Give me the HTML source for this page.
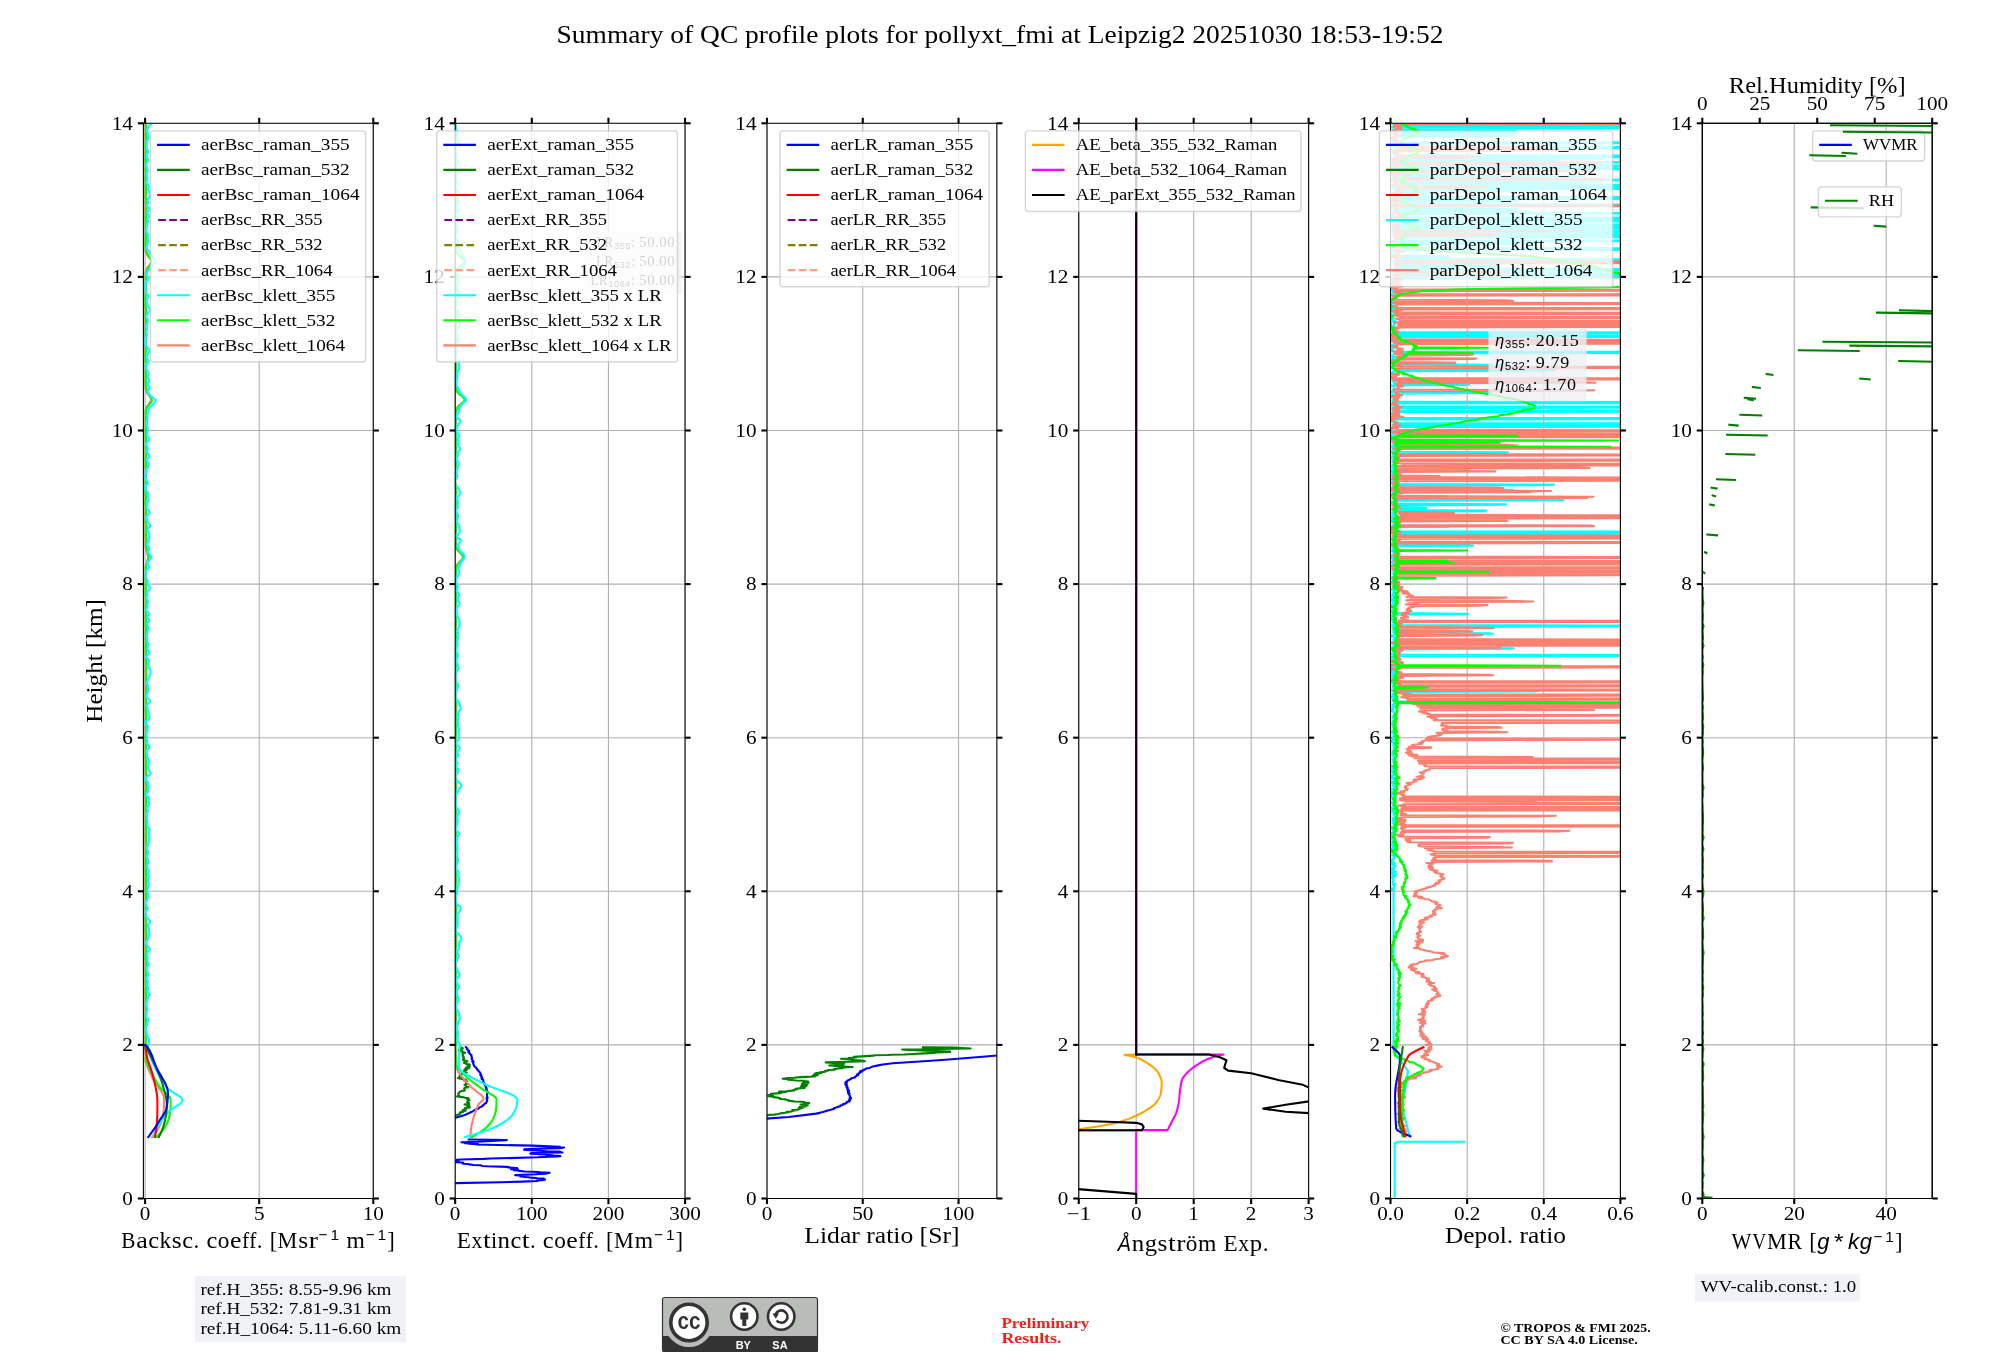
<!DOCTYPE html>
<html><head><meta charset="utf-8"><title>QC profile summary</title><style>html,body{margin:0;padding:0;background:#fff;overflow:hidden}svg{display:block;will-change:transform}</style></head><body>
<svg width="2000" height="1360" viewBox="0 0 1440 979.2" version="1.1">
<defs>
<style type="text/css">*{stroke-linejoin: round; stroke-linecap: butt}</style>
</defs>
<g id="figure_1">
<g id="patch_1">
<path d="M 0 979.2 
L 1440 979.2 
L 1440 0 
L 0 0 
z
" style="fill: #ffffff"/>
</g>
<g id="axes_1">
<g id="patch_2">
<path d="M 103.24 862.92 
L 268.77 862.92 
L 268.77 88.77 
L 103.24 88.77 
z
" style="fill: #ffffff"/>
</g>
<g id="matplotlib.axis_1">
<g id="xtick_1">
<g id="line2d_1">
<path d="M 104.48 862.92 
L 104.48 88.77 
" clip-path="url(#p21842c6471)" style="fill: none; stroke: #b0b0b0; stroke-width: 0.8; stroke-linecap: square"/>
</g>
<g id="line2d_2">
<defs>
<path id="mabf18fba1c" d="M 0 0 
L 0 4 
" style="stroke: #000000; stroke-width: 1.5"/>
</defs>
<g>
<use href="#mabf18fba1c" x="104.48" y="862.92" style="stroke: #000000; stroke-width: 1.5"/>
</g>
</g>
<g id="line2d_3">
<defs>
<path id="m81def42b3b" d="M 0 0 
L 0 -4 
" style="stroke: #000000; stroke-width: 1.5"/>
</defs>
<g>
<use href="#m81def42b3b" x="104.48" y="88.77" style="stroke: #000000; stroke-width: 1.5"/>
</g>
</g>
<g id="text_1">
<text style="font-size: 13.20px; font-family: 'Liberation Serif'; text-anchor: middle" x="104.48" y="878.67"  textLength="7.63" lengthAdjust="spacingAndGlyphs">0</text>
</g>
</g>
<g id="xtick_2">
<g id="line2d_4">
<path d="M 186.62 862.92 
L 186.62 88.77 
" clip-path="url(#p21842c6471)" style="fill: none; stroke: #b0b0b0; stroke-width: 0.8; stroke-linecap: square"/>
</g>
<g id="line2d_5">
<g>
<use href="#mabf18fba1c" x="186.62" y="862.92" style="stroke: #000000; stroke-width: 1.5"/>
</g>
</g>
<g id="line2d_6">
<g>
<use href="#m81def42b3b" x="186.62" y="88.77" style="stroke: #000000; stroke-width: 1.5"/>
</g>
</g>
<g id="text_2">
<text style="font-size: 13.20px; font-family: 'Liberation Serif'; text-anchor: middle" x="186.62" y="878.67"  textLength="7.63" lengthAdjust="spacingAndGlyphs">5</text>
</g>
</g>
<g id="xtick_3">
<g id="line2d_7">
<path d="M 268.77 862.92 
L 268.77 88.77 
" clip-path="url(#p21842c6471)" style="fill: none; stroke: #b0b0b0; stroke-width: 0.8; stroke-linecap: square"/>
</g>
<g id="line2d_8">
<g>
<use href="#mabf18fba1c" x="268.77" y="862.92" style="stroke: #000000; stroke-width: 1.5"/>
</g>
</g>
<g id="line2d_9">
<g>
<use href="#m81def42b3b" x="268.77" y="88.77" style="stroke: #000000; stroke-width: 1.5"/>
</g>
</g>
<g id="text_3">
<text style="font-size: 13.20px; font-family: 'Liberation Serif'; text-anchor: middle" x="268.77" y="878.67"  textLength="15.27" lengthAdjust="spacingAndGlyphs">10</text>
</g>
</g>
<g id="text_4">
<g transform="translate(187.24 899.12) scale(1.040) translate(-96.01 0)">
<text>
<tspan x="0" y="-0.49" style="font-size: 15.99px; font-family: 'Liberation Serif'" textLength="9.84" lengthAdjust="spacingAndGlyphs">B</tspan>
<tspan x="10.28" y="-0.49" style="font-size: 15.99px; font-family: 'Liberation Serif'" textLength="7.99" lengthAdjust="spacingAndGlyphs">a</tspan>
<tspan x="18.63" y="-0.49" style="font-size: 15.99px; font-family: 'Liberation Serif'" textLength="7.50" lengthAdjust="spacingAndGlyphs">c</tspan>
<tspan x="26.47" y="-0.49" style="font-size: 15.99px; font-family: 'Liberation Serif'" textLength="8.12" lengthAdjust="spacingAndGlyphs">k</tspan>
<tspan x="34.95" y="-0.49" style="font-size: 15.99px; font-family: 'Liberation Serif'" textLength="6.87" lengthAdjust="spacingAndGlyphs">s</tspan>
<tspan x="42.14" y="-0.49" style="font-size: 15.99px; font-family: 'Liberation Serif'" textLength="7.50" lengthAdjust="spacingAndGlyphs">c</tspan>
<tspan x="49.98" y="-0.49" style="font-size: 15.99px; font-family: 'Liberation Serif'">.</tspan>
<tspan x="54.43" y="-0.49" style="font-size: 15.99px; font-family: 'Liberation Serif'"> </tspan>
<tspan x="58.88" y="-0.49" style="font-size: 15.99px; font-family: 'Liberation Serif'" textLength="7.50" lengthAdjust="spacingAndGlyphs">c</tspan>
<tspan x="66.72" y="-0.49" style="font-size: 15.99px; font-family: 'Liberation Serif'" textLength="8.06" lengthAdjust="spacingAndGlyphs">o</tspan>
<tspan x="75.15" y="-0.49" style="font-size: 15.99px; font-family: 'Liberation Serif'" textLength="7.93" lengthAdjust="spacingAndGlyphs">e</tspan>
<tspan x="83.43" y="-0.49" style="font-size: 15.99px; font-family: 'Liberation Serif'" textLength="4.96" lengthAdjust="spacingAndGlyphs">f</tspan>
<tspan x="88.62" y="-0.49" style="font-size: 15.99px; font-family: 'Liberation Serif'" textLength="4.96" lengthAdjust="spacingAndGlyphs">f</tspan>
<tspan x="93.80" y="-0.49" style="font-size: 15.99px; font-family: 'Liberation Serif'">.</tspan>
<tspan x="98.25" y="-0.49" style="font-size: 15.99px; font-family: 'Liberation Serif'"> </tspan>
<tspan x="102.70" y="-0.49" style="font-size: 15.99px; font-family: 'Liberation Serif'" textLength="5.23" lengthAdjust="spacingAndGlyphs">[</tspan>
<tspan x="108.16" y="-0.49" style="font-size: 15.99px; font-family: 'Liberation Serif'" textLength="13.72" lengthAdjust="spacingAndGlyphs">M</tspan>
<tspan x="122.5" y="-0.49" style="font-size: 15.99px; font-family: 'Liberation Serif'" textLength="6.87" lengthAdjust="spacingAndGlyphs">s</tspan>
<tspan x="129.68" y="-0.49" style="font-size: 15.99px; font-family: 'Liberation Serif'" textLength="6.40" lengthAdjust="spacingAndGlyphs">r</tspan>
<tspan x="151.34" y="-0.49" style="font-size: 15.99px; font-family: 'Liberation Serif'"> </tspan>
<tspan x="155.79" y="-0.49" style="font-size: 15.99px; font-family: 'Liberation Serif'" textLength="12.70" lengthAdjust="spacingAndGlyphs">m</tspan>
<tspan x="184.02" y="-0.49" style="font-size: 15.99px; font-family: 'Liberation Serif'" textLength="5.23" lengthAdjust="spacingAndGlyphs">]</tspan>
<tspan x="136.51" y="-5.85" style="font-size: 10.68px; font-family: 'Liberation Sans'">−</tspan>
<tspan x="144.72" y="-5.85" style="font-size: 10.68px; font-family: 'Liberation Sans'" textLength="5.97" lengthAdjust="spacingAndGlyphs">1</tspan>
<tspan x="169.19" y="-5.85" style="font-size: 10.68px; font-family: 'Liberation Sans'">−</tspan>
<tspan x="177.41" y="-5.85" style="font-size: 10.68px; font-family: 'Liberation Sans'" textLength="5.97" lengthAdjust="spacingAndGlyphs">1</tspan>
</text>
</g>
</g>
</g>
<g id="matplotlib.axis_2">
<g id="ytick_1">
<g id="line2d_10">
<path d="M 103.24 862.92 
L 268.77 862.92 
" clip-path="url(#p21842c6471)" style="fill: none; stroke: #b0b0b0; stroke-width: 0.8; stroke-linecap: square"/>
</g>
<g id="line2d_11">
<defs>
<path id="m7d13c92054" d="M 0 0 
L -4 0 
" style="stroke: #000000; stroke-width: 1.5"/>
</defs>
<g>
<use href="#m7d13c92054" x="103.24" y="862.92" style="stroke: #000000; stroke-width: 1.5"/>
</g>
</g>
<g id="line2d_12">
<defs>
<path id="m4b7ecec418" d="M 0 0 
L 4 0 
" style="stroke: #000000; stroke-width: 1.5"/>
</defs>
<g>
<use href="#m4b7ecec418" x="268.77" y="862.92" style="stroke: #000000; stroke-width: 1.5"/>
</g>
</g>
<g id="text_5">
<text style="font-size: 13.20px; font-family: 'Liberation Serif'; text-anchor: end" x="95.74" y="867.47" transform="rotate(-0 95.74 867.47)" textLength="7.63" lengthAdjust="spacingAndGlyphs">0</text>
</g>
</g>
<g id="ytick_2">
<g id="line2d_13">
<path d="M 103.24 752.32 
L 268.77 752.32 
" clip-path="url(#p21842c6471)" style="fill: none; stroke: #b0b0b0; stroke-width: 0.8; stroke-linecap: square"/>
</g>
<g id="line2d_14">
<g>
<use href="#m7d13c92054" x="103.24" y="752.32" style="stroke: #000000; stroke-width: 1.5"/>
</g>
</g>
<g id="line2d_15">
<g>
<use href="#m4b7ecec418" x="268.77" y="752.32" style="stroke: #000000; stroke-width: 1.5"/>
</g>
</g>
<g id="text_6">
<text style="font-size: 13.20px; font-family: 'Liberation Serif'; text-anchor: end" x="95.74" y="756.88" transform="rotate(-0 95.74 756.88)" textLength="7.63" lengthAdjust="spacingAndGlyphs">2</text>
</g>
</g>
<g id="ytick_3">
<g id="line2d_16">
<path d="M 103.24 641.73 
L 268.77 641.73 
" clip-path="url(#p21842c6471)" style="fill: none; stroke: #b0b0b0; stroke-width: 0.8; stroke-linecap: square"/>
</g>
<g id="line2d_17">
<g>
<use href="#m7d13c92054" x="103.24" y="641.73" style="stroke: #000000; stroke-width: 1.5"/>
</g>
</g>
<g id="line2d_18">
<g>
<use href="#m4b7ecec418" x="268.77" y="641.73" style="stroke: #000000; stroke-width: 1.5"/>
</g>
</g>
<g id="text_7">
<text style="font-size: 13.20px; font-family: 'Liberation Serif'; text-anchor: end" x="95.74" y="646.29" transform="rotate(-0 95.74 646.29)" textLength="7.63" lengthAdjust="spacingAndGlyphs">4</text>
</g>
</g>
<g id="ytick_4">
<g id="line2d_19">
<path d="M 103.24 531.14 
L 268.77 531.14 
" clip-path="url(#p21842c6471)" style="fill: none; stroke: #b0b0b0; stroke-width: 0.8; stroke-linecap: square"/>
</g>
<g id="line2d_20">
<g>
<use href="#m7d13c92054" x="103.24" y="531.14" style="stroke: #000000; stroke-width: 1.5"/>
</g>
</g>
<g id="line2d_21">
<g>
<use href="#m4b7ecec418" x="268.77" y="531.14" style="stroke: #000000; stroke-width: 1.5"/>
</g>
</g>
<g id="text_8">
<text style="font-size: 13.20px; font-family: 'Liberation Serif'; text-anchor: end" x="95.74" y="535.70" transform="rotate(-0 95.74 535.70)" textLength="7.63" lengthAdjust="spacingAndGlyphs">6</text>
</g>
</g>
<g id="ytick_5">
<g id="line2d_22">
<path d="M 103.24 420.55 
L 268.77 420.55 
" clip-path="url(#p21842c6471)" style="fill: none; stroke: #b0b0b0; stroke-width: 0.8; stroke-linecap: square"/>
</g>
<g id="line2d_23">
<g>
<use href="#m7d13c92054" x="103.24" y="420.55" style="stroke: #000000; stroke-width: 1.5"/>
</g>
</g>
<g id="line2d_24">
<g>
<use href="#m4b7ecec418" x="268.77" y="420.55" style="stroke: #000000; stroke-width: 1.5"/>
</g>
</g>
<g id="text_9">
<text style="font-size: 13.20px; font-family: 'Liberation Serif'; text-anchor: end" x="95.74" y="425.11" transform="rotate(-0 95.74 425.11)" textLength="7.63" lengthAdjust="spacingAndGlyphs">8</text>
</g>
</g>
<g id="ytick_6">
<g id="line2d_25">
<path d="M 103.24 309.96 
L 268.77 309.96 
" clip-path="url(#p21842c6471)" style="fill: none; stroke: #b0b0b0; stroke-width: 0.8; stroke-linecap: square"/>
</g>
<g id="line2d_26">
<g>
<use href="#m7d13c92054" x="103.24" y="309.96" style="stroke: #000000; stroke-width: 1.5"/>
</g>
</g>
<g id="line2d_27">
<g>
<use href="#m4b7ecec418" x="268.77" y="309.96" style="stroke: #000000; stroke-width: 1.5"/>
</g>
</g>
<g id="text_10">
<text style="font-size: 13.20px; font-family: 'Liberation Serif'; text-anchor: end" x="95.74" y="314.51" transform="rotate(-0 95.74 314.51)" textLength="15.27" lengthAdjust="spacingAndGlyphs">10</text>
</g>
</g>
<g id="ytick_7">
<g id="line2d_28">
<path d="M 103.24 199.36 
L 268.77 199.36 
" clip-path="url(#p21842c6471)" style="fill: none; stroke: #b0b0b0; stroke-width: 0.8; stroke-linecap: square"/>
</g>
<g id="line2d_29">
<g>
<use href="#m7d13c92054" x="103.24" y="199.36" style="stroke: #000000; stroke-width: 1.5"/>
</g>
</g>
<g id="line2d_30">
<g>
<use href="#m4b7ecec418" x="268.77" y="199.36" style="stroke: #000000; stroke-width: 1.5"/>
</g>
</g>
<g id="text_11">
<text style="font-size: 13.20px; font-family: 'Liberation Serif'; text-anchor: end" x="95.74" y="203.92" transform="rotate(-0 95.74 203.92)" textLength="15.27" lengthAdjust="spacingAndGlyphs">12</text>
</g>
</g>
<g id="ytick_8">
<g id="line2d_31">
<path d="M 103.24 88.77 
L 268.77 88.77 
" clip-path="url(#p21842c6471)" style="fill: none; stroke: #b0b0b0; stroke-width: 0.8; stroke-linecap: square"/>
</g>
<g id="line2d_32">
<g>
<use href="#m7d13c92054" x="103.24" y="88.77" style="stroke: #000000; stroke-width: 1.5"/>
</g>
</g>
<g id="line2d_33">
<g>
<use href="#m4b7ecec418" x="268.77" y="88.77" style="stroke: #000000; stroke-width: 1.5"/>
</g>
</g>
<g id="text_12">
<text style="font-size: 13.20px; font-family: 'Liberation Serif'; text-anchor: end" x="95.74" y="93.33" transform="rotate(-0 95.74 93.33)" textLength="15.27" lengthAdjust="spacingAndGlyphs">14</text>
</g>
</g>
<g id="text_13">
<text style="font-size: 16.63px; font-family: 'Liberation Serif'; text-anchor: middle" x="73.36" y="475.84"  textLength="89.14" lengthAdjust="spacingAndGlyphs" transform="rotate(-90 73.36 475.84)">Height [km]</text>
</g>
</g>
<g id="line2d_34">
<path d="M 109.57 818.68 
L 111.41 816.47 
L 112.97 814.25 
L 114.27 812.04 
L 115.33 809.83 
L 116.17 807.62 
L 116.96 804.85 
L 117.50 802.09 
L 117.89 798.77 
L 118.08 794.90 
L 118.08 790.48 
L 117.88 789.37 
L 117.49 788.27 
L 116.64 786.61 
L 115.15 784.39 
L 111.16 778.87 
L 110.01 776.65 
L 107.47 771.12 
L 105.43 766.15 
L 104.80 764.49 
L 104.64 764.49 
L 104.73 408.93 
L 104.94 407.28 
L 105.36 405.62 
L 106.49 402.30 
L 106.61 401.19 
L 106.49 400.09 
L 105.97 398.43 
L 105.20 396.22 
L 104.85 394.56 
L 104.68 392.35 
L 104.64 386.82 
L 104.71 296.68 
L 104.93 295.03 
L 105.26 293.92 
L 105.80 292.81 
L 106.98 291.15 
L 108.21 289.50 
L 108.68 288.39 
L 108.75 287.84 
L 108.68 287.28 
L 108.21 286.18 
L 106.98 284.52 
L 105.80 282.86 
L 105.26 281.75 
L 104.93 280.65 
L 104.71 278.99 
L 104.64 275.67 
L 104.64 217.61 
L 104.71 197.15 
L 104.93 195.49 
L 105.26 194.39 
L 105.80 193.28 
L 106.98 191.62 
L 108.21 189.96 
L 108.68 188.86 
L 108.75 188.30 
L 108.68 187.75 
L 108.21 186.64 
L 106.98 184.99 
L 105.80 183.33 
L 105.26 182.22 
L 104.93 181.12 
L 104.71 179.46 
L 104.64 176.14 
L 104.64 118.08 
L 104.64 89.32 
L 104.64 89.32 
" clip-path="url(#p21842c6471)" style="fill: none; stroke: #fa8072; stroke-width: 1.5; stroke-linecap: square"/>
</g>
<g id="line2d_35">
<path d="M 112.53 818.68 
L 114.90 816.47 
L 116.89 814.25 
L 118.51 812.04 
L 119.81 809.83 
L 120.82 807.62 
L 121.58 805.41 
L 122.13 803.20 
L 122.56 800.43 
L 122.81 797.11 
L 122.88 792.69 
L 122.83 791.58 
L 122.44 790.48 
L 121.75 789.37 
L 120.29 787.71 
L 117.33 784.95 
L 115.65 783.29 
L 114.71 782.18 
L 113.30 779.97 
L 110.70 775.55 
L 108.67 771.68 
L 107.18 768.36 
L 106.14 765.59 
L 105.79 764.49 
L 105.13 764.49 
L 105.28 761.72 
L 105.37 758.96 
L 105.20 757.30 
L 105.01 755.64 
L 104.89 750.11 
L 105.08 748.45 
L 105.07 746.79 
L 105.26 744.58 
L 104.92 741.82 
L 104.97 740.16 
L 104.95 739.05 
L 105.10 736.84 
L 104.94 733.52 
L 105.04 730.76 
L 105.32 727.99 
L 105.47 726.33 
L 105.15 723.57 
L 105.28 722.46 
L 105.13 718.59 
L 105.15 716.93 
L 104.94 714.72 
L 105.23 711.40 
L 105.03 708.64 
L 105 706.98 
L 105.28 704.22 
L 105.09 702 
L 105.10 698.69 
L 105.06 696.47 
L 105.25 695.37 
L 105.49 694.26 
L 105.40 693.16 
L 105.04 690.94 
L 104.88 688.73 
L 105.34 684.31 
L 105.40 682.65 
L 105.33 679.89 
L 105.25 678.23 
L 105.19 676.57 
L 105.48 673.25 
L 104.94 669.93 
L 105.02 666.06 
L 105.14 664.96 
L 105.03 663.30 
L 104.90 661.08 
L 104.94 658.87 
L 105.27 656.11 
L 105.09 652.79 
L 105.05 651.68 
L 105.30 646.71 
L 105.18 643.39 
L 105.31 641.18 
L 105.24 638.97 
L 105.32 637.31 
L 105.09 633.44 
L 105.28 630.67 
L 105.08 628.46 
L 105.03 626.80 
L 105.19 623.48 
L 105.03 620.72 
L 105.34 614.64 
L 105.43 607.45 
L 105.10 605.24 
L 105.06 595.84 
L 105.19 594.18 
L 105.10 591.41 
L 105.40 589.20 
L 105.29 586.99 
L 105.39 585.33 
L 105.18 584.22 
L 104.90 583.12 
L 104.94 582.01 
L 105.19 580.35 
L 105.22 574.27 
L 105.09 573.16 
L 104.75 571.51 
L 104.80 570.40 
L 105.38 568.74 
L 105.61 567.63 
L 105.55 566.53 
L 105.19 563.21 
L 105.26 561 
L 105.36 557.68 
L 105.02 554.92 
L 105.04 552.70 
L 104.97 551.05 
L 105.44 548.28 
L 105.14 546.62 
L 105.01 545.52 
L 105.02 541.09 
L 105.05 537.77 
L 105.08 536.12 
L 105.14 533.90 
L 105.13 532.80 
L 104.67 530.59 
L 105 529.48 
L 105.31 528.37 
L 105.43 526.72 
L 105.10 520.08 
L 104.99 518.42 
L 105.18 517.32 
L 105.54 515.66 
L 105.48 514.55 
L 104.93 511.79 
L 105.08 509.57 
L 105.25 507.36 
L 105.03 501.28 
L 105.32 499.07 
L 105.57 492.98 
L 105.46 491.88 
L 105.22 490.22 
L 105.24 488.01 
L 105.33 485.80 
L 105.13 484.69 
L 104.88 483.58 
L 105 482.48 
L 105.42 480.82 
L 105.37 479.71 
L 105.10 477.50 
L 105.18 476.40 
L 105.31 475.29 
L 105.13 473.08 
L 105.03 469.76 
L 105.05 465.89 
L 105.27 463.12 
L 105.07 459.25 
L 105.43 457.04 
L 105.24 455.94 
L 105.06 454.83 
L 105.18 453.72 
L 105.37 452.62 
L 105.30 451.51 
L 104.93 449.85 
L 104.97 448.75 
L 105.12 447.09 
L 105.10 445.43 
L 105.24 443.77 
L 105.04 439.90 
L 105.13 438.79 
L 105.08 436.58 
L 105.54 433.82 
L 105.38 432.71 
L 105.11 431.05 
L 104.89 421.65 
L 105.04 420.55 
L 105.37 418.89 
L 105.25 417.78 
L 104.86 416.12 
L 104.86 415.02 
L 105.13 412.25 
L 105.15 410.59 
L 105.02 408.38 
L 105.32 407.28 
L 106.24 405.06 
L 106.68 403.41 
L 107.21 400.64 
L 107.03 399.53 
L 105.82 395.66 
L 105.24 392.90 
L 105.14 391.79 
L 105.30 390.69 
L 105.55 389.58 
L 105.55 388.48 
L 105.07 385.71 
L 104.97 382.39 
L 105.49 379.63 
L 105.41 378.52 
L 104.98 376.31 
L 104.99 375.20 
L 105.09 372.99 
L 105.11 371.89 
L 105.30 370.23 
L 105.12 364.70 
L 104.79 362.49 
L 104.79 360.27 
L 105.19 358.62 
L 105.10 357.51 
L 104.92 355.85 
L 104.76 351.98 
L 104.90 350.87 
L 104.95 348.66 
L 105.14 347 
L 105.22 343.69 
L 104.99 342.03 
L 105.15 340.92 
L 105.40 339.81 
L 105.42 338.71 
L 105.20 337.05 
L 105 335.39 
L 105.09 332.07 
L 104.87 329.86 
L 105.07 328.76 
L 105.37 327.10 
L 105.35 325.99 
L 105.04 323.23 
L 105.18 319.36 
L 105.05 314.38 
L 105.12 310.51 
L 105.07 309.40 
L 105.21 306.08 
L 105.16 304.43 
L 105.37 301.66 
L 105.28 300 
L 105.22 298.34 
L 104.93 296.68 
L 105.03 295.58 
L 105.34 294.47 
L 106.07 292.81 
L 106.95 291.71 
L 108.61 290.05 
L 108.99 289.50 
L 109.24 288.94 
L 109.34 288.39 
L 109.31 287.84 
L 108.97 286.73 
L 108.18 285.07 
L 107.30 283.97 
L 106.39 282.86 
L 105.77 281.75 
L 105.54 280.65 
L 105.35 278.99 
L 105.03 276.78 
L 104.80 273.46 
L 105.15 271.80 
L 105.30 270.69 
L 105.10 269.04 
L 104.98 267.38 
L 105.10 265.72 
L 105.44 262.95 
L 105.29 261.85 
L 105.02 260.19 
L 104.75 256.32 
L 104.92 253 
L 105.06 251.34 
L 104.95 248.58 
L 104.99 246.92 
L 104.92 245.26 
L 105.11 240.28 
L 104.93 238.07 
L 105.16 235.86 
L 105.59 233.65 
L 105.46 232.54 
L 105.20 230.88 
L 104.97 227.01 
L 105.07 225.35 
L 105.29 223.69 
L 105.12 222.59 
L 104.90 221.48 
L 104.77 213.74 
L 104.99 212.63 
L 105.25 211.53 
L 105.26 210.42 
L 104.89 208.21 
L 105.11 204.89 
L 105.29 203.23 
L 105.17 199.36 
L 105.48 196.05 
L 105.74 194.94 
L 106.15 193.83 
L 106.84 192.73 
L 108.06 191.07 
L 108.80 189.41 
L 109.10 188.30 
L 109.09 187.75 
L 108.93 187.20 
L 108.31 186.09 
L 106.05 182.77 
L 105.59 181.67 
L 105.40 180.56 
L 105.21 178.90 
L 104.90 177.24 
L 104.91 175.03 
L 105.04 172.27 
L 105.17 170.61 
L 105.17 169.50 
L 105.08 168.40 
L 105.33 165.63 
L 105.08 163.97 
L 105.15 162.87 
L 105.43 161.21 
L 105.32 160.10 
L 105.02 158.44 
L 105.13 155.13 
L 105.16 154.02 
L 105.49 151.26 
L 105.56 149.60 
L 105.25 145.73 
L 105.34 144.62 
L 105.19 143.51 
L 104.95 142.41 
L 104.95 141.30 
L 105.10 139.09 
L 105.09 134.11 
L 105.13 132.45 
L 104.94 129.69 
L 104.98 128.03 
L 105.27 125.82 
L 105.07 124.16 
L 104.97 122.50 
L 105.11 120.84 
L 105.22 119.74 
L 104.96 114.21 
L 105.03 112 
L 105.29 109.78 
L 105.13 106.47 
L 105.04 104.25 
L 105.17 102.6 
L 105.53 99.83 
L 105.31 98.72 
L 105.06 97.62 
L 105.18 96.51 
L 105.44 95.41 
L 105.43 94.30 
L 105.29 92.64 
L 105.26 89.88 
L 105.24 89.32 
L 105.24 89.32 
" clip-path="url(#p21842c6471)" style="fill: none; stroke: #00ff00; stroke-width: 1.5; stroke-linecap: square"/>
</g>
<g id="line2d_36">
<path d="M 110.55 818.68 
L 110.94 817.02 
L 111.72 814.81 
L 112.74 812.60 
L 113.99 810.38 
L 115.80 807.62 
L 118.26 804.30 
L 120.90 800.98 
L 122.05 799.88 
L 123.56 798.77 
L 129.46 794.90 
L 130.66 793.8 
L 131.07 793.24 
L 131.33 792.69 
L 131.42 792.14 
L 131.32 791.58 
L 131.02 791.03 
L 129.95 789.92 
L 128.41 788.82 
L 121.46 784.39 
L 120.43 783.29 
L 118.29 780.52 
L 116.45 777.76 
L 114.52 774.44 
L 112.25 770.02 
L 109.65 764.49 
L 107.82 760.06 
L 106.46 756.19 
L 105.79 753.98 
L 106.25 753.98 
L 106.42 752.88 
L 106.98 751.22 
L 107.25 750.11 
L 107.38 748.45 
L 107.25 747.90 
L 106.60 746.79 
L 105.92 745.69 
L 105.64 744.58 
L 105.49 742.37 
L 104.86 740.71 
L 104.89 740.16 
L 105.16 739.60 
L 105.93 738.50 
L 106.04 737.95 
L 105.88 736.84 
L 106 736.29 
L 106.87 734.63 
L 106.85 734.08 
L 106.53 733.52 
L 105.46 732.42 
L 105.21 731.86 
L 105.29 731.31 
L 105.62 730.20 
L 105.44 728.55 
L 106.15 726.89 
L 106.11 726.33 
L 105.44 724.12 
L 105.41 722.46 
L 105.55 721.36 
L 106.19 719.15 
L 106.74 718.04 
L 107.80 716.38 
L 107.83 715.83 
L 107.48 715.27 
L 106.29 714.17 
L 106.10 713.62 
L 106.35 713.06 
L 106.74 712.51 
L 106.94 711.96 
L 106.80 711.40 
L 106.11 710.30 
L 105.91 709.75 
L 105.90 709.19 
L 106.47 706.98 
L 106.36 706.43 
L 105.42 704.22 
L 105.68 703.66 
L 106.50 702.56 
L 106.76 702 
L 106.85 701.45 
L 106.74 700.90 
L 105.94 699.24 
L 105.62 697.03 
L 105.67 696.47 
L 105.99 695.92 
L 106.92 694.82 
L 107.09 694.26 
L 106.95 693.71 
L 106.14 692.05 
L 106.10 691.50 
L 106.36 689.84 
L 106.15 688.18 
L 105.91 686.52 
L 105.95 685.97 
L 106.24 685.41 
L 107.91 683.76 
L 107.90 683.20 
L 107.50 682.65 
L 106.48 681.54 
L 105.84 680.44 
L 105.08 678.78 
L 105.15 678.23 
L 105.89 677.12 
L 106.28 676.57 
L 106.65 675.46 
L 106.97 674.36 
L 107.47 673.25 
L 107.58 672.70 
L 107.38 671.59 
L 107.17 670.48 
L 107.18 668.83 
L 106.83 667.72 
L 106.47 666.61 
L 106.53 666.06 
L 106.80 665.51 
L 108.01 663.85 
L 108.08 663.30 
L 107.85 662.74 
L 106.74 661.64 
L 105.68 660.53 
L 105.45 659.98 
L 105.16 657.77 
L 105.02 657.21 
L 105.07 656.66 
L 105.35 656.11 
L 106.13 655 
L 106.32 654.45 
L 106.29 653.90 
L 105.81 652.79 
L 105.37 651.68 
L 105.21 650.58 
L 105.16 649.47 
L 105.22 648.92 
L 105.41 648.37 
L 106.18 647.26 
L 106.61 646.71 
L 106.86 646.15 
L 106.84 645.05 
L 106.62 643.39 
L 105.91 641.73 
L 105.91 641.18 
L 107.13 637.31 
L 107.16 636.75 
L 106.79 635.10 
L 106.44 633.44 
L 106.51 632.88 
L 107.15 631.22 
L 107.11 630.67 
L 106.69 629.57 
L 106.64 629.01 
L 106.98 627.91 
L 107.15 627.35 
L 107.15 626.80 
L 106.94 626.25 
L 105.95 624.59 
L 105.87 624.04 
L 106.09 622.93 
L 106.90 620.72 
L 106.95 620.17 
L 106.85 619.61 
L 105.87 617.40 
L 105.79 616.29 
L 105.95 615.74 
L 106.72 614.08 
L 106.71 613.53 
L 106.11 611.87 
L 105.79 610.77 
L 105.80 610.21 
L 106.23 609.11 
L 107.18 606.89 
L 107.47 605.79 
L 107.28 603.58 
L 107.47 602.47 
L 107.35 601.36 
L 107.14 600.26 
L 107.19 599.71 
L 107.61 598.60 
L 107.83 598.05 
L 107.87 597.49 
L 107.64 596.94 
L 106.28 595.28 
L 106.13 594.73 
L 106.03 592.52 
L 106.14 591.41 
L 105.90 589.75 
L 105.99 588.09 
L 105.53 586.44 
L 105.65 585.88 
L 106.50 584.22 
L 106.55 583.67 
L 106.22 582.56 
L 106.02 582.01 
L 105.94 581.46 
L 106.11 580.91 
L 107.47 579.25 
L 107.53 578.69 
L 106.86 577.03 
L 107 576.48 
L 107.51 575.38 
L 107.48 574.82 
L 107.13 574.27 
L 105.24 572.61 
L 105.12 572.06 
L 105.42 571.51 
L 106.33 570.40 
L 106.57 569.85 
L 106.59 568.74 
L 106.68 567.63 
L 106.96 566.53 
L 106.90 565.42 
L 106.50 563.21 
L 106.07 562.66 
L 104.92 561.55 
L 104.53 561 
L 104.43 560.45 
L 104.74 559.89 
L 105.45 559.34 
L 107.40 558.23 
L 108.13 557.68 
L 108.48 557.13 
L 108.45 556.58 
L 107.01 553.81 
L 106.53 552.70 
L 106.49 552.15 
L 107.20 548.83 
L 107.45 547.73 
L 107.31 547.17 
L 106.48 546.07 
L 106.07 545.52 
L 105.83 544.96 
L 105.79 544.41 
L 105.99 542.75 
L 105.45 541.09 
L 105.54 540.54 
L 105.94 539.99 
L 107.18 538.88 
L 107.60 538.33 
L 107.67 537.77 
L 107.39 537.22 
L 105.90 535.56 
L 105.71 535.01 
L 105.87 532.80 
L 105.61 531.69 
L 105.72 530.03 
L 105.37 528.93 
L 105.38 528.37 
L 106.13 526.16 
L 106.03 524.50 
L 106.42 522.84 
L 106.26 522.29 
L 105.67 521.74 
L 104.19 520.63 
L 104.15 520.08 
L 104.76 519.53 
L 106.53 518.42 
L 107.10 517.87 
L 107.44 517.32 
L 107.60 516.76 
L 107.63 516.21 
L 107.37 515.10 
L 107.05 514 
L 106.81 512.34 
L 106.41 511.23 
L 106.14 509.57 
L 105.65 508.47 
L 105.64 507.91 
L 105.93 507.36 
L 107.16 506.26 
L 107.77 505.70 
L 108.14 505.15 
L 108.18 504.60 
L 107.88 504.04 
L 106.63 502.94 
L 105.99 502.39 
L 105.55 501.83 
L 105.37 501.28 
L 105.43 500.73 
L 106.03 499.07 
L 106.78 497.41 
L 106.80 496.86 
L 106.57 495.20 
L 106.73 494.09 
L 106.63 493.54 
L 105.47 491.88 
L 105.47 491.33 
L 105.79 490.77 
L 106.65 489.67 
L 107.12 488.56 
L 107.60 486.90 
L 108.45 485.24 
L 108.45 484.69 
L 108.20 483.58 
L 108.29 482.48 
L 108.16 481.93 
L 106.70 479.71 
L 106.59 478.61 
L 106.76 477.50 
L 107.21 475.84 
L 107.18 475.29 
L 106.87 474.74 
L 105.11 473.08 
L 105.14 472.53 
L 105.68 471.97 
L 107.21 470.87 
L 107.62 470.31 
L 107.65 469.76 
L 107.39 469.21 
L 106.31 467.55 
L 106.13 467 
L 106.19 466.44 
L 107.09 464.78 
L 107 464.23 
L 106.25 462.57 
L 105.87 460.91 
L 105.76 457.60 
L 105.86 456.49 
L 105.89 455.38 
L 106.14 454.83 
L 106.89 453.72 
L 107.02 453.17 
L 106.72 452.07 
L 105.85 449.30 
L 105.97 448.75 
L 106.40 448.2 
L 107.48 447.09 
L 107.63 446.54 
L 107.35 445.98 
L 106.23 444.88 
L 105.97 444.32 
L 106.09 443.77 
L 107.39 442.11 
L 107.44 441.56 
L 107.06 441.01 
L 105.75 439.90 
L 105.37 439.35 
L 105.31 438.79 
L 105.53 438.24 
L 106.17 437.14 
L 106.21 436.58 
L 105.97 435.48 
L 106.14 434.92 
L 106.72 433.82 
L 106.76 433.27 
L 106.59 432.71 
L 105.61 431.05 
L 105.48 430.50 
L 105.59 429.95 
L 106.14 428.84 
L 106.26 428.29 
L 105.85 426.63 
L 106.05 426.08 
L 107.16 424.97 
L 107.72 424.42 
L 108.07 423.86 
L 108.13 423.31 
L 107.89 422.76 
L 106.16 420.55 
L 106.09 419.99 
L 106.25 417.78 
L 105.66 416.68 
L 105.08 415.57 
L 105.03 415.02 
L 105.42 412.81 
L 105.19 411.70 
L 105.20 411.15 
L 105.43 410.59 
L 105.89 410.04 
L 107.17 408.93 
L 107.57 408.38 
L 107.59 407.83 
L 107.23 407.28 
L 106.22 406.17 
L 105.99 405.62 
L 106.10 405.06 
L 106.50 404.51 
L 108.17 402.85 
L 108.76 401.75 
L 108.94 401.19 
L 108.93 400.64 
L 108.68 400.09 
L 107.60 398.98 
L 107 398.43 
L 106.58 397.88 
L 106.50 397.32 
L 106.73 396.77 
L 107.43 395.66 
L 107.53 395.11 
L 107.43 394.56 
L 106.82 393.45 
L 106.08 392.35 
L 105.95 391.79 
L 106.14 391.24 
L 106.93 390.13 
L 107.12 389.58 
L 107.14 387.92 
L 107.52 386.26 
L 107.55 385.16 
L 107.33 384.05 
L 106.84 382.95 
L 106.26 381.84 
L 106.21 381.29 
L 106.48 380.73 
L 108.19 379.08 
L 108.39 378.52 
L 108.18 377.97 
L 106.23 375.76 
L 105.90 374.65 
L 105.58 373.55 
L 105.35 372.99 
L 105.29 372.44 
L 105.53 371.89 
L 106.64 370.78 
L 107.67 369.67 
L 107.92 369.12 
L 107.89 368.57 
L 107.57 368.02 
L 105.93 366.36 
L 105.60 365.80 
L 105.52 365.25 
L 105.88 364.15 
L 106.08 363.59 
L 106.15 363.04 
L 106.05 361.93 
L 106.19 361.38 
L 106.87 360.27 
L 107.03 359.72 
L 106.80 358.62 
L 106.29 356.40 
L 106.51 354.74 
L 106.23 354.19 
L 105.21 353.09 
L 104.88 352.53 
L 104.45 350.87 
L 104.42 350.32 
L 104.73 349.77 
L 106.55 348.11 
L 106.52 347.56 
L 105.46 345.90 
L 104.81 343.69 
L 104.33 342.58 
L 104.31 342.03 
L 104.57 341.47 
L 104.97 340.92 
L 105.23 340.37 
L 105.13 338.71 
L 106.31 336.50 
L 106.44 335.94 
L 107.26 334.29 
L 107.12 333.73 
L 105.77 332.07 
L 105.61 331.52 
L 105.82 330.97 
L 107.51 329.31 
L 107.70 328.76 
L 107.62 328.20 
L 107.03 327.10 
L 105.78 325.44 
L 105.69 324.88 
L 106.09 323.78 
L 106.31 323.23 
L 106.40 322.67 
L 106.33 322.12 
L 105.77 321.01 
L 105.11 319.91 
L 105.08 319.36 
L 105.40 318.80 
L 107.10 317.14 
L 107.38 316.59 
L 107.44 316.04 
L 107.30 315.48 
L 106.54 314.38 
L 106.11 313.83 
L 105.86 313.27 
L 105.87 312.72 
L 106.11 311.61 
L 106.26 309.96 
L 106.51 308.85 
L 106.39 308.30 
L 105.91 307.19 
L 105.74 306.08 
L 105.71 304.98 
L 106.11 302.21 
L 106.40 301.11 
L 106.40 300.55 
L 106.01 298.90 
L 106.49 297.79 
L 106.88 296.68 
L 106.91 295.58 
L 106.91 294.47 
L 107.19 293.92 
L 107.78 293.37 
L 109.98 291.71 
L 112.03 288.94 
L 112.21 288.39 
L 111.95 287.84 
L 111.29 287.28 
L 109.66 286.18 
L 108.53 285.07 
L 106.41 282.31 
L 106.22 281.75 
L 106.41 281.20 
L 107.70 279.54 
L 107.71 278.99 
L 107.46 278.44 
L 106.28 276.78 
L 106.18 276.22 
L 106.47 275.67 
L 107.51 274.57 
L 107.68 274.01 
L 107.48 273.46 
L 106.46 271.80 
L 106.38 271.25 
L 106.52 270.69 
L 107.08 269.59 
L 107.13 269.04 
L 106.94 268.48 
L 105.99 266.82 
L 105.26 265.17 
L 104.71 264.06 
L 104.61 263.51 
L 104.75 262.95 
L 105.14 262.40 
L 106.86 260.74 
L 107.05 260.19 
L 106.91 259.64 
L 105.84 257.98 
L 105.64 257.42 
L 105.57 256.87 
L 105.62 256.32 
L 105.82 255.76 
L 106.92 254.11 
L 107.59 253 
L 107.69 252.45 
L 107.49 251.89 
L 106.04 250.24 
L 104.87 248.02 
L 104.54 247.47 
L 104.39 246.92 
L 104.71 243.60 
L 105.31 242.49 
L 105.88 241.39 
L 105.96 240.84 
L 105.81 240.28 
L 105.27 239.18 
L 105.27 238.62 
L 105.75 236.96 
L 105.31 234.75 
L 105.70 233.65 
L 106.23 232.54 
L 106.50 231.43 
L 106.39 230.33 
L 105.86 229.22 
L 105.36 228.12 
L 105.36 227.56 
L 105.80 226.46 
L 106.41 225.35 
L 107.57 224.25 
L 108.13 223.69 
L 108.38 223.14 
L 108.21 222.59 
L 106.88 220.93 
L 106.16 219.27 
L 105.56 217.61 
L 105.55 216.50 
L 105.75 215.40 
L 106.01 214.85 
L 106.82 213.74 
L 106.98 213.19 
L 106.76 212.63 
L 105.20 210.98 
L 105.14 210.42 
L 105.43 209.32 
L 105.35 208.76 
L 104.68 207.10 
L 104.76 206 
L 104.88 204.89 
L 104.61 203.23 
L 104.97 202.68 
L 106.82 201.02 
L 107.03 200.47 
L 106.89 199.92 
L 105.37 198.26 
L 105.23 197.70 
L 105.37 197.15 
L 106.42 194.94 
L 107.71 193.83 
L 108.96 192.73 
L 111.66 188.86 
L 112.03 187.75 
L 111.96 187.20 
L 111.64 186.64 
L 108.16 182.77 
L 107.69 181.12 
L 107.22 180.56 
L 105.85 179.46 
L 105.48 178.90 
L 105.47 178.35 
L 106.03 176.69 
L 106.18 175.59 
L 106.62 173.93 
L 106.61 172.82 
L 106.39 171.16 
L 106.44 170.61 
L 106.79 169.50 
L 106.76 168.95 
L 106.43 168.40 
L 105.42 167.29 
L 105.16 166.74 
L 105.15 165.63 
L 105.27 164.53 
L 105.93 162.87 
L 105.90 161.21 
L 106.61 159.55 
L 106.46 159 
L 106.15 158.44 
L 106.03 157.89 
L 106.30 157.34 
L 107.31 156.23 
L 107.45 155.68 
L 107.20 155.13 
L 106.27 154.02 
L 106.02 153.47 
L 106.06 152.91 
L 106.37 152.36 
L 107.35 151.26 
L 107.64 150.70 
L 107.57 150.15 
L 107.14 149.60 
L 105.98 148.49 
L 105.76 147.94 
L 105.91 147.38 
L 106.58 146.28 
L 106.65 145.73 
L 106.18 144.07 
L 106.39 143.51 
L 107.15 142.41 
L 108.19 140.20 
L 108.30 139.64 
L 108.23 139.09 
L 107.69 137.98 
L 106.65 136.33 
L 106.62 135.77 
L 107.24 134.11 
L 107.05 133.56 
L 105.47 131.90 
L 105.31 131.35 
L 105.45 130.80 
L 105.97 129.69 
L 106.11 128.58 
L 105.87 126.93 
L 105.56 125.27 
L 105.59 124.71 
L 106.07 123.61 
L 106.30 123.05 
L 106.38 122.50 
L 106.27 121.95 
L 105.50 120.29 
L 105.38 119.18 
L 105.40 118.08 
L 105.60 117.52 
L 106.79 115.87 
L 106.89 115.31 
L 106.74 114.76 
L 105.70 113.10 
L 105.56 112.55 
L 105.61 111.44 
L 105.82 110.89 
L 106.54 109.78 
L 106.69 109.23 
L 106.53 108.68 
L 105.87 107.57 
L 105.71 107.02 
L 105.57 102.04 
L 105.80 101.49 
L 106.89 99.83 
L 106.99 99.28 
L 106.88 98.17 
L 106.48 96.51 
L 105.84 94.30 
L 105.84 93.75 
L 106.19 92.64 
L 106.86 91.54 
L 108.71 89.32 
L 108.71 89.32 
" clip-path="url(#p21842c6471)" style="fill: none; stroke: #00ffff; stroke-width: 1.5; stroke-linecap: square"/>
</g>
<g id="line2d_37">
<path d="M 111.54 818.68 
L 111.65 818.13 
L 111.76 817.57 
L 111.87 817.02 
L 111.97 816.47 
L 112.06 815.91 
L 112.15 815.36 
L 112.24 814.81 
L 112.32 814.25 
L 112.40 813.70 
L 112.47 813.15 
L 112.54 812.60 
L 112.61 812.04 
L 112.67 811.49 
L 112.73 810.94 
L 112.79 810.38 
L 112.84 809.83 
L 112.89 809.28 
L 112.93 808.72 
L 112.97 808.17 
L 113.01 807.62 
L 113.05 807.07 
L 113.08 806.51 
L 113.11 805.96 
L 113.14 805.41 
L 113.17 804.85 
L 113.19 804.30 
L 113.21 803.75 
L 113.23 803.20 
L 113.25 802.64 
L 113.27 802.09 
L 113.28 801.54 
L 113.29 800.98 
L 113.30 800.43 
L 113.31 799.88 
L 113.32 799.32 
L 113.33 798.77 
L 113.33 798.22 
L 113.34 797.67 
L 113.34 797.11 
L 113.34 796.56 
L 113.34 796.01 
L 113.35 795.45 
L 113.35 794.90 
L 113.35 794.35 
L 113.35 793.8 
L 113.35 793.24 
L 113.34 792.69 
L 113.33 792.14 
L 113.30 791.58 
L 113.27 791.03 
L 113.23 790.48 
L 113.18 789.92 
L 113.13 789.37 
L 113.07 788.82 
L 113 788.27 
L 112.92 787.71 
L 112.84 787.16 
L 112.75 786.61 
L 112.66 786.05 
L 112.56 785.50 
L 112.46 784.95 
L 112.36 784.39 
L 112.25 783.84 
L 112.13 783.29 
L 112.02 782.74 
L 111.90 782.18 
L 111.78 781.63 
L 111.66 781.08 
L 111.54 780.52 
L 111.41 779.97 
L 111.29 779.42 
L 111.17 778.87 
L 111.04 778.31 
L 110.92 777.76 
L 110.79 777.21 
L 110.67 776.65 
L 110.55 776.10 
L 110.43 775.55 
L 110.30 774.99 
L 110.15 774.44 
L 110 773.89 
L 109.84 773.34 
L 109.67 772.78 
L 109.49 772.23 
L 109.31 771.68 
L 109.12 771.12 
L 108.93 770.57 
L 108.74 770.02 
L 108.54 769.46 
L 108.35 768.91 
L 108.15 768.36 
L 107.95 767.81 
L 107.76 767.25 
L 107.56 766.70 
L 107.37 766.15 
L 107.18 765.59 
L 107 765.04 
L 106.82 764.49 
L 106.65 763.94 
L 106.48 763.38 
L 106.32 762.83 
L 106.18 762.28 
L 106.04 761.72 
L 105.91 761.17 
L 105.79 760.62 
L 105.68 760.06 
L 105.57 759.51 
L 105.47 758.96 
L 105.36 758.41 
L 105.27 757.85 
L 105.17 757.30 
L 105.08 756.75 
L 104.99 756.19 
L 104.90 755.64 
L 104.82 755.09 
L 104.74 754.53 
L 104.67 753.98 
L 104.60 753.43 
L 104.54 752.88 
L 104.48 752.32 
" clip-path="url(#p21842c6471)" style="fill: none; stroke: #ff0000; stroke-width: 1.5; stroke-linecap: square"/>
</g>
<g id="line2d_38">
<path d="M 114.33 818.68 
L 114.62 818.13 
L 114.90 817.57 
L 115.18 817.02 
L 115.44 816.47 
L 115.70 815.91 
L 115.94 815.36 
L 116.18 814.81 
L 116.42 814.25 
L 116.64 813.70 
L 116.85 813.15 
L 117.06 812.60 
L 117.26 812.04 
L 117.45 811.49 
L 117.64 810.94 
L 117.82 810.38 
L 117.99 809.83 
L 118.15 809.28 
L 118.30 808.72 
L 118.45 808.17 
L 118.59 807.62 
L 118.73 807.07 
L 118.85 806.51 
L 118.97 805.96 
L 119.09 805.41 
L 119.19 804.85 
L 119.29 804.30 
L 119.39 803.75 
L 119.47 803.20 
L 119.56 802.64 
L 119.63 802.09 
L 119.70 801.54 
L 119.76 800.98 
L 119.82 800.43 
L 119.87 799.88 
L 119.92 799.32 
L 119.96 798.77 
L 119.99 798.22 
L 120.02 797.67 
L 120.04 797.11 
L 120.06 796.56 
L 120.07 796.01 
L 120.08 795.45 
L 120.08 794.90 
L 120.08 794.35 
L 120.05 793.8 
L 120.01 793.24 
L 119.96 792.69 
L 119.89 792.14 
L 119.82 791.58 
L 119.73 791.03 
L 119.63 790.48 
L 119.52 789.92 
L 119.40 789.37 
L 119.27 788.82 
L 119.14 788.27 
L 119 787.71 
L 118.85 787.16 
L 118.70 786.61 
L 118.55 786.05 
L 118.39 785.50 
L 118.24 784.95 
L 118.08 784.39 
L 117.92 783.84 
L 117.76 783.29 
L 117.60 782.74 
L 117.44 782.18 
L 117.29 781.63 
L 117.14 781.08 
L 116.98 780.52 
L 116.81 779.97 
L 116.64 779.42 
L 116.46 778.87 
L 116.28 778.31 
L 116.09 777.76 
L 115.90 777.21 
L 115.70 776.65 
L 115.50 776.10 
L 115.29 775.55 
L 115.08 774.99 
L 114.86 774.44 
L 114.64 773.89 
L 114.42 773.34 
L 114.19 772.78 
L 113.96 772.23 
L 113.72 771.68 
L 113.48 771.12 
L 113.24 770.57 
L 113 770.02 
L 112.75 769.46 
L 112.50 768.91 
L 112.25 768.36 
L 112 767.81 
L 111.74 767.25 
L 111.48 766.70 
L 111.22 766.15 
L 110.96 765.59 
L 110.70 765.04 
L 110.43 764.49 
L 110.17 763.94 
L 109.90 763.38 
L 109.63 762.83 
L 109.37 762.28 
L 109.10 761.72 
L 108.83 761.17 
L 108.56 760.62 
L 108.30 760.06 
L 108.03 759.51 
L 107.76 758.96 
L 107.49 758.41 
L 107.21 757.85 
L 106.92 757.30 
L 106.63 756.75 
L 106.33 756.19 
L 106.03 755.64 
L 105.73 755.09 
L 105.42 754.53 
L 105.11 753.98 
L 104.80 753.43 
" clip-path="url(#p21842c6471)" style="fill: none; stroke: #008000; stroke-width: 1.5; stroke-linecap: square"/>
</g>
<g id="line2d_39">
<path d="M 106.78 818.68 
L 107.19 818.13 
L 107.60 817.57 
L 108.01 817.02 
L 108.41 816.47 
L 108.81 815.91 
L 109.21 815.36 
L 109.60 814.81 
L 109.99 814.25 
L 110.38 813.70 
L 110.76 813.15 
L 111.13 812.60 
L 111.51 812.04 
L 111.87 811.49 
L 112.24 810.94 
L 112.60 810.38 
L 112.95 809.83 
L 113.31 809.28 
L 113.65 808.72 
L 113.99 808.17 
L 114.33 807.62 
L 114.68 807.07 
L 115.03 806.51 
L 115.40 805.96 
L 115.78 805.41 
L 116.15 804.85 
L 116.53 804.30 
L 116.91 803.75 
L 117.28 803.20 
L 117.64 802.64 
L 117.99 802.09 
L 118.33 801.54 
L 118.64 800.98 
L 118.94 800.43 
L 119.21 799.88 
L 119.45 799.32 
L 119.66 798.77 
L 119.84 798.22 
L 119.98 797.67 
L 120.08 797.11 
L 120.16 796.56 
L 120.24 796.01 
L 120.31 795.45 
L 120.38 794.90 
L 120.44 794.35 
L 120.51 793.8 
L 120.57 793.24 
L 120.62 792.69 
L 120.67 792.14 
L 120.72 791.58 
L 120.76 791.03 
L 120.80 790.48 
L 120.83 789.92 
L 120.86 789.37 
L 120.88 788.82 
L 120.89 788.27 
L 120.90 787.71 
L 120.90 787.16 
L 120.89 786.61 
L 120.85 786.05 
L 120.78 785.50 
L 120.69 784.95 
L 120.57 784.39 
L 120.43 783.84 
L 120.27 783.29 
L 120.09 782.74 
L 119.89 782.18 
L 119.67 781.63 
L 119.44 781.08 
L 119.19 780.52 
L 118.93 779.97 
L 118.65 779.42 
L 118.37 778.87 
L 118.07 778.31 
L 117.77 777.76 
L 117.46 777.21 
L 117.14 776.65 
L 116.82 776.10 
L 116.49 775.55 
L 116.17 774.99 
L 115.84 774.44 
L 115.51 773.89 
L 115.18 773.34 
L 114.86 772.78 
L 114.54 772.23 
L 114.23 771.68 
L 113.92 771.12 
L 113.62 770.57 
L 113.33 770.02 
L 113.05 769.46 
L 112.78 768.91 
L 112.53 768.36 
L 112.28 767.81 
L 112.05 767.25 
L 111.83 766.70 
L 111.62 766.15 
L 111.41 765.59 
L 111.21 765.04 
L 111.01 764.49 
L 110.81 763.94 
L 110.62 763.38 
L 110.42 762.83 
L 110.23 762.28 
L 110.03 761.72 
L 109.83 761.17 
L 109.62 760.62 
L 109.40 760.06 
L 109.18 759.51 
L 108.95 758.96 
L 108.70 758.41 
L 108.44 757.85 
L 108.17 757.30 
L 107.89 756.75 
L 107.59 756.19 
L 107.27 755.64 
L 106.93 755.09 
L 106.57 754.53 
L 106.19 753.98 
L 105.79 753.43 
L 105.20 752.88 
L 104.48 752.32 
" clip-path="url(#p21842c6471)" style="fill: none; stroke: #0000ff; stroke-width: 1.5; stroke-linecap: square"/>
</g>
<g id="patch_3">
<path d="M 103.24 862.92 
L 103.24 88.77 
" style="fill: none; stroke: #000000; stroke-width: 0.8; stroke-linejoin: miter; stroke-linecap: square"/>
</g>
<g id="patch_4">
<path d="M 268.77 862.92 
L 268.77 88.77 
" style="fill: none; stroke: #000000; stroke-width: 0.8; stroke-linejoin: miter; stroke-linecap: square"/>
</g>
<g id="patch_5">
<path d="M 103.24 862.92 
L 268.77 862.92 
" style="fill: none; stroke: #000000; stroke-width: 0.8; stroke-linejoin: miter; stroke-linecap: square"/>
</g>
<g id="patch_6">
<path d="M 103.24 88.77 
L 268.77 88.77 
" style="fill: none; stroke: #000000; stroke-width: 0.8; stroke-linejoin: miter; stroke-linecap: square"/>
</g>
<g id="legend_1">
<g id="patch_7">
<path d="M 110.57 260.60 
L 261.07 260.60 
Q 263.27 260.60 263.27 258.40 
L 263.27 96.47 
Q 263.27 94.27 261.07 94.27 
L 110.57 94.27 
Q 108.37 94.27 108.37 96.47 
L 108.37 258.40 
Q 108.37 260.60 110.57 260.60 
z
" style="fill: #ffffff; opacity: 0.8; stroke: #cccccc; stroke-linejoin: miter"/>
</g>
<g id="line2d_40">
<path d="M 113.87 104.28 
L 124.87 104.28 
L 135.87 104.28 
" style="fill: none; stroke: #0000ff; stroke-width: 1.5; stroke-linecap: square"/>
</g>
<g id="text_14">
<text style="font-size: 12.22px; font-family: 'Liberation Serif'; text-anchor: start" x="144.67" y="108.13" transform="rotate(-0 144.67 108.13)" textLength="107.16" lengthAdjust="spacingAndGlyphs">aerBsc_raman_355</text>
</g>
<g id="line2d_41">
<path d="M 113.87 122.33 
L 124.87 122.33 
L 135.87 122.33 
" style="fill: none; stroke: #008000; stroke-width: 1.5; stroke-linecap: square"/>
</g>
<g id="text_15">
<text style="font-size: 12.22px; font-family: 'Liberation Serif'; text-anchor: start" x="144.67" y="126.18" transform="rotate(-0 144.67 126.18)" textLength="107.16" lengthAdjust="spacingAndGlyphs">aerBsc_raman_532</text>
</g>
<g id="line2d_42">
<path d="M 113.87 140.37 
L 124.87 140.37 
L 135.87 140.37 
" style="fill: none; stroke: #ff0000; stroke-width: 1.5; stroke-linecap: square"/>
</g>
<g id="text_16">
<text style="font-size: 12.22px; font-family: 'Liberation Serif'; text-anchor: start" x="144.67" y="144.22" transform="rotate(-0 144.67 144.22)" textLength="114.23" lengthAdjust="spacingAndGlyphs">aerBsc_raman_1064</text>
</g>
<g id="line2d_43">
<path d="M 113.87 158.42 
L 124.87 158.42 
L 135.87 158.42 
" style="fill: none; stroke-dasharray: 5.55,2.4; stroke-dashoffset: 0; stroke: #800080; stroke-width: 1.5"/>
</g>
<g id="text_17">
<text style="font-size: 12.22px; font-family: 'Liberation Serif'; text-anchor: start" x="144.67" y="162.27" transform="rotate(-0 144.67 162.27)" textLength="87.64" lengthAdjust="spacingAndGlyphs">aerBsc_RR_355</text>
</g>
<g id="line2d_44">
<path d="M 113.87 176.47 
L 124.87 176.47 
L 135.87 176.47 
" style="fill: none; stroke-dasharray: 5.55,2.4; stroke-dashoffset: 0; stroke: #808000; stroke-width: 1.5"/>
</g>
<g id="text_18">
<text style="font-size: 12.22px; font-family: 'Liberation Serif'; text-anchor: start" x="144.67" y="180.32" transform="rotate(-0 144.67 180.32)" textLength="87.64" lengthAdjust="spacingAndGlyphs">aerBsc_RR_532</text>
</g>
<g id="line2d_45">
<path d="M 113.87 194.51 
L 124.87 194.51 
L 135.87 194.51 
" style="fill: none; stroke-dasharray: 5.55,2.4; stroke-dashoffset: 0; stroke: #ffa07a; stroke-width: 1.5"/>
</g>
<g id="text_19">
<text style="font-size: 12.22px; font-family: 'Liberation Serif'; text-anchor: start" x="144.67" y="198.36" transform="rotate(-0 144.67 198.36)" textLength="94.71" lengthAdjust="spacingAndGlyphs">aerBsc_RR_1064</text>
</g>
<g id="line2d_46">
<path d="M 113.87 212.56 
L 124.87 212.56 
L 135.87 212.56 
" style="fill: none; stroke: #00ffff; stroke-width: 1.5; stroke-linecap: square"/>
</g>
<g id="text_20">
<text style="font-size: 12.22px; font-family: 'Liberation Serif'; text-anchor: start" x="144.67" y="216.41" transform="rotate(-0 144.67 216.41)" textLength="96.70" lengthAdjust="spacingAndGlyphs">aerBsc_klett_355</text>
</g>
<g id="line2d_47">
<path d="M 113.87 230.61 
L 124.87 230.61 
L 135.87 230.61 
" style="fill: none; stroke: #00ff00; stroke-width: 1.5; stroke-linecap: square"/>
</g>
<g id="text_21">
<text style="font-size: 12.22px; font-family: 'Liberation Serif'; text-anchor: start" x="144.67" y="234.46" transform="rotate(-0 144.67 234.46)" textLength="96.70" lengthAdjust="spacingAndGlyphs">aerBsc_klett_532</text>
</g>
<g id="line2d_48">
<path d="M 113.87 248.65 
L 124.87 248.65 
L 135.87 248.65 
" style="fill: none; stroke: #fa8072; stroke-width: 1.5; stroke-linecap: square"/>
</g>
<g id="text_22">
<text style="font-size: 12.22px; font-family: 'Liberation Serif'; text-anchor: start" x="144.67" y="252.50" transform="rotate(-0 144.67 252.50)" textLength="103.77" lengthAdjust="spacingAndGlyphs">aerBsc_klett_1064</text>
</g>
</g>
</g>
<g id="axes_2">
<g id="patch_8">
<path d="M 327.72 862.92 
L 493.25 862.92 
L 493.25 88.77 
L 327.72 88.77 
z
" style="fill: #ffffff"/>
</g>
<g id="matplotlib.axis_3">
<g id="xtick_4">
<g id="line2d_49">
<path d="M 327.72 862.92 
L 327.72 88.77 
" clip-path="url(#p5aa6ab8a2a)" style="fill: none; stroke: #b0b0b0; stroke-width: 0.8; stroke-linecap: square"/>
</g>
<g id="line2d_50">
<g>
<use href="#mabf18fba1c" x="327.72" y="862.92" style="stroke: #000000; stroke-width: 1.5"/>
</g>
</g>
<g id="line2d_51">
<g>
<use href="#m81def42b3b" x="327.72" y="88.77" style="stroke: #000000; stroke-width: 1.5"/>
</g>
</g>
<g id="text_23">
<text style="font-size: 13.20px; font-family: 'Liberation Serif'; text-anchor: middle" x="327.72" y="878.67"  textLength="7.63" lengthAdjust="spacingAndGlyphs">0</text>
</g>
</g>
<g id="xtick_5">
<g id="line2d_52">
<path d="M 382.90 862.92 
L 382.90 88.77 
" clip-path="url(#p5aa6ab8a2a)" style="fill: none; stroke: #b0b0b0; stroke-width: 0.8; stroke-linecap: square"/>
</g>
<g id="line2d_53">
<g>
<use href="#mabf18fba1c" x="382.90" y="862.92" style="stroke: #000000; stroke-width: 1.5"/>
</g>
</g>
<g id="line2d_54">
<g>
<use href="#m81def42b3b" x="382.90" y="88.77" style="stroke: #000000; stroke-width: 1.5"/>
</g>
</g>
<g id="text_24">
<text style="font-size: 13.20px; font-family: 'Liberation Serif'; text-anchor: middle" x="382.90" y="878.67"  textLength="22.90" lengthAdjust="spacingAndGlyphs">100</text>
</g>
</g>
<g id="xtick_6">
<g id="line2d_55">
<path d="M 438.08 862.92 
L 438.08 88.77 
" clip-path="url(#p5aa6ab8a2a)" style="fill: none; stroke: #b0b0b0; stroke-width: 0.8; stroke-linecap: square"/>
</g>
<g id="line2d_56">
<g>
<use href="#mabf18fba1c" x="438.08" y="862.92" style="stroke: #000000; stroke-width: 1.5"/>
</g>
</g>
<g id="line2d_57">
<g>
<use href="#m81def42b3b" x="438.08" y="88.77" style="stroke: #000000; stroke-width: 1.5"/>
</g>
</g>
<g id="text_25">
<text style="font-size: 13.20px; font-family: 'Liberation Serif'; text-anchor: middle" x="438.08" y="878.67"  textLength="22.90" lengthAdjust="spacingAndGlyphs">200</text>
</g>
</g>
<g id="xtick_7">
<g id="line2d_58">
<path d="M 493.25 862.92 
L 493.25 88.77 
" clip-path="url(#p5aa6ab8a2a)" style="fill: none; stroke: #b0b0b0; stroke-width: 0.8; stroke-linecap: square"/>
</g>
<g id="line2d_59">
<g>
<use href="#mabf18fba1c" x="493.25" y="862.92" style="stroke: #000000; stroke-width: 1.5"/>
</g>
</g>
<g id="line2d_60">
<g>
<use href="#m81def42b3b" x="493.25" y="88.77" style="stroke: #000000; stroke-width: 1.5"/>
</g>
</g>
<g id="text_26">
<text style="font-size: 13.20px; font-family: 'Liberation Serif'; text-anchor: middle" x="493.25" y="878.67"  textLength="22.90" lengthAdjust="spacingAndGlyphs">300</text>
</g>
</g>
<g id="text_27">
<g transform="translate(411.75 899.12) scale(1.040) translate(-79.72 0)">
<text>
<tspan x="0" y="-0.49" style="font-size: 15.99px; font-family: 'Liberation Serif'" textLength="9.78" lengthAdjust="spacingAndGlyphs">E</tspan>
<tspan x="10.21" y="-0.49" style="font-size: 15.99px; font-family: 'Liberation Serif'" textLength="7.55" lengthAdjust="spacingAndGlyphs">x</tspan>
<tspan x="18.11" y="-0.49" style="font-size: 15.99px; font-family: 'Liberation Serif'" textLength="5.38" lengthAdjust="spacingAndGlyphs">t</tspan>
<tspan x="23.74" y="-0.49" style="font-size: 15.99px; font-family: 'Liberation Serif'" textLength="4.28" lengthAdjust="spacingAndGlyphs">i</tspan>
<tspan x="28.21" y="-0.49" style="font-size: 15.99px; font-family: 'Liberation Serif'" textLength="8.63" lengthAdjust="spacingAndGlyphs">n</tspan>
<tspan x="37.23" y="-0.49" style="font-size: 15.99px; font-family: 'Liberation Serif'" textLength="7.50" lengthAdjust="spacingAndGlyphs">c</tspan>
<tspan x="45.07" y="-0.49" style="font-size: 15.99px; font-family: 'Liberation Serif'" textLength="5.38" lengthAdjust="spacingAndGlyphs">t</tspan>
<tspan x="50.70" y="-0.49" style="font-size: 15.99px; font-family: 'Liberation Serif'">.</tspan>
<tspan x="55.15" y="-0.49" style="font-size: 15.99px; font-family: 'Liberation Serif'"> </tspan>
<tspan x="59.60" y="-0.49" style="font-size: 15.99px; font-family: 'Liberation Serif'" textLength="7.50" lengthAdjust="spacingAndGlyphs">c</tspan>
<tspan x="67.44" y="-0.49" style="font-size: 15.99px; font-family: 'Liberation Serif'" textLength="8.06" lengthAdjust="spacingAndGlyphs">o</tspan>
<tspan x="75.87" y="-0.49" style="font-size: 15.99px; font-family: 'Liberation Serif'" textLength="7.93" lengthAdjust="spacingAndGlyphs">e</tspan>
<tspan x="84.15" y="-0.49" style="font-size: 15.99px; font-family: 'Liberation Serif'" textLength="4.96" lengthAdjust="spacingAndGlyphs">f</tspan>
<tspan x="89.33" y="-0.49" style="font-size: 15.99px; font-family: 'Liberation Serif'" textLength="4.96" lengthAdjust="spacingAndGlyphs">f</tspan>
<tspan x="94.52" y="-0.49" style="font-size: 15.99px; font-family: 'Liberation Serif'">.</tspan>
<tspan x="98.97" y="-0.49" style="font-size: 15.99px; font-family: 'Liberation Serif'"> </tspan>
<tspan x="103.42" y="-0.49" style="font-size: 15.99px; font-family: 'Liberation Serif'" textLength="5.23" lengthAdjust="spacingAndGlyphs">[</tspan>
<tspan x="108.88" y="-0.49" style="font-size: 15.99px; font-family: 'Liberation Serif'" textLength="13.72" lengthAdjust="spacingAndGlyphs">M</tspan>
<tspan x="123.21" y="-0.49" style="font-size: 15.99px; font-family: 'Liberation Serif'" textLength="12.70" lengthAdjust="spacingAndGlyphs">m</tspan>
<tspan x="151.45" y="-0.49" style="font-size: 15.99px; font-family: 'Liberation Serif'" textLength="5.23" lengthAdjust="spacingAndGlyphs">]</tspan>
<tspan x="136.62" y="-5.85" style="font-size: 10.68px; font-family: 'Liberation Sans'">−</tspan>
<tspan x="144.83" y="-5.85" style="font-size: 10.68px; font-family: 'Liberation Sans'" textLength="5.97" lengthAdjust="spacingAndGlyphs">1</tspan>
</text>
</g>
</g>
</g>
<g id="matplotlib.axis_4">
<g id="ytick_9">
<g id="line2d_61">
<path d="M 327.72 862.92 
L 493.25 862.92 
" clip-path="url(#p5aa6ab8a2a)" style="fill: none; stroke: #b0b0b0; stroke-width: 0.8; stroke-linecap: square"/>
</g>
<g id="line2d_62">
<g>
<use href="#m7d13c92054" x="327.72" y="862.92" style="stroke: #000000; stroke-width: 1.5"/>
</g>
</g>
<g id="line2d_63">
<g>
<use href="#m4b7ecec418" x="493.25" y="862.92" style="stroke: #000000; stroke-width: 1.5"/>
</g>
</g>
<g id="text_28">
<text style="font-size: 13.20px; font-family: 'Liberation Serif'; text-anchor: end" x="320.22" y="867.47" transform="rotate(-0 320.22 867.47)" textLength="7.63" lengthAdjust="spacingAndGlyphs">0</text>
</g>
</g>
<g id="ytick_10">
<g id="line2d_64">
<path d="M 327.72 752.32 
L 493.25 752.32 
" clip-path="url(#p5aa6ab8a2a)" style="fill: none; stroke: #b0b0b0; stroke-width: 0.8; stroke-linecap: square"/>
</g>
<g id="line2d_65">
<g>
<use href="#m7d13c92054" x="327.72" y="752.32" style="stroke: #000000; stroke-width: 1.5"/>
</g>
</g>
<g id="line2d_66">
<g>
<use href="#m4b7ecec418" x="493.25" y="752.32" style="stroke: #000000; stroke-width: 1.5"/>
</g>
</g>
<g id="text_29">
<text style="font-size: 13.20px; font-family: 'Liberation Serif'; text-anchor: end" x="320.22" y="756.88" transform="rotate(-0 320.22 756.88)" textLength="7.63" lengthAdjust="spacingAndGlyphs">2</text>
</g>
</g>
<g id="ytick_11">
<g id="line2d_67">
<path d="M 327.72 641.73 
L 493.25 641.73 
" clip-path="url(#p5aa6ab8a2a)" style="fill: none; stroke: #b0b0b0; stroke-width: 0.8; stroke-linecap: square"/>
</g>
<g id="line2d_68">
<g>
<use href="#m7d13c92054" x="327.72" y="641.73" style="stroke: #000000; stroke-width: 1.5"/>
</g>
</g>
<g id="line2d_69">
<g>
<use href="#m4b7ecec418" x="493.25" y="641.73" style="stroke: #000000; stroke-width: 1.5"/>
</g>
</g>
<g id="text_30">
<text style="font-size: 13.20px; font-family: 'Liberation Serif'; text-anchor: end" x="320.22" y="646.29" transform="rotate(-0 320.22 646.29)" textLength="7.63" lengthAdjust="spacingAndGlyphs">4</text>
</g>
</g>
<g id="ytick_12">
<g id="line2d_70">
<path d="M 327.72 531.14 
L 493.25 531.14 
" clip-path="url(#p5aa6ab8a2a)" style="fill: none; stroke: #b0b0b0; stroke-width: 0.8; stroke-linecap: square"/>
</g>
<g id="line2d_71">
<g>
<use href="#m7d13c92054" x="327.72" y="531.14" style="stroke: #000000; stroke-width: 1.5"/>
</g>
</g>
<g id="line2d_72">
<g>
<use href="#m4b7ecec418" x="493.25" y="531.14" style="stroke: #000000; stroke-width: 1.5"/>
</g>
</g>
<g id="text_31">
<text style="font-size: 13.20px; font-family: 'Liberation Serif'; text-anchor: end" x="320.22" y="535.70" transform="rotate(-0 320.22 535.70)" textLength="7.63" lengthAdjust="spacingAndGlyphs">6</text>
</g>
</g>
<g id="ytick_13">
<g id="line2d_73">
<path d="M 327.72 420.55 
L 493.25 420.55 
" clip-path="url(#p5aa6ab8a2a)" style="fill: none; stroke: #b0b0b0; stroke-width: 0.8; stroke-linecap: square"/>
</g>
<g id="line2d_74">
<g>
<use href="#m7d13c92054" x="327.72" y="420.55" style="stroke: #000000; stroke-width: 1.5"/>
</g>
</g>
<g id="line2d_75">
<g>
<use href="#m4b7ecec418" x="493.25" y="420.55" style="stroke: #000000; stroke-width: 1.5"/>
</g>
</g>
<g id="text_32">
<text style="font-size: 13.20px; font-family: 'Liberation Serif'; text-anchor: end" x="320.22" y="425.11" transform="rotate(-0 320.22 425.11)" textLength="7.63" lengthAdjust="spacingAndGlyphs">8</text>
</g>
</g>
<g id="ytick_14">
<g id="line2d_76">
<path d="M 327.72 309.96 
L 493.25 309.96 
" clip-path="url(#p5aa6ab8a2a)" style="fill: none; stroke: #b0b0b0; stroke-width: 0.8; stroke-linecap: square"/>
</g>
<g id="line2d_77">
<g>
<use href="#m7d13c92054" x="327.72" y="309.96" style="stroke: #000000; stroke-width: 1.5"/>
</g>
</g>
<g id="line2d_78">
<g>
<use href="#m4b7ecec418" x="493.25" y="309.96" style="stroke: #000000; stroke-width: 1.5"/>
</g>
</g>
<g id="text_33">
<text style="font-size: 13.20px; font-family: 'Liberation Serif'; text-anchor: end" x="320.22" y="314.51" transform="rotate(-0 320.22 314.51)" textLength="15.27" lengthAdjust="spacingAndGlyphs">10</text>
</g>
</g>
<g id="ytick_15">
<g id="line2d_79">
<path d="M 327.72 199.36 
L 493.25 199.36 
" clip-path="url(#p5aa6ab8a2a)" style="fill: none; stroke: #b0b0b0; stroke-width: 0.8; stroke-linecap: square"/>
</g>
<g id="line2d_80">
<g>
<use href="#m7d13c92054" x="327.72" y="199.36" style="stroke: #000000; stroke-width: 1.5"/>
</g>
</g>
<g id="line2d_81">
<g>
<use href="#m4b7ecec418" x="493.25" y="199.36" style="stroke: #000000; stroke-width: 1.5"/>
</g>
</g>
<g id="text_34">
<text style="font-size: 13.20px; font-family: 'Liberation Serif'; text-anchor: end" x="320.22" y="203.92" transform="rotate(-0 320.22 203.92)" textLength="15.27" lengthAdjust="spacingAndGlyphs">12</text>
</g>
</g>
<g id="ytick_16">
<g id="line2d_82">
<path d="M 327.72 88.77 
L 493.25 88.77 
" clip-path="url(#p5aa6ab8a2a)" style="fill: none; stroke: #b0b0b0; stroke-width: 0.8; stroke-linecap: square"/>
</g>
<g id="line2d_83">
<g>
<use href="#m7d13c92054" x="327.72" y="88.77" style="stroke: #000000; stroke-width: 1.5"/>
</g>
</g>
<g id="line2d_84">
<g>
<use href="#m4b7ecec418" x="493.25" y="88.77" style="stroke: #000000; stroke-width: 1.5"/>
</g>
</g>
<g id="text_35">
<text style="font-size: 13.20px; font-family: 'Liberation Serif'; text-anchor: end" x="320.22" y="93.33" transform="rotate(-0 320.22 93.33)" textLength="15.27" lengthAdjust="spacingAndGlyphs">14</text>
</g>
</g>
</g>
<g id="line2d_85">
<path d="M 328 851.86 
L 360.49 851.19 
L 375.98 850.75 
L 386.98 850.31 
L 386.21 850.09 
L 387.93 849.87 
L 391.33 849.64 
L 392.21 849.42 
L 392.38 849.20 
L 390.66 848.98 
L 391.51 848.76 
L 391.54 848.54 
L 386.57 848.32 
L 386.14 848.10 
L 381.66 847.87 
L 380.50 847.65 
L 377.43 847.43 
L 378.08 847.21 
L 374.62 846.99 
L 375.77 846.77 
L 373.76 846.33 
L 370.98 846.11 
L 386.40 845.44 
L 387.89 845.22 
L 393.06 845 
L 394.24 844.78 
L 394.55 844.56 
L 395.81 844.34 
L 389.54 844.11 
L 384.12 843.67 
L 377.69 843.45 
L 373.70 843.01 
L 372.67 842.79 
L 369.80 842.57 
L 373.10 842.12 
L 367.94 841.90 
L 371.62 841.68 
L 368.43 841.24 
L 372.32 841.02 
L 369.63 840.80 
L 365.55 840.58 
L 366.57 840.35 
L 364.83 840.13 
L 350.93 839.69 
L 347.47 839.47 
L 345.91 839.03 
L 340.57 838.81 
L 340.31 838.58 
L 337.61 838.36 
L 337.12 838.14 
L 333.59 837.92 
L 333.36 837.70 
L 332.87 837.48 
L 333.67 837.26 
L 333.19 837.04 
L 328.32 836.82 
L 328.52 836.59 
L 330.34 836.37 
L 327.72 836.15 
L 327.72 835.93 
L 328.04 835.71 
L 330.13 835.49 
L 329.14 835.27 
L 328.80 835.05 
L 332.44 834.82 
L 338.28 834.60 
L 348.32 834.38 
L 353.22 834.16 
L 387.24 833.28 
L 400.58 832.61 
L 403.45 832.39 
L 401.60 832.17 
L 398.69 831.95 
L 397.48 831.73 
L 393.12 831.51 
L 392.62 831.29 
L 388.18 831.06 
L 386.80 830.84 
L 381.90 830.62 
L 383.61 830.40 
L 382.46 830.18 
L 405.02 829.74 
L 403.23 829.52 
L 402.81 829.30 
L 403.04 829.07 
L 394.05 828.85 
L 379.52 827.97 
L 377.29 827.75 
L 377.99 827.53 
L 380.76 827.30 
L 385.51 827.08 
L 403.34 826.64 
L 406.22 826.20 
L 402.74 825.98 
L 403.19 825.76 
L 383.40 824.87 
L 342.51 823.99 
L 344.18 823.77 
L 337.14 823.54 
L 339.06 823.32 
L 334.72 823.10 
L 336.28 822.88 
L 332.17 822.44 
L 344.17 822 
L 347.15 821.77 
L 357.74 821.33 
L 360.03 821.11 
L 364.86 820.89 
L 354.24 820.67 
L 337.47 820.45 
L 337.47 820.45 
" clip-path="url(#p5aa6ab8a2a)" style="fill: none; stroke: #0000ff; stroke-width: 1.5; stroke-linecap: square"/>
</g>
<g id="line2d_86">
<path d="M 327.78 804.85 
L 329.25 804.41 
L 330.47 803.97 
L 332.55 803.53 
L 333.49 803.08 
L 335.06 802.64 
L 336 802.20 
L 336.90 801.76 
L 338 801.32 
L 338.82 800.87 
L 339.82 800.43 
L 340.57 799.99 
L 341.44 799.55 
L 341.99 799.10 
L 342.99 798.66 
L 344.48 798.22 
L 344.64 797.78 
L 345.30 797.33 
L 346.42 796.89 
L 347.41 796.45 
L 347.28 796.01 
L 348.23 795.56 
L 348.66 795.12 
L 348.84 794.68 
L 349.96 794.24 
L 350.10 793.8 
L 350.41 793.35 
L 350.38 792.91 
L 350.83 792.47 
L 350.58 792.03 
L 350.69 791.58 
L 350.43 791.14 
L 350.40 790.70 
L 351.10 790.26 
L 350.59 789.81 
L 350.81 789.37 
L 350.72 788.93 
L 350.61 788.49 
L 350.59 788.04 
L 350.91 787.60 
L 350.65 787.16 
L 350.69 786.72 
L 350.74 786.27 
L 351.05 785.83 
L 350.87 785.39 
L 350.71 784.95 
L 350.33 784.51 
L 349.95 784.06 
L 350.42 783.62 
L 350.23 783.18 
L 349.72 782.74 
L 349.68 782.29 
L 349.51 781.85 
L 349.29 781.41 
L 349.08 780.97 
L 348.47 780.52 
L 348.80 780.08 
L 347.83 779.64 
L 348.23 779.20 
L 347.96 778.75 
L 347.92 778.31 
L 348.06 777.87 
L 347.82 777.43 
L 346.97 776.99 
L 346.70 776.54 
L 347.27 776.10 
L 346.64 775.66 
L 346.79 775.22 
L 346.89 774.77 
L 346.07 774.33 
L 345.79 773.89 
L 346.28 773.45 
L 346.04 773 
L 345.76 772.56 
L 345.59 772.12 
L 345.05 771.68 
L 344.54 771.23 
L 344.55 770.79 
L 343.95 770.35 
L 343.37 769.91 
L 343.56 769.46 
L 343.01 769.02 
L 342.74 768.58 
L 341.98 768.14 
L 341.72 767.70 
L 341.31 767.25 
L 341.06 766.81 
L 341.12 766.37 
L 340.66 765.93 
L 340.82 765.48 
L 340.67 765.04 
L 341 764.60 
L 339.94 764.16 
L 340.47 763.71 
L 340.09 763.27 
L 340.02 762.83 
L 339.52 762.39 
L 339.69 761.94 
L 339.92 761.50 
L 339.58 761.06 
L 339.50 760.62 
L 339.25 760.18 
L 339.50 759.73 
L 338.99 759.29 
L 338.19 758.85 
L 338.38 758.41 
L 337.79 757.96 
L 337.17 757.52 
L 337.64 757.08 
L 337.86 756.64 
L 337.19 756.19 
L 336.53 755.75 
L 336.26 755.31 
L 336.48 754.87 
L 335.86 754.42 
L 335.46 753.98 
" clip-path="url(#p5aa6ab8a2a)" style="fill: none; stroke: #0000ff; stroke-width: 1.5; stroke-linecap: square"/>
</g>
<g id="line2d_87">
<path d="M 327.94 803.20 
L 328.98 802.75 
L 330.72 802.31 
L 331.28 801.87 
L 331.70 801.43 
L 331.05 800.98 
L 333.46 800.54 
L 332.78 800.10 
L 335.33 799.66 
L 333.27 799.21 
L 335.01 798.77 
L 335.60 798.33 
L 334.54 797.89 
L 338.26 797.44 
L 338.27 797 
L 336.40 796.56 
L 337.97 796.12 
L 337.70 795.68 
L 334.51 795.23 
L 337.74 794.79 
L 337.42 794.35 
L 337.56 793.91 
L 336.19 793.46 
L 336.95 793.02 
L 336.86 792.58 
L 338.13 792.14 
L 336.89 791.69 
L 336.17 791.25 
L 337.47 790.81 
L 334.65 790.37 
L 333.05 789.92 
L 328.99 789.48 
L 330.85 789.04 
L 329.92 788.60 
L 330.05 788.15 
L 330.11 787.71 
L 329.97 787.27 
L 330.65 786.83 
L 330.78 786.39 
L 331.51 785.94 
L 332.50 785.50 
L 334.80 785.06 
L 334.39 784.62 
L 334.30 784.17 
L 334.21 783.73 
L 334.51 783.29 
L 337.19 782.85 
L 336.07 782.40 
L 335.66 781.96 
L 335.27 781.52 
L 334.49 781.08 
L 335.70 780.63 
L 336.79 780.19 
L 335.44 779.75 
L 335.66 779.31 
L 335.70 778.87 
L 336.09 778.42 
L 334.23 777.98 
L 335.74 777.54 
L 334.48 777.10 
L 331.46 776.65 
L 329.68 776.21 
L 331.31 775.77 
L 332.58 775.33 
L 330.85 774.88 
L 330.88 774.44 
L 332.16 774 
L 332.39 773.56 
L 331.76 773.11 
L 333.84 772.67 
L 336.05 772.23 
L 334.01 771.79 
L 334.54 771.34 
L 334.04 770.90 
L 335.93 770.46 
L 334.55 770.02 
L 334.98 769.58 
L 337.82 769.13 
L 335.53 768.69 
L 337.74 768.25 
L 338.19 767.81 
L 336.71 767.36 
L 336.90 766.92 
L 338.28 766.48 
L 335.71 766.04 
L 335.05 765.59 
L 333.98 765.15 
L 335.27 764.71 
L 336.61 764.27 
L 335.79 763.82 
L 333.45 763.38 
L 333.33 762.94 
L 333.51 762.50 
L 334.22 762.06 
L 333.54 761.61 
L 333.87 761.17 
L 333.84 760.73 
L 333.07 760.29 
L 333.23 759.84 
L 333.39 759.40 
L 332.96 758.96 
L 333.50 758.52 
L 334.91 758.07 
L 333.40 757.63 
L 332.71 757.19 
L 330.70 756.75 
L 332.91 756.30 
L 330.25 755.86 
L 330.77 755.42 
L 333.20 754.98 
L 332.98 754.53 
L 331.99 754.09 
" clip-path="url(#p5aa6ab8a2a)" style="fill: none; stroke: #008000; stroke-width: 1.5; stroke-linecap: square"/>
</g>
<g id="line2d_88">
<path d="M 338.76 818.68 
L 338.87 815.58 
L 339.21 812.49 
L 339.75 809.39 
L 340.59 805.85 
L 341.66 802.31 
L 343.10 798.33 
L 344.39 795.23 
L 345.15 794.35 
L 347.63 792.14 
L 347.94 791.69 
L 348.12 791.25 
L 348.13 790.81 
L 347.82 789.92 
L 347.17 789.04 
L 346.25 788.15 
L 344.54 786.83 
L 340.33 783.73 
L 339.02 782.40 
L 335.38 778.42 
L 332.27 774.88 
L 330.63 772.67 
L 329.58 770.90 
L 329 769.58 
L 328.63 768.25 
L 328.48 766.92 
L 328.12 759.40 
L 327.84 748.45 
L 327.97 746.24 
L 327.82 727.44 
L 327.96 723.57 
L 327.99 720.25 
L 327.93 718.04 
L 327.80 715.83 
L 327.97 711.96 
L 328.05 710.30 
L 327.76 702.56 
L 327.95 697.58 
L 327.81 693.71 
L 327.81 685.97 
L 327.79 683.20 
L 327.83 679.89 
L 327.74 677.12 
L 327.94 674.91 
L 328.03 673.25 
L 328.04 669.93 
L 328.04 667.72 
L 327.67 660.53 
L 327.77 657.77 
L 327.99 655.56 
L 327.88 653.34 
L 327.88 650.58 
L 327.84 647.81 
L 327.71 645.60 
L 327.85 639.52 
L 327.89 637.86 
L 327.84 635.65 
L 328 631.78 
L 327.86 629.01 
L 327.97 625.70 
L 328.02 623.48 
L 327.99 621.82 
L 327.78 618.51 
L 328 606.89 
L 328.15 604.68 
L 328.09 599.15 
L 328.14 597.49 
L 327.91 594.18 
L 327.96 591.41 
L 327.89 586.44 
L 327.91 582.56 
L 327.92 580.35 
L 328 577.59 
L 327.92 566.53 
L 328.06 563.21 
L 328.02 560.45 
L 327.91 557.68 
L 327.88 551.05 
L 327.77 546.07 
L 327.89 541.65 
L 327.99 533.35 
L 327.84 531.14 
L 327.89 522.84 
L 327.85 506.26 
L 327.68 504.60 
L 327.97 492.98 
L 328.11 490.77 
L 327.75 483.58 
L 327.74 480.82 
L 327.73 477.50 
L 327.86 473.08 
L 328.02 470.31 
L 328.01 466.44 
L 327.89 463.68 
L 327.97 457.60 
L 327.91 455.38 
L 327.81 453.17 
L 327.98 450.96 
L 328.09 449.30 
L 327.89 445.98 
L 327.79 442.11 
L 327.92 439.35 
L 327.99 437.14 
L 327.76 427.18 
L 328 422.76 
L 327.86 419.44 
L 327.89 411.70 
L 328.13 408.93 
L 328.38 407.83 
L 328.90 406.72 
L 329.82 405.62 
L 332.65 402.85 
L 333 402.30 
L 333.20 401.75 
L 333.27 401.19 
L 333.19 400.64 
L 332.98 400.09 
L 332.19 398.98 
L 330.44 397.32 
L 329.32 396.22 
L 328.57 395.11 
L 328.22 394 
L 328.06 392.35 
L 328.04 389.58 
L 328.09 386.26 
L 327.94 384.60 
L 327.75 382.95 
L 327.86 381.29 
L 327.98 379.63 
L 327.88 372.99 
L 327.88 366.91 
L 327.79 363.59 
L 327.73 350.32 
L 327.65 347 
L 327.97 342.58 
L 327.82 338.16 
L 327.90 335.94 
L 327.98 334.29 
L 327.89 329.86 
L 328.06 325.44 
L 327.93 313.83 
L 328.01 311.61 
L 327.81 303.87 
L 327.88 301.66 
L 327.90 297.24 
L 328.15 295.58 
L 328.49 294.47 
L 329.13 293.37 
L 330.21 292.26 
L 333.61 289.50 
L 334.06 288.94 
L 334.35 288.39 
L 334.44 287.84 
L 334.35 287.28 
L 334.07 286.73 
L 333.05 285.62 
L 329.73 282.86 
L 328.87 281.75 
L 328.38 280.65 
L 328.04 278.99 
L 327.82 276.22 
L 327.84 274.57 
L 327.92 272.35 
L 327.79 269.04 
L 327.87 263.51 
L 327.93 260.19 
L 327.91 253.55 
L 327.82 249.68 
L 327.84 247.47 
L 327.68 244.71 
L 327.83 240.28 
L 327.90 234.20 
L 327.83 231.99 
L 327.84 230.33 
L 328.04 225.91 
L 327.94 223.69 
L 327.83 222.03 
L 327.97 214.85 
L 327.82 212.08 
L 327.73 207.10 
L 327.60 203.79 
L 328.05 196.60 
L 328.31 195.49 
L 328.86 194.39 
L 329.79 193.28 
L 331.69 191.62 
L 333.62 189.96 
L 334.07 189.41 
L 334.34 188.86 
L 334.41 188.30 
L 334.28 187.75 
L 333.97 187.20 
L 332.96 186.09 
L 329.27 182.77 
L 328.58 181.67 
L 328.23 180.56 
L 328.01 178.90 
L 327.86 175.59 
L 327.93 170.61 
L 327.85 168.95 
L 327.83 160.66 
L 327.80 158.44 
L 328.10 153.47 
L 327.83 149.04 
L 328.01 146.28 
L 327.88 141.30 
L 327.79 139.09 
L 327.83 135.22 
L 327.68 131.90 
L 327.68 130.24 
L 327.96 125.82 
L 327.96 120.29 
L 327.93 117.52 
L 327.80 114.21 
L 327.91 95.96 
L 327.67 93.19 
L 327.53 90.98 
L 327.54 89.32 
L 327.54 89.32 
" clip-path="url(#p5aa6ab8a2a)" style="fill: none; stroke: #fa8072; stroke-width: 1.5; stroke-linecap: square"/>
</g>
<g id="line2d_89">
<path d="M 339.86 818.68 
L 343.10 816.91 
L 345.92 815.14 
L 348.34 813.37 
L 350.40 811.60 
L 352.13 809.83 
L 353.55 808.06 
L 354.70 806.29 
L 355.60 804.52 
L 356.28 802.75 
L 356.88 800.54 
L 357.25 798.33 
L 357.46 795.68 
L 357.52 791.69 
L 357.48 791.25 
L 357.31 790.81 
L 356.61 789.92 
L 355.52 789.04 
L 353.42 787.71 
L 348.17 784.62 
L 343.21 781.08 
L 338.92 777.98 
L 336.74 776.21 
L 334.44 774 
L 330.87 770.46 
L 329.78 769.13 
L 328.97 767.81 
L 328.63 766.92 
L 328.49 766.04 
L 328.14 759.84 
L 328 753.21 
L 328 752.32 
L 328.49 751.77 
L 328.35 749.56 
L 328.16 747.35 
L 328.08 739.05 
L 328.15 736.84 
L 328.40 730.76 
L 328.32 727.99 
L 328.24 726.33 
L 328.04 723.57 
L 328.12 720.25 
L 328.30 718.04 
L 328.15 710.85 
L 328.33 708.64 
L 328.15 702.56 
L 328.39 699.79 
L 328.03 694.82 
L 327.82 693.16 
L 327.98 691.50 
L 328.10 689.84 
L 328.25 687.63 
L 328.30 685.97 
L 328.14 683.20 
L 328.33 680.44 
L 328.35 677.12 
L 328.55 674.91 
L 328.57 673.25 
L 328.33 671.04 
L 327.86 668.27 
L 328.03 666.61 
L 328.17 664.96 
L 328.19 658.87 
L 328.26 655.56 
L 328.51 652.79 
L 328.46 651.13 
L 327.96 647.26 
L 327.99 645.60 
L 327.90 643.39 
L 328.14 640.63 
L 328.12 638.41 
L 328.30 633.99 
L 328.19 625.14 
L 328.03 623.48 
L 328.15 619.61 
L 328.25 617.40 
L 328.15 611.32 
L 328.14 608 
L 328.11 601.92 
L 328.22 600.26 
L 328.38 598.60 
L 328.28 597.49 
L 328 595.84 
L 328.03 594.18 
L 328.19 589.75 
L 328.31 583.67 
L 328.34 582.01 
L 328 577.59 
L 328.01 574.82 
L 327.91 572.06 
L 328.14 569.29 
L 328.57 563.21 
L 328.24 561 
L 327.87 558.79 
L 327.93 557.13 
L 328.28 552.70 
L 328.12 551.05 
L 328.02 549.94 
L 328.01 546.07 
L 327.92 544.96 
L 328.02 543.86 
L 328.26 542.20 
L 328.16 540.54 
L 328.14 539.43 
L 328.39 536.12 
L 328.04 533.35 
L 328.29 527.27 
L 328.34 523.95 
L 328.31 522.29 
L 328.21 520.08 
L 328.25 511.23 
L 328.49 507.36 
L 328.24 502.94 
L 327.92 500.73 
L 327.98 498.51 
L 328.20 490.77 
L 327.92 488.01 
L 328.11 481.37 
L 328.28 479.16 
L 328.18 476.40 
L 328.06 473.08 
L 328.24 469.76 
L 328.04 465.34 
L 328.18 462.57 
L 328.23 457.04 
L 328.24 454.28 
L 328.16 452.07 
L 328.39 445.43 
L 328.27 443.22 
L 328.10 441.01 
L 328.13 435.48 
L 328.40 432.71 
L 328.26 427.74 
L 328.32 426.08 
L 328.12 422.21 
L 328.19 419.99 
L 328.01 415.57 
L 328.36 411.15 
L 328.81 407.83 
L 329.43 406.72 
L 330.88 405.06 
L 332.91 402.85 
L 333.53 401.75 
L 333.61 401.19 
L 333.52 400.64 
L 333.27 400.09 
L 332.41 398.98 
L 329.34 395.66 
L 328.73 394.56 
L 328.44 393.45 
L 328.30 391.24 
L 328.29 389.58 
L 328.55 387.37 
L 328.39 386.26 
L 328.09 384.60 
L 328.26 382.95 
L 328.42 380.73 
L 328.36 377.97 
L 328.17 374.65 
L 328.12 372.99 
L 328.20 368.57 
L 328.02 365.25 
L 328.23 362.49 
L 328.22 359.72 
L 328.21 355.85 
L 328.47 353.64 
L 328.44 351.98 
L 328.05 348.11 
L 327.70 345.90 
L 327.75 344.79 
L 328.16 341.47 
L 328.25 333.73 
L 328.29 331.52 
L 328.10 327.65 
L 328.25 325.44 
L 328.34 322.67 
L 328.46 321.01 
L 328.21 314.38 
L 328.31 311.06 
L 328.03 308.85 
L 328.10 306.64 
L 328.42 300.55 
L 328.12 298.34 
L 328.18 297.24 
L 328.57 295.58 
L 329 294.47 
L 329.65 293.37 
L 330.65 292.26 
L 332.64 290.60 
L 333.88 289.50 
L 334.33 288.94 
L 334.60 288.39 
L 334.70 287.84 
L 334.61 287.28 
L 334.33 286.73 
L 333.28 285.62 
L 330.02 282.86 
L 329.17 281.75 
L 328.66 280.65 
L 328.43 279.54 
L 328.03 274.57 
L 328.14 269.04 
L 328.14 266.82 
L 328.33 261.29 
L 328.28 259.08 
L 327.90 255.76 
L 328.03 252.45 
L 328.13 250.79 
L 328.16 245.81 
L 328.25 243.60 
L 328.13 239.18 
L 327.96 237.52 
L 328.07 235.86 
L 328.33 233.65 
L 328.42 230.33 
L 328.23 226.46 
L 328.27 222.59 
L 327.90 218.16 
L 328.01 216.50 
L 328.15 214.29 
L 328.25 211.53 
L 328.26 209.87 
L 328.18 206.55 
L 328.11 204.34 
L 328.14 202.68 
L 328.28 199.92 
L 328.39 198.26 
L 328.74 194.94 
L 329.36 193.83 
L 330.44 192.73 
L 334.37 189.41 
L 334.66 188.86 
L 334.74 188.30 
L 334.60 187.75 
L 334.27 187.20 
L 333.19 186.09 
L 330.61 183.88 
L 329.67 182.77 
L 329.11 181.67 
L 328.65 180.01 
L 328.47 178.35 
L 328.24 173.93 
L 328.23 172.27 
L 328 168.40 
L 328.06 166.19 
L 328.16 163.97 
L 328.09 157.34 
L 328.07 154.57 
L 328.01 152.91 
L 328.19 149.04 
L 328.07 146.83 
L 328.20 140.75 
L 328.25 139.09 
L 328.37 137.43 
L 328.28 136.33 
L 327.88 133.56 
L 328.06 131.90 
L 328.16 130.24 
L 327.90 125.82 
L 328.15 121.95 
L 327.88 118.63 
L 328.05 116.97 
L 328.23 115.31 
L 328.15 113.65 
L 328.07 111.44 
L 328.09 109.23 
L 327.87 104.25 
L 328.09 102.6 
L 328.35 100.94 
L 328.26 99.83 
L 328.07 98.17 
L 328.16 95.96 
L 328.15 93.75 
L 327.99 89.32 
L 327.99 89.32 
" clip-path="url(#p5aa6ab8a2a)" style="fill: none; stroke: #00ff00; stroke-width: 1.5; stroke-linecap: square"/>
</g>
<g id="line2d_90">
<path d="M 334.90 818.68 
L 341.28 816.91 
L 346.91 815.14 
L 351.81 813.37 
L 356.05 811.60 
L 359.67 809.83 
L 362.72 808.06 
L 365.25 806.29 
L 367.30 804.52 
L 368.92 802.75 
L 370.17 800.98 
L 371.08 799.21 
L 371.72 797.44 
L 372.12 795.68 
L 372.37 793.46 
L 372.37 791.25 
L 372.19 790.81 
L 371.41 789.92 
L 370.16 789.04 
L 368.51 788.15 
L 365.45 786.83 
L 360.69 785.06 
L 352.18 781.96 
L 349.13 780.63 
L 336.33 774 
L 334.13 772.67 
L 332.34 771.34 
L 331.44 770.46 
L 330.82 769.58 
L 330.51 768.69 
L 330.48 766.48 
L 330.61 758.52 
L 330.86 754.09 
L 331.52 753.54 
L 331.25 752.43 
L 330.60 751.33 
L 329.77 750.22 
L 329.48 749.67 
L 329.36 749.12 
L 329.45 748.01 
L 329.64 746.35 
L 329.77 743.03 
L 329.28 741.93 
L 328.81 740.82 
L 328.76 740.27 
L 329.06 739.16 
L 329.47 738.06 
L 329.94 735.84 
L 331.17 733.63 
L 331.13 733.08 
L 330.39 730.87 
L 330.37 729.21 
L 330.19 728.66 
L 329.45 727.55 
L 328.77 726.44 
L 328.53 725.34 
L 328.57 723.68 
L 328.80 722.57 
L 329.47 721.47 
L 330.21 720.36 
L 330.30 719.81 
L 330.18 719.26 
L 329.51 717.60 
L 328.93 713.73 
L 329.01 713.17 
L 329.28 712.62 
L 330.40 710.96 
L 330.46 710.41 
L 330.29 709.86 
L 328.90 707.64 
L 328.69 706.54 
L 328.74 705.43 
L 328.92 704.88 
L 329.67 703.77 
L 330.55 702.67 
L 330.80 702.11 
L 330.85 701.56 
L 330.66 701.01 
L 329.57 699.35 
L 329.33 698.24 
L 329.23 697.69 
L 328.97 697.14 
L 327.89 696.03 
L 327.36 695.48 
L 327.09 694.93 
L 327.20 694.37 
L 328.14 693.27 
L 328.60 692.71 
L 328.86 692.16 
L 329.23 690.50 
L 330.23 688.84 
L 330.36 688.29 
L 330.24 687.74 
L 329.03 685.53 
L 329.17 684.97 
L 330.29 683.31 
L 330.46 682.76 
L 330.40 681.65 
L 330.37 680.55 
L 330.61 678.89 
L 330.78 678.34 
L 331.53 677.23 
L 331.97 676.68 
L 332.23 676.13 
L 332.26 675.57 
L 331.79 674.47 
L 331.02 673.36 
L 330.48 672.81 
L 328.95 671.70 
L 328.16 671.15 
L 327.57 670.60 
L 327.33 670.04 
L 327.47 669.49 
L 328.45 668.38 
L 328.93 667.83 
L 329.25 667.28 
L 329.49 666.17 
L 329.53 664.51 
L 329.47 661.75 
L 329.50 660.09 
L 329.45 658.43 
L 329.63 657.88 
L 330.41 656.77 
L 331.22 655.67 
L 331.67 654.56 
L 331.74 654.01 
L 331.64 653.45 
L 331.32 652.90 
L 330.76 652.35 
L 328.46 650.69 
L 328.01 650.14 
L 327.89 649.58 
L 328.33 647.92 
L 328.20 647.37 
L 327.60 646.27 
L 327.47 645.71 
L 327.63 645.16 
L 329.20 642.95 
L 329.18 642.39 
L 328.93 641.29 
L 328.92 640.74 
L 329.27 639.63 
L 330.06 637.97 
L 330.25 636.86 
L 330.49 632.44 
L 330.14 631.34 
L 329.93 630.78 
L 329.86 630.23 
L 330.17 629.12 
L 330.31 628.57 
L 330.26 628.02 
L 329.97 627.46 
L 328.67 625.81 
L 328.49 625.25 
L 328.52 624.70 
L 328.91 623.04 
L 329.07 621.94 
L 329.91 619.17 
L 329.57 618.06 
L 329.18 616.96 
L 329.05 615.85 
L 329.05 614.19 
L 329.45 611.43 
L 329.02 605.90 
L 329.05 604.79 
L 329.02 603.69 
L 329.11 603.13 
L 329.34 602.58 
L 330.78 600.37 
L 330.63 599.82 
L 330.13 599.26 
L 328.73 598.16 
L 328.28 597.60 
L 328.13 597.05 
L 328.44 595.95 
L 329.17 593.73 
L 329.43 592.63 
L 329.55 590.97 
L 329.43 589.86 
L 329.07 588.20 
L 329.14 587.65 
L 329.65 586.55 
L 330.37 585.44 
L 330.62 584.89 
L 330.68 584.33 
L 330.52 583.78 
L 329.67 582.67 
L 328.74 581.57 
L 328.42 581.02 
L 328.24 580.46 
L 328.21 579.91 
L 328.52 577.15 
L 328.11 576.04 
L 327.68 574.93 
L 327.62 574.38 
L 327.85 573.27 
L 328.46 572.17 
L 329.54 570.51 
L 330.40 568.30 
L 331.31 567.19 
L 331.80 566.64 
L 332.13 566.09 
L 332.23 565.53 
L 332.06 564.98 
L 331.69 564.43 
L 330.55 563.32 
L 327.80 561.11 
L 327.42 560.56 
L 327.31 560 
L 327.46 559.45 
L 328.15 558.34 
L 329.63 556.13 
L 330.10 555.03 
L 330.12 554.47 
L 329.96 553.92 
L 329.08 552.82 
L 328.62 552.26 
L 328.38 551.71 
L 328.46 551.16 
L 329.44 549.50 
L 329.34 548.94 
L 328.37 547.84 
L 327.92 547.29 
L 327.74 546.73 
L 327.93 546.18 
L 328.42 545.63 
L 329.66 544.52 
L 329.99 543.97 
L 329.98 543.41 
L 329.17 541.76 
L 329.23 541.20 
L 329.57 540.65 
L 331.02 538.99 
L 331.11 538.44 
L 330.85 537.89 
L 329.64 536.78 
L 329.02 536.23 
L 328.62 535.67 
L 328.53 535.12 
L 328.75 534.57 
L 329.99 532.91 
L 330.38 531.80 
L 330.40 530.70 
L 330.11 526.83 
L 330.63 525.17 
L 330.56 524.61 
L 329.82 522.96 
L 329.69 521.85 
L 329.59 518.53 
L 330.02 516.87 
L 330 515.77 
L 329.71 514.11 
L 329.75 513.55 
L 329.93 513 
L 330.68 511.90 
L 331.43 510.79 
L 331.61 510.24 
L 331.63 509.68 
L 331.40 508.58 
L 330.32 505.26 
L 329.24 504.15 
L 328.08 503.05 
L 327.75 502.50 
L 327.66 501.94 
L 327.92 500.84 
L 328.40 499.18 
L 328.90 496.97 
L 329.97 493.65 
L 329.90 493.10 
L 329.60 492.54 
L 327.83 490.33 
L 327.73 489.78 
L 327.90 488.67 
L 328.09 487.57 
L 328.13 484.80 
L 328.63 483.70 
L 329.99 481.48 
L 330.12 480.93 
L 329.99 479.82 
L 329.24 477.61 
L 328.56 475.95 
L 328.53 475.40 
L 328.65 474.85 
L 329.24 473.74 
L 329.82 472.64 
L 329.92 472.08 
L 329.85 471.53 
L 329.33 470.42 
L 328.42 468.77 
L 328.29 468.21 
L 328.34 467.66 
L 328.83 466.55 
L 329.31 465.45 
L 329.47 464.34 
L 329.36 463.24 
L 329.23 462.13 
L 329.37 461.02 
L 330.14 457.15 
L 329.85 456.05 
L 329.41 454.94 
L 329.31 454.39 
L 329.35 453.84 
L 329.77 452.73 
L 330.77 450.52 
L 331.05 449.41 
L 331.01 448.31 
L 330.69 446.09 
L 330.45 445.54 
L 329.04 443.33 
L 328.93 442.22 
L 328.76 438.35 
L 328.86 437.80 
L 329.14 437.25 
L 330.88 435.03 
L 330.91 434.48 
L 330.74 433.93 
L 329.61 431.72 
L 329.50 431.16 
L 329.53 430.61 
L 330 429.50 
L 330.29 428.95 
L 330.45 428.40 
L 330.40 427.85 
L 329.74 426.74 
L 329.06 425.63 
L 328.93 425.08 
L 328.95 424.53 
L 329.30 423.42 
L 329.60 422.32 
L 329.53 421.76 
L 329 420.66 
L 328.52 419.55 
L 328.30 418.45 
L 328.32 417.34 
L 328.54 416.79 
L 329.55 415.13 
L 330.65 412.36 
L 330.74 411.81 
L 330.64 411.26 
L 329.97 409.60 
L 330.09 409.05 
L 331.49 406.83 
L 331.74 405.17 
L 332.07 404.62 
L 333.99 402.41 
L 334.44 401.30 
L 334.52 400.75 
L 334.47 400.20 
L 334.29 399.65 
L 333.95 399.09 
L 332.85 397.99 
L 330.91 396.33 
L 330.53 395.77 
L 330.35 395.22 
L 330.20 393.01 
L 330.02 391.90 
L 330.19 391.35 
L 330.64 390.80 
L 331.76 389.69 
L 331.93 389.14 
L 331.61 388.59 
L 329.21 386.93 
L 328.88 386.37 
L 329.02 385.82 
L 330.77 383.61 
L 331.09 382.50 
L 331.12 381.40 
L 330.35 378.08 
L 329.73 376.97 
L 329.12 375.87 
L 329.02 375.31 
L 329.20 374.21 
L 329.79 372 
L 329.80 370.89 
L 329.62 370.34 
L 328.95 369.23 
L 328.28 368.13 
L 328.21 367.57 
L 328.39 367.02 
L 329.68 365.36 
L 329.85 364.81 
L 329.64 363.70 
L 329.55 363.15 
L 329.70 362.04 
L 329.76 361.49 
L 329.68 360.94 
L 328.89 359.28 
L 328.92 358.73 
L 329.20 358.17 
L 331.14 355.96 
L 331.42 355.41 
L 331.53 354.86 
L 331.46 354.30 
L 330.92 353.20 
L 329.22 350.43 
L 327.91 349.33 
L 326.58 348.22 
L 326.27 347.67 
L 326.29 347.11 
L 326.60 346.56 
L 327.73 345.46 
L 328.82 344.35 
L 329.15 343.80 
L 329.31 343.24 
L 329.31 342.69 
L 328.99 341.58 
L 328.68 340.48 
L 328.71 339.37 
L 329.09 337.71 
L 329.70 336.05 
L 330.11 334.95 
L 330.27 333.84 
L 330.17 333.29 
L 329.94 332.74 
L 328.63 330.53 
L 328.68 329.97 
L 329.31 328.87 
L 329.86 327.76 
L 329.91 326.65 
L 329.95 325.55 
L 330.18 325 
L 331.26 323.34 
L 331.33 322.78 
L 331.14 322.23 
L 330.04 320.57 
L 329.93 320.02 
L 330.17 317.81 
L 329.76 316.70 
L 329.70 316.15 
L 329.86 315.60 
L 330.78 313.94 
L 330.71 313.38 
L 330.33 312.83 
L 328.73 311.17 
L 328.50 310.62 
L 328.46 310.07 
L 328.71 308.96 
L 330.29 305.09 
L 331.19 303.98 
L 331.46 303.43 
L 331.42 302.88 
L 331.06 302.32 
L 329.27 300.67 
L 328.94 300.11 
L 328.85 299.56 
L 328.99 299.01 
L 329.68 297.90 
L 330.33 296.79 
L 330.48 295.69 
L 330.50 294.58 
L 330.61 294.03 
L 330.84 293.48 
L 331.68 292.37 
L 335.47 288.50 
L 335.70 287.95 
L 335.64 287.39 
L 335.33 286.84 
L 333.80 285.18 
L 330.97 282.42 
L 330.71 281.86 
L 330.20 279.65 
L 329.39 278.55 
L 328.60 277.44 
L 328.46 276.89 
L 328.62 275.78 
L 328.80 274.68 
L 328.93 273.57 
L 329.39 271.91 
L 329.23 270.81 
L 329.03 269.70 
L 329.22 268.59 
L 329.87 266.93 
L 330.59 265.28 
L 330.65 264.72 
L 330.48 262.51 
L 330.44 261.41 
L 330.16 260.85 
L 329.66 260.30 
L 328.35 259.19 
L 327.87 258.64 
L 327.63 258.09 
L 327.65 256.98 
L 327.81 255.32 
L 328.45 254.22 
L 329.05 253.11 
L 329.12 252.56 
L 328.85 248.69 
L 329.32 247.58 
L 329.84 246.48 
L 329.97 245.37 
L 329.98 243.71 
L 329.99 242.60 
L 329.85 242.05 
L 329.55 241.50 
L 328.24 239.84 
L 328.01 239.29 
L 328.03 238.73 
L 328.30 238.18 
L 329.28 237.07 
L 330.21 235.97 
L 330.65 234.86 
L 331.20 232.65 
L 331.07 232.10 
L 329.80 229.33 
L 329.79 228.23 
L 330.17 226.57 
L 330.34 225.46 
L 330.28 224.91 
L 330.06 224.36 
L 329.28 223.25 
L 328.48 222.14 
L 327.90 221.04 
L 327.60 219.93 
L 327.67 219.38 
L 327.93 218.83 
L 329.04 217.17 
L 329.21 216.62 
L 329.30 214.96 
L 329.73 213.85 
L 330.11 212.74 
L 330.13 212.19 
L 329.80 211.09 
L 329.40 209.98 
L 329.37 208.87 
L 329.51 207.77 
L 329.44 207.22 
L 328.92 205.56 
L 328.98 205 
L 329.53 203.90 
L 330.03 202.79 
L 330.30 200.58 
L 330.81 199.47 
L 330.76 198.92 
L 330.39 198.37 
L 328.71 196.71 
L 328.48 196.16 
L 328.50 195.60 
L 328.77 195.05 
L 329.24 194.50 
L 330.57 193.39 
L 334.25 190.63 
L 334.71 190.07 
L 334.98 189.52 
L 335.10 188.41 
L 334.93 187.31 
L 334.44 186.20 
L 333.39 184.54 
L 332.45 182.33 
L 331.75 181.23 
L 330.82 179.01 
L 329.70 177.36 
L 329.60 176.80 
L 329.85 175.70 
L 329.98 175.14 
L 329.97 174.59 
L 329.48 173.48 
L 328.91 172.38 
L 328.28 170.17 
L 328.21 169.61 
L 328.26 169.06 
L 328.70 167.95 
L 329.20 166.85 
L 329.33 166.30 
L 329.23 165.19 
L 328.84 163.53 
L 328.82 161.87 
L 328.86 159.11 
L 329.08 157.45 
L 328.73 156.34 
L 328.31 155.24 
L 328.32 154.68 
L 328.55 154.13 
L 329.80 152.47 
L 329.96 151.92 
L 329.86 151.37 
L 328.71 149.15 
L 328.72 148.60 
L 329.06 147.50 
L 329.98 145.28 
L 330.07 144.73 
L 329.90 143.62 
L 329.59 142.52 
L 329.56 141.97 
L 329.69 141.41 
L 330.73 139.20 
L 330.57 138.65 
L 330.15 138.10 
L 327.61 135.88 
L 327.44 135.33 
L 327.64 134.78 
L 329.39 132.57 
L 329.37 132.01 
L 329.12 131.46 
L 327.52 129.25 
L 327.38 128.69 
L 327.40 128.14 
L 327.58 127.59 
L 328.36 126.48 
L 329.30 125.38 
L 329.55 124.82 
L 329.55 124.27 
L 329.30 123.72 
L 327.63 121.51 
L 327.44 120.95 
L 327.44 120.40 
L 327.65 119.85 
L 328.59 118.74 
L 329.57 117.64 
L 329.78 117.08 
L 329.78 116.53 
L 329.27 115.42 
L 328.72 114.32 
L 328.65 113.76 
L 328.99 111.55 
L 328.61 110.45 
L 327.63 108.24 
L 327.37 107.13 
L 327.33 106.58 
L 327.40 106.02 
L 327.67 105.47 
L 328.18 104.92 
L 330.33 103.26 
L 330.62 102.71 
L 330.48 102.15 
L 328.73 99.94 
L 328.73 99.39 
L 329.52 96.62 
L 329.31 95.52 
L 328.07 92.20 
L 327.66 88.88 
L 327.66 88.88 
" clip-path="url(#p5aa6ab8a2a)" style="fill: none; stroke: #00ffff; stroke-width: 1.5; stroke-linecap: square"/>
</g>
<g id="patch_9">
<path d="M 327.72 862.92 
L 327.72 88.77 
" style="fill: none; stroke: #000000; stroke-width: 0.8; stroke-linejoin: miter; stroke-linecap: square"/>
</g>
<g id="patch_10">
<path d="M 493.25 862.92 
L 493.25 88.77 
" style="fill: none; stroke: #000000; stroke-width: 0.8; stroke-linejoin: miter; stroke-linecap: square"/>
</g>
<g id="patch_11">
<path d="M 327.72 862.92 
L 493.25 862.92 
" style="fill: none; stroke: #000000; stroke-width: 0.8; stroke-linejoin: miter; stroke-linecap: square"/>
</g>
<g id="patch_12">
<path d="M 327.72 88.77 
L 493.25 88.77 
" style="fill: none; stroke: #000000; stroke-width: 0.8; stroke-linejoin: miter; stroke-linecap: square"/>
</g>
<g id="text_36">
<g id="patch_13">
<path d="M 420.79 211.81 
L 490.63 211.81 
L 490.63 167.10 
L 420.79 167.10 
z
" style="fill: #eef0f5; opacity: 0.8"/>
</g>
<g style="fill: #1a1a1a" transform="translate(429.34 178.44)">
<text>
<tspan x="0" y="-0.31" style="font-size: 9.90px; font-family: 'Liberation Serif'; fill: #1a1a1a" textLength="5.50" lengthAdjust="spacingAndGlyphs">L</tspan>
<tspan x="5.97" y="-0.31" style="font-size: 9.90px; font-family: 'Liberation Serif'; fill: #1a1a1a" textLength="6.23" lengthAdjust="spacingAndGlyphs">R</tspan>
<tspan x="25.10" y="-0.31" style="font-size: 9.90px; font-family: 'Liberation Serif'; fill: #1a1a1a">:</tspan>
<tspan x="28.14" y="-0.31" style="font-size: 9.90px; font-family: 'Liberation Serif'; fill: #1a1a1a"> </tspan>
<tspan x="31" y="-0.31" style="font-size: 9.90px; font-family: 'Liberation Serif'; fill: #1a1a1a" textLength="5.27" lengthAdjust="spacingAndGlyphs">5</tspan>
<tspan x="36.72" y="-0.31" style="font-size: 9.90px; font-family: 'Liberation Serif'; fill: #1a1a1a" textLength="5.27" lengthAdjust="spacingAndGlyphs">0</tspan>
<tspan x="42.45" y="-0.31" style="font-size: 9.90px; font-family: 'Liberation Serif'; fill: #1a1a1a">.</tspan>
<tspan x="45.31" y="-0.31" style="font-size: 9.90px; font-family: 'Liberation Serif'; fill: #1a1a1a" textLength="5.27" lengthAdjust="spacingAndGlyphs">0</tspan>
<tspan x="51.04" y="-0.31" style="font-size: 9.90px; font-family: 'Liberation Serif'; fill: #1a1a1a" textLength="5.27" lengthAdjust="spacingAndGlyphs">0</tspan>
<tspan x="12.83" y="1.16" style="font-size: 6.62px; font-family: 'Liberation Sans'; fill: #1a1a1a" textLength="3.69" lengthAdjust="spacingAndGlyphs">3</tspan>
<tspan x="16.84" y="1.16" style="font-size: 6.62px; font-family: 'Liberation Sans'; fill: #1a1a1a" textLength="3.69" lengthAdjust="spacingAndGlyphs">5</tspan>
<tspan x="20.85" y="1.16" style="font-size: 6.62px; font-family: 'Liberation Sans'; fill: #1a1a1a" textLength="3.69" lengthAdjust="spacingAndGlyphs">5</tspan>
</text>
</g>
<g style="fill: #1a1a1a" transform="translate(429.34 191.94)">
<text>
<tspan x="0" y="-0.31" style="font-size: 9.90px; font-family: 'Liberation Serif'; fill: #1a1a1a" textLength="5.50" lengthAdjust="spacingAndGlyphs">L</tspan>
<tspan x="5.97" y="-0.31" style="font-size: 9.90px; font-family: 'Liberation Serif'; fill: #1a1a1a" textLength="6.23" lengthAdjust="spacingAndGlyphs">R</tspan>
<tspan x="25.10" y="-0.31" style="font-size: 9.90px; font-family: 'Liberation Serif'; fill: #1a1a1a">:</tspan>
<tspan x="28.14" y="-0.31" style="font-size: 9.90px; font-family: 'Liberation Serif'; fill: #1a1a1a"> </tspan>
<tspan x="31" y="-0.31" style="font-size: 9.90px; font-family: 'Liberation Serif'; fill: #1a1a1a" textLength="5.27" lengthAdjust="spacingAndGlyphs">5</tspan>
<tspan x="36.72" y="-0.31" style="font-size: 9.90px; font-family: 'Liberation Serif'; fill: #1a1a1a" textLength="5.27" lengthAdjust="spacingAndGlyphs">0</tspan>
<tspan x="42.45" y="-0.31" style="font-size: 9.90px; font-family: 'Liberation Serif'; fill: #1a1a1a">.</tspan>
<tspan x="45.31" y="-0.31" style="font-size: 9.90px; font-family: 'Liberation Serif'; fill: #1a1a1a" textLength="5.27" lengthAdjust="spacingAndGlyphs">0</tspan>
<tspan x="51.04" y="-0.31" style="font-size: 9.90px; font-family: 'Liberation Serif'; fill: #1a1a1a" textLength="5.27" lengthAdjust="spacingAndGlyphs">0</tspan>
<tspan x="12.83" y="1.16" style="font-size: 6.62px; font-family: 'Liberation Sans'; fill: #1a1a1a" textLength="3.69" lengthAdjust="spacingAndGlyphs">5</tspan>
<tspan x="16.84" y="1.16" style="font-size: 6.62px; font-family: 'Liberation Sans'; fill: #1a1a1a" textLength="3.69" lengthAdjust="spacingAndGlyphs">3</tspan>
<tspan x="20.85" y="1.16" style="font-size: 6.62px; font-family: 'Liberation Sans'; fill: #1a1a1a" textLength="3.69" lengthAdjust="spacingAndGlyphs">2</tspan>
</text>
</g>
<g style="fill: #1a1a1a" transform="translate(425.29 205.44)">
<text>
<tspan x="0" y="-0.31" style="font-size: 9.90px; font-family: 'Liberation Serif'; fill: #1a1a1a" textLength="5.50" lengthAdjust="spacingAndGlyphs">L</tspan>
<tspan x="5.97" y="-0.31" style="font-size: 9.90px; font-family: 'Liberation Serif'; fill: #1a1a1a" textLength="6.23" lengthAdjust="spacingAndGlyphs">R</tspan>
<tspan x="29.11" y="-0.31" style="font-size: 9.90px; font-family: 'Liberation Serif'; fill: #1a1a1a">:</tspan>
<tspan x="32.15" y="-0.31" style="font-size: 9.90px; font-family: 'Liberation Serif'; fill: #1a1a1a"> </tspan>
<tspan x="35.01" y="-0.31" style="font-size: 9.90px; font-family: 'Liberation Serif'; fill: #1a1a1a" textLength="5.27" lengthAdjust="spacingAndGlyphs">5</tspan>
<tspan x="40.73" y="-0.31" style="font-size: 9.90px; font-family: 'Liberation Serif'; fill: #1a1a1a" textLength="5.27" lengthAdjust="spacingAndGlyphs">0</tspan>
<tspan x="46.46" y="-0.31" style="font-size: 9.90px; font-family: 'Liberation Serif'; fill: #1a1a1a">.</tspan>
<tspan x="49.32" y="-0.31" style="font-size: 9.90px; font-family: 'Liberation Serif'; fill: #1a1a1a" textLength="5.27" lengthAdjust="spacingAndGlyphs">0</tspan>
<tspan x="55.05" y="-0.31" style="font-size: 9.90px; font-family: 'Liberation Serif'; fill: #1a1a1a" textLength="5.27" lengthAdjust="spacingAndGlyphs">0</tspan>
<tspan x="12.83" y="1.16" style="font-size: 6.62px; font-family: 'Liberation Sans'; fill: #1a1a1a" textLength="3.69" lengthAdjust="spacingAndGlyphs">1</tspan>
<tspan x="16.84" y="1.16" style="font-size: 6.62px; font-family: 'Liberation Sans'; fill: #1a1a1a" textLength="3.69" lengthAdjust="spacingAndGlyphs">0</tspan>
<tspan x="20.85" y="1.16" style="font-size: 6.62px; font-family: 'Liberation Sans'; fill: #1a1a1a" textLength="3.69" lengthAdjust="spacingAndGlyphs">6</tspan>
<tspan x="24.86" y="1.16" style="font-size: 6.62px; font-family: 'Liberation Sans'; fill: #1a1a1a" textLength="3.69" lengthAdjust="spacingAndGlyphs">4</tspan>
</text>
</g>
</g>
<g id="legend_2">
<g id="patch_14">
<path d="M 316.63 260.60 
L 485.55 260.60 
Q 487.75 260.60 487.75 258.40 
L 487.75 96.47 
Q 487.75 94.27 485.55 94.27 
L 316.63 94.27 
Q 314.43 94.27 314.43 96.47 
L 314.43 258.40 
Q 314.43 260.60 316.63 260.60 
z
" style="fill: #ffffff; opacity: 0.8; stroke: #cccccc; stroke-linejoin: miter"/>
</g>
<g id="line2d_91">
<path d="M 319.93 104.28 
L 330.93 104.28 
L 341.93 104.28 
" style="fill: none; stroke: #0000ff; stroke-width: 1.5; stroke-linecap: square"/>
</g>
<g id="text_37">
<text style="font-size: 12.22px; font-family: 'Liberation Serif'; text-anchor: start" x="350.73" y="108.13" transform="rotate(-0 350.73 108.13)" textLength="105.91" lengthAdjust="spacingAndGlyphs">aerExt_raman_355</text>
</g>
<g id="line2d_92">
<path d="M 319.93 122.33 
L 330.93 122.33 
L 341.93 122.33 
" style="fill: none; stroke: #008000; stroke-width: 1.5; stroke-linecap: square"/>
</g>
<g id="text_38">
<text style="font-size: 12.22px; font-family: 'Liberation Serif'; text-anchor: start" x="350.73" y="126.18" transform="rotate(-0 350.73 126.18)" textLength="105.91" lengthAdjust="spacingAndGlyphs">aerExt_raman_532</text>
</g>
<g id="line2d_93">
<path d="M 319.93 140.37 
L 330.93 140.37 
L 341.93 140.37 
" style="fill: none; stroke: #ff0000; stroke-width: 1.5; stroke-linecap: square"/>
</g>
<g id="text_39">
<text style="font-size: 12.22px; font-family: 'Liberation Serif'; text-anchor: start" x="350.73" y="144.22" transform="rotate(-0 350.73 144.22)" textLength="112.98" lengthAdjust="spacingAndGlyphs">aerExt_raman_1064</text>
</g>
<g id="line2d_94">
<path d="M 319.93 158.42 
L 330.93 158.42 
L 341.93 158.42 
" style="fill: none; stroke-dasharray: 5.55,2.4; stroke-dashoffset: 0; stroke: #800080; stroke-width: 1.5"/>
</g>
<g id="text_40">
<text style="font-size: 12.22px; font-family: 'Liberation Serif'; text-anchor: start" x="350.73" y="162.27" transform="rotate(-0 350.73 162.27)" textLength="86.40" lengthAdjust="spacingAndGlyphs">aerExt_RR_355</text>
</g>
<g id="line2d_95">
<path d="M 319.93 176.47 
L 330.93 176.47 
L 341.93 176.47 
" style="fill: none; stroke-dasharray: 5.55,2.4; stroke-dashoffset: 0; stroke: #808000; stroke-width: 1.5"/>
</g>
<g id="text_41">
<text style="font-size: 12.22px; font-family: 'Liberation Serif'; text-anchor: start" x="350.73" y="180.32" transform="rotate(-0 350.73 180.32)" textLength="86.40" lengthAdjust="spacingAndGlyphs">aerExt_RR_532</text>
</g>
<g id="line2d_96">
<path d="M 319.93 194.51 
L 330.93 194.51 
L 341.93 194.51 
" style="fill: none; stroke-dasharray: 5.55,2.4; stroke-dashoffset: 0; stroke: #ffa07a; stroke-width: 1.5"/>
</g>
<g id="text_42">
<text style="font-size: 12.22px; font-family: 'Liberation Serif'; text-anchor: start" x="350.73" y="198.36" transform="rotate(-0 350.73 198.36)" textLength="93.46" lengthAdjust="spacingAndGlyphs">aerExt_RR_1064</text>
</g>
<g id="line2d_97">
<path d="M 319.93 212.56 
L 330.93 212.56 
L 341.93 212.56 
" style="fill: none; stroke: #00ffff; stroke-width: 1.5; stroke-linecap: square"/>
</g>
<g id="text_43">
<text style="font-size: 12.22px; font-family: 'Liberation Serif'; text-anchor: start" x="350.73" y="216.41" transform="rotate(-0 350.73 216.41)" textLength="125.77" lengthAdjust="spacingAndGlyphs">aerBsc_klett_355 x LR</text>
</g>
<g id="line2d_98">
<path d="M 319.93 230.61 
L 330.93 230.61 
L 341.93 230.61 
" style="fill: none; stroke: #00ff00; stroke-width: 1.5; stroke-linecap: square"/>
</g>
<g id="text_44">
<text style="font-size: 12.22px; font-family: 'Liberation Serif'; text-anchor: start" x="350.73" y="234.46" transform="rotate(-0 350.73 234.46)" textLength="125.77" lengthAdjust="spacingAndGlyphs">aerBsc_klett_532 x LR</text>
</g>
<g id="line2d_99">
<path d="M 319.93 248.65 
L 330.93 248.65 
L 341.93 248.65 
" style="fill: none; stroke: #fa8072; stroke-width: 1.5; stroke-linecap: square"/>
</g>
<g id="text_45">
<text style="font-size: 12.22px; font-family: 'Liberation Serif'; text-anchor: start" x="350.73" y="252.50" transform="rotate(-0 350.73 252.50)" textLength="132.84" lengthAdjust="spacingAndGlyphs">aerBsc_klett_1064 x LR</text>
</g>
</g>
</g>
<g id="axes_3">
<g id="patch_15">
<path d="M 552.21 862.92 
L 717.73 862.92 
L 717.73 88.77 
L 552.21 88.77 
z
" style="fill: #ffffff"/>
</g>
<g id="matplotlib.axis_5">
<g id="xtick_8">
<g id="line2d_100">
<path d="M 552.21 862.92 
L 552.21 88.77 
" clip-path="url(#p3195266961)" style="fill: none; stroke: #b0b0b0; stroke-width: 0.8; stroke-linecap: square"/>
</g>
<g id="line2d_101">
<g>
<use href="#mabf18fba1c" x="552.21" y="862.92" style="stroke: #000000; stroke-width: 1.5"/>
</g>
</g>
<g id="line2d_102">
<g>
<use href="#m81def42b3b" x="552.21" y="88.77" style="stroke: #000000; stroke-width: 1.5"/>
</g>
</g>
<g id="text_46">
<text style="font-size: 13.20px; font-family: 'Liberation Serif'; text-anchor: middle" x="552.21" y="878.67"  textLength="7.63" lengthAdjust="spacingAndGlyphs">0</text>
</g>
</g>
<g id="xtick_9">
<g id="line2d_103">
<path d="M 621.18 862.92 
L 621.18 88.77 
" clip-path="url(#p3195266961)" style="fill: none; stroke: #b0b0b0; stroke-width: 0.8; stroke-linecap: square"/>
</g>
<g id="line2d_104">
<g>
<use href="#mabf18fba1c" x="621.18" y="862.92" style="stroke: #000000; stroke-width: 1.5"/>
</g>
</g>
<g id="line2d_105">
<g>
<use href="#m81def42b3b" x="621.18" y="88.77" style="stroke: #000000; stroke-width: 1.5"/>
</g>
</g>
<g id="text_47">
<text style="font-size: 13.20px; font-family: 'Liberation Serif'; text-anchor: middle" x="621.18" y="878.67"  textLength="15.27" lengthAdjust="spacingAndGlyphs">50</text>
</g>
</g>
<g id="xtick_10">
<g id="line2d_106">
<path d="M 690.15 862.92 
L 690.15 88.77 
" clip-path="url(#p3195266961)" style="fill: none; stroke: #b0b0b0; stroke-width: 0.8; stroke-linecap: square"/>
</g>
<g id="line2d_107">
<g>
<use href="#mabf18fba1c" x="690.15" y="862.92" style="stroke: #000000; stroke-width: 1.5"/>
</g>
</g>
<g id="line2d_108">
<g>
<use href="#m81def42b3b" x="690.15" y="88.77" style="stroke: #000000; stroke-width: 1.5"/>
</g>
</g>
<g id="text_48">
<text style="font-size: 13.20px; font-family: 'Liberation Serif'; text-anchor: middle" x="690.15" y="878.67"  textLength="22.90" lengthAdjust="spacingAndGlyphs">100</text>
</g>
</g>
<g id="text_49">
<text style="font-size: 16.63px; font-family: 'Liberation Serif'; text-anchor: middle" x="634.97" y="895.23"  textLength="111.75" lengthAdjust="spacingAndGlyphs">Lidar ratio [Sr]</text>
</g>
</g>
<g id="matplotlib.axis_6">
<g id="ytick_17">
<g id="line2d_109">
<path d="M 552.21 862.92 
L 717.73 862.92 
" clip-path="url(#p3195266961)" style="fill: none; stroke: #b0b0b0; stroke-width: 0.8; stroke-linecap: square"/>
</g>
<g id="line2d_110">
<g>
<use href="#m7d13c92054" x="552.21" y="862.92" style="stroke: #000000; stroke-width: 1.5"/>
</g>
</g>
<g id="line2d_111">
<g>
<use href="#m4b7ecec418" x="717.73" y="862.92" style="stroke: #000000; stroke-width: 1.5"/>
</g>
</g>
<g id="text_50">
<text style="font-size: 13.20px; font-family: 'Liberation Serif'; text-anchor: end" x="544.71" y="867.47" transform="rotate(-0 544.71 867.47)" textLength="7.63" lengthAdjust="spacingAndGlyphs">0</text>
</g>
</g>
<g id="ytick_18">
<g id="line2d_112">
<path d="M 552.21 752.32 
L 717.73 752.32 
" clip-path="url(#p3195266961)" style="fill: none; stroke: #b0b0b0; stroke-width: 0.8; stroke-linecap: square"/>
</g>
<g id="line2d_113">
<g>
<use href="#m7d13c92054" x="552.21" y="752.32" style="stroke: #000000; stroke-width: 1.5"/>
</g>
</g>
<g id="line2d_114">
<g>
<use href="#m4b7ecec418" x="717.73" y="752.32" style="stroke: #000000; stroke-width: 1.5"/>
</g>
</g>
<g id="text_51">
<text style="font-size: 13.20px; font-family: 'Liberation Serif'; text-anchor: end" x="544.71" y="756.88" transform="rotate(-0 544.71 756.88)" textLength="7.63" lengthAdjust="spacingAndGlyphs">2</text>
</g>
</g>
<g id="ytick_19">
<g id="line2d_115">
<path d="M 552.21 641.73 
L 717.73 641.73 
" clip-path="url(#p3195266961)" style="fill: none; stroke: #b0b0b0; stroke-width: 0.8; stroke-linecap: square"/>
</g>
<g id="line2d_116">
<g>
<use href="#m7d13c92054" x="552.21" y="641.73" style="stroke: #000000; stroke-width: 1.5"/>
</g>
</g>
<g id="line2d_117">
<g>
<use href="#m4b7ecec418" x="717.73" y="641.73" style="stroke: #000000; stroke-width: 1.5"/>
</g>
</g>
<g id="text_52">
<text style="font-size: 13.20px; font-family: 'Liberation Serif'; text-anchor: end" x="544.71" y="646.29" transform="rotate(-0 544.71 646.29)" textLength="7.63" lengthAdjust="spacingAndGlyphs">4</text>
</g>
</g>
<g id="ytick_20">
<g id="line2d_118">
<path d="M 552.21 531.14 
L 717.73 531.14 
" clip-path="url(#p3195266961)" style="fill: none; stroke: #b0b0b0; stroke-width: 0.8; stroke-linecap: square"/>
</g>
<g id="line2d_119">
<g>
<use href="#m7d13c92054" x="552.21" y="531.14" style="stroke: #000000; stroke-width: 1.5"/>
</g>
</g>
<g id="line2d_120">
<g>
<use href="#m4b7ecec418" x="717.73" y="531.14" style="stroke: #000000; stroke-width: 1.5"/>
</g>
</g>
<g id="text_53">
<text style="font-size: 13.20px; font-family: 'Liberation Serif'; text-anchor: end" x="544.71" y="535.70" transform="rotate(-0 544.71 535.70)" textLength="7.63" lengthAdjust="spacingAndGlyphs">6</text>
</g>
</g>
<g id="ytick_21">
<g id="line2d_121">
<path d="M 552.21 420.55 
L 717.73 420.55 
" clip-path="url(#p3195266961)" style="fill: none; stroke: #b0b0b0; stroke-width: 0.8; stroke-linecap: square"/>
</g>
<g id="line2d_122">
<g>
<use href="#m7d13c92054" x="552.21" y="420.55" style="stroke: #000000; stroke-width: 1.5"/>
</g>
</g>
<g id="line2d_123">
<g>
<use href="#m4b7ecec418" x="717.73" y="420.55" style="stroke: #000000; stroke-width: 1.5"/>
</g>
</g>
<g id="text_54">
<text style="font-size: 13.20px; font-family: 'Liberation Serif'; text-anchor: end" x="544.71" y="425.11" transform="rotate(-0 544.71 425.11)" textLength="7.63" lengthAdjust="spacingAndGlyphs">8</text>
</g>
</g>
<g id="ytick_22">
<g id="line2d_124">
<path d="M 552.21 309.96 
L 717.73 309.96 
" clip-path="url(#p3195266961)" style="fill: none; stroke: #b0b0b0; stroke-width: 0.8; stroke-linecap: square"/>
</g>
<g id="line2d_125">
<g>
<use href="#m7d13c92054" x="552.21" y="309.96" style="stroke: #000000; stroke-width: 1.5"/>
</g>
</g>
<g id="line2d_126">
<g>
<use href="#m4b7ecec418" x="717.73" y="309.96" style="stroke: #000000; stroke-width: 1.5"/>
</g>
</g>
<g id="text_55">
<text style="font-size: 13.20px; font-family: 'Liberation Serif'; text-anchor: end" x="544.71" y="314.51" transform="rotate(-0 544.71 314.51)" textLength="15.27" lengthAdjust="spacingAndGlyphs">10</text>
</g>
</g>
<g id="ytick_23">
<g id="line2d_127">
<path d="M 552.21 199.36 
L 717.73 199.36 
" clip-path="url(#p3195266961)" style="fill: none; stroke: #b0b0b0; stroke-width: 0.8; stroke-linecap: square"/>
</g>
<g id="line2d_128">
<g>
<use href="#m7d13c92054" x="552.21" y="199.36" style="stroke: #000000; stroke-width: 1.5"/>
</g>
</g>
<g id="line2d_129">
<g>
<use href="#m4b7ecec418" x="717.73" y="199.36" style="stroke: #000000; stroke-width: 1.5"/>
</g>
</g>
<g id="text_56">
<text style="font-size: 13.20px; font-family: 'Liberation Serif'; text-anchor: end" x="544.71" y="203.92" transform="rotate(-0 544.71 203.92)" textLength="15.27" lengthAdjust="spacingAndGlyphs">12</text>
</g>
</g>
<g id="ytick_24">
<g id="line2d_130">
<path d="M 552.21 88.77 
L 717.73 88.77 
" clip-path="url(#p3195266961)" style="fill: none; stroke: #b0b0b0; stroke-width: 0.8; stroke-linecap: square"/>
</g>
<g id="line2d_131">
<g>
<use href="#m7d13c92054" x="552.21" y="88.77" style="stroke: #000000; stroke-width: 1.5"/>
</g>
</g>
<g id="line2d_132">
<g>
<use href="#m4b7ecec418" x="717.73" y="88.77" style="stroke: #000000; stroke-width: 1.5"/>
</g>
</g>
<g id="text_57">
<text style="font-size: 13.20px; font-family: 'Liberation Serif'; text-anchor: end" x="544.71" y="93.33" transform="rotate(-0 544.71 93.33)" textLength="15.27" lengthAdjust="spacingAndGlyphs">14</text>
</g>
</g>
</g>
<g id="line2d_133">
<path d="M 551.50 805.41 
L 568.04 804.30 
L 587.50 801.81 
L 590.26 801.26 
L 590.87 800.98 
L 592.47 800.71 
L 596.64 799.32 
L 598.39 799.05 
L 598.75 798.77 
L 600.71 798.22 
L 600.30 797.94 
L 603.22 797.11 
L 603.56 796.84 
L 604.77 796.56 
L 605.05 796.28 
L 605.05 796.01 
L 605.74 795.73 
L 607.02 795.45 
L 607.41 795.18 
L 606.94 794.90 
L 608.78 794.62 
L 608.94 794.35 
L 609.69 794.07 
L 609.39 793.8 
L 609.82 793.52 
L 609.85 793.24 
L 611.70 792.97 
L 610.90 792.69 
L 611.94 792.41 
L 611.33 792.14 
L 611.95 791.86 
L 611.43 791.58 
L 612.76 791.03 
L 611.82 790.75 
L 612.76 790.48 
L 612.42 790.20 
L 611.80 789.92 
L 611.97 789.65 
L 611.91 789.37 
L 612.01 789.09 
L 611.50 788.54 
L 611.62 788.27 
L 611.01 787.71 
L 611.69 787.16 
L 610.58 786.88 
L 611.11 786.61 
L 610.50 786.05 
L 611.16 785.78 
L 610.50 785.50 
L 611.25 785.22 
L 610.23 784.95 
L 610.64 784.67 
L 610.01 784.12 
L 610.49 783.84 
L 610.10 783.57 
L 610.33 783.29 
L 609.47 782.74 
L 609.79 782.46 
L 609.78 782.18 
L 610.08 781.91 
L 609.24 781.63 
L 609.53 781.35 
L 608.78 781.08 
L 609.71 780.80 
L 608.95 780.52 
L 608.61 780.25 
L 609.78 779.69 
L 608.68 779.42 
L 609.32 778.59 
L 610.28 778.31 
L 610.19 778.04 
L 610.69 777.76 
L 611.73 777.48 
L 611.72 777.21 
L 612.78 776.93 
L 612.78 776.65 
L 613.56 776.10 
L 615.63 775.82 
L 615.23 775.55 
L 615.91 775.27 
L 616.90 774.44 
L 617.97 774.16 
L 617.04 773.89 
L 617.10 773.61 
L 617.59 773.34 
L 617.73 773.06 
L 618.86 772.78 
L 619.18 772.51 
L 618.75 772.23 
L 618.89 771.95 
L 620.78 771.40 
L 619.46 771.12 
L 621.30 770.85 
L 621.14 770.57 
L 622.56 770.29 
L 622.27 770.02 
L 623.24 769.74 
L 623.41 769.46 
L 624.36 769.19 
L 626.11 768.91 
L 628.39 767.81 
L 631.45 767.25 
L 635.55 766.42 
L 642.82 765.59 
L 653.71 764.76 
L 667.77 763.94 
L 683.01 762.83 
L 707.48 760.89 
L 719.94 759.79 
L 719.94 759.79 
" clip-path="url(#p3195266961)" style="fill: none; stroke: #0000ff; stroke-width: 1.5; stroke-linecap: square"/>
</g>
<g id="line2d_134">
<path d="M 551.19 803.20 
L 553.48 802.97 
L 552.26 802.75 
L 557.53 802.53 
L 560.32 802.09 
L 563.09 801.43 
L 565.39 801.20 
L 565.91 800.98 
L 567.88 800.76 
L 566.60 800.54 
L 569.81 800.32 
L 570.46 800.10 
L 570.99 799.66 
L 573.34 799.44 
L 570.34 799.21 
L 574.49 798.99 
L 574.74 798.77 
L 576.08 798.33 
L 574.88 798.11 
L 576.01 797.89 
L 577.94 797.67 
L 578.02 797.22 
L 575.53 797 
L 579.29 796.78 
L 580.69 796.56 
L 580.78 796.34 
L 579.84 796.12 
L 577.20 795.90 
L 581.63 795.68 
L 580.10 795.45 
L 576.38 795.23 
L 581.39 795.01 
L 578.44 794.79 
L 578.86 794.57 
L 579.98 794.35 
L 582.75 794.13 
L 578.96 793.91 
L 578.49 793.68 
L 579.11 793.46 
L 576.93 793.24 
L 572.28 793.02 
L 570.49 792.80 
L 567.63 792.58 
L 567.44 792.36 
L 568.14 792.14 
L 565.30 791.69 
L 565.62 791.47 
L 561.58 791.25 
L 561.68 791.03 
L 561.95 790.81 
L 560.73 790.59 
L 560.64 790.37 
L 556.81 789.92 
L 557.30 789.70 
L 553.11 789.26 
L 556.56 789.04 
L 555.43 788.82 
L 556.14 788.60 
L 553.15 788.38 
L 555.86 788.15 
L 556.50 787.71 
L 555.08 787.49 
L 562.26 787.05 
L 562.42 786.83 
L 561.80 786.61 
L 565.88 786.16 
L 560.87 785.94 
L 566.08 785.72 
L 571.90 785.06 
L 571.93 784.84 
L 571.54 784.62 
L 572.47 784.39 
L 574.19 784.17 
L 572.87 783.95 
L 576.83 783.51 
L 579.23 783.29 
L 576.28 783.07 
L 577.66 782.63 
L 579.87 782.40 
L 577.91 782.18 
L 580.69 781.96 
L 576.94 781.74 
L 578.51 781.52 
L 578.75 781.30 
L 580.62 781.08 
L 581.28 780.86 
L 577.26 780.63 
L 578.43 780.41 
L 580.68 780.19 
L 577.87 779.75 
L 582.21 779.53 
L 581.38 779.31 
L 581.42 779.09 
L 579.83 778.87 
L 581.89 778.64 
L 578.60 778.42 
L 579.07 778.20 
L 573.63 777.98 
L 571.41 777.76 
L 570.86 777.54 
L 567.24 777.32 
L 567.77 777.10 
L 563.51 776.65 
L 567.23 776.21 
L 572.19 775.99 
L 572.93 775.77 
L 576.60 775.55 
L 586.25 775.10 
L 587.07 774.88 
L 584.81 774.66 
L 585.90 774.44 
L 588.80 774.22 
L 586.71 774 
L 585.87 773.78 
L 588.21 773.56 
L 589.26 773.34 
L 586.74 772.89 
L 587.57 772.67 
L 591.57 772.45 
L 589.78 772.23 
L 594.20 771.57 
L 593.48 771.34 
L 595.79 771.12 
L 594.47 770.90 
L 596.37 770.68 
L 596.34 770.46 
L 601.01 770.24 
L 600.24 770.02 
L 600.23 769.80 
L 603.56 769.35 
L 606.78 769.13 
L 604.81 768.91 
L 609.38 768.47 
L 613.97 768.25 
L 601.15 767.58 
L 600.94 767.36 
L 597.05 767.14 
L 598.62 766.92 
L 603.94 766.70 
L 607.54 766.26 
L 605.58 766.04 
L 607.82 765.82 
L 594.52 764.93 
L 617.58 764.27 
L 622.71 764.05 
L 621.55 763.82 
L 618.13 763.60 
L 619.53 763.38 
L 615.22 763.16 
L 609.38 762.50 
L 605.49 762.28 
L 611.61 762.06 
L 610.83 761.83 
L 616.68 761.39 
L 614.84 760.95 
L 629.31 760.06 
L 629.84 759.84 
L 639.07 759.62 
L 641.98 759.40 
L 650.81 759.18 
L 672.25 758.07 
L 674.12 757.85 
L 684.17 757.41 
L 684.20 757.19 
L 674.37 756.75 
L 666.11 756.53 
L 663.42 756.30 
L 651.41 755.86 
L 649.52 755.64 
L 698.93 754.98 
L 692.58 754.53 
L 686.66 754.31 
L 664.51 754.09 
L 664.51 754.09 
" clip-path="url(#p3195266961)" style="fill: none; stroke: #008000; stroke-width: 1.5; stroke-linecap: square"/>
</g>
<g id="patch_16">
<path d="M 552.21 862.92 
L 552.21 88.77 
" style="fill: none; stroke: #000000; stroke-width: 0.8; stroke-linejoin: miter; stroke-linecap: square"/>
</g>
<g id="patch_17">
<path d="M 717.73 862.92 
L 717.73 88.77 
" style="fill: none; stroke: #000000; stroke-width: 0.8; stroke-linejoin: miter; stroke-linecap: square"/>
</g>
<g id="patch_18">
<path d="M 552.21 862.92 
L 717.73 862.92 
" style="fill: none; stroke: #000000; stroke-width: 0.8; stroke-linejoin: miter; stroke-linecap: square"/>
</g>
<g id="patch_19">
<path d="M 552.21 88.77 
L 717.73 88.77 
" style="fill: none; stroke: #000000; stroke-width: 0.8; stroke-linejoin: miter; stroke-linecap: square"/>
</g>
<g id="legend_3">
<g id="patch_20">
<path d="M 563.83 206.46 
L 710.03 206.46 
Q 712.23 206.46 712.23 204.26 
L 712.23 96.47 
Q 712.23 94.27 710.03 94.27 
L 563.83 94.27 
Q 561.63 94.27 561.63 96.47 
L 561.63 204.26 
Q 561.63 206.46 563.83 206.46 
z
" style="fill: #ffffff; opacity: 0.8; stroke: #cccccc; stroke-linejoin: miter"/>
</g>
<g id="line2d_135">
<path d="M 567.13 104.28 
L 578.13 104.28 
L 589.13 104.28 
" style="fill: none; stroke: #0000ff; stroke-width: 1.5; stroke-linecap: square"/>
</g>
<g id="text_58">
<text style="font-size: 12.22px; font-family: 'Liberation Serif'; text-anchor: start" x="597.93" y="108.13" transform="rotate(-0 597.93 108.13)" textLength="102.82" lengthAdjust="spacingAndGlyphs">aerLR_raman_355</text>
</g>
<g id="line2d_136">
<path d="M 567.13 122.33 
L 578.13 122.33 
L 589.13 122.33 
" style="fill: none; stroke: #008000; stroke-width: 1.5; stroke-linecap: square"/>
</g>
<g id="text_59">
<text style="font-size: 12.22px; font-family: 'Liberation Serif'; text-anchor: start" x="597.93" y="126.18" transform="rotate(-0 597.93 126.18)" textLength="102.82" lengthAdjust="spacingAndGlyphs">aerLR_raman_532</text>
</g>
<g id="line2d_137">
<path d="M 567.13 140.37 
L 578.13 140.37 
L 589.13 140.37 
" style="fill: none; stroke: #ff0000; stroke-width: 1.5; stroke-linecap: square"/>
</g>
<g id="text_60">
<text style="font-size: 12.22px; font-family: 'Liberation Serif'; text-anchor: start" x="597.93" y="144.22" transform="rotate(-0 597.93 144.22)" textLength="109.89" lengthAdjust="spacingAndGlyphs">aerLR_raman_1064</text>
</g>
<g id="line2d_138">
<path d="M 567.13 158.42 
L 578.13 158.42 
L 589.13 158.42 
" style="fill: none; stroke-dasharray: 5.55,2.4; stroke-dashoffset: 0; stroke: #800080; stroke-width: 1.5"/>
</g>
<g id="text_61">
<text style="font-size: 12.22px; font-family: 'Liberation Serif'; text-anchor: start" x="597.93" y="162.27" transform="rotate(-0 597.93 162.27)" textLength="83.30" lengthAdjust="spacingAndGlyphs">aerLR_RR_355</text>
</g>
<g id="line2d_139">
<path d="M 567.13 176.47 
L 578.13 176.47 
L 589.13 176.47 
" style="fill: none; stroke-dasharray: 5.55,2.4; stroke-dashoffset: 0; stroke: #808000; stroke-width: 1.5"/>
</g>
<g id="text_62">
<text style="font-size: 12.22px; font-family: 'Liberation Serif'; text-anchor: start" x="597.93" y="180.32" transform="rotate(-0 597.93 180.32)" textLength="83.30" lengthAdjust="spacingAndGlyphs">aerLR_RR_532</text>
</g>
<g id="line2d_140">
<path d="M 567.13 194.51 
L 578.13 194.51 
L 589.13 194.51 
" style="fill: none; stroke-dasharray: 5.55,2.4; stroke-dashoffset: 0; stroke: #ffa07a; stroke-width: 1.5"/>
</g>
<g id="text_63">
<text style="font-size: 12.22px; font-family: 'Liberation Serif'; text-anchor: start" x="597.93" y="198.36" transform="rotate(-0 597.93 198.36)" textLength="90.37" lengthAdjust="spacingAndGlyphs">aerLR_RR_1064</text>
</g>
</g>
</g>
<g id="axes_4">
<g id="patch_21">
<path d="M 776.69 862.92 
L 942.22 862.92 
L 942.22 88.77 
L 776.69 88.77 
z
" style="fill: #ffffff"/>
</g>
<g id="matplotlib.axis_7">
<g id="xtick_11">
<g id="line2d_141">
<path d="M 776.69 862.92 
L 776.69 88.77 
" clip-path="url(#p853f674152)" style="fill: none; stroke: #b0b0b0; stroke-width: 0.8; stroke-linecap: square"/>
</g>
<g id="line2d_142">
<g>
<use href="#mabf18fba1c" x="776.69" y="862.92" style="stroke: #000000; stroke-width: 1.5"/>
</g>
</g>
<g id="line2d_143">
<g>
<use href="#m81def42b3b" x="776.69" y="88.77" style="stroke: #000000; stroke-width: 1.5"/>
</g>
</g>
<g id="text_64">
<text style="font-size: 13.20px; font-family: 'Liberation Serif'; text-anchor: middle" x="776.69" y="878.67"  textLength="17.69" lengthAdjust="spacingAndGlyphs">−1</text>
</g>
</g>
<g id="xtick_12">
<g id="line2d_144">
<path d="M 818.07 862.92 
L 818.07 88.77 
" clip-path="url(#p853f674152)" style="fill: none; stroke: #b0b0b0; stroke-width: 0.8; stroke-linecap: square"/>
</g>
<g id="line2d_145">
<g>
<use href="#mabf18fba1c" x="818.07" y="862.92" style="stroke: #000000; stroke-width: 1.5"/>
</g>
</g>
<g id="line2d_146">
<g>
<use href="#m81def42b3b" x="818.07" y="88.77" style="stroke: #000000; stroke-width: 1.5"/>
</g>
</g>
<g id="text_65">
<text style="font-size: 13.20px; font-family: 'Liberation Serif'; text-anchor: middle" x="818.07" y="878.67"  textLength="7.63" lengthAdjust="spacingAndGlyphs">0</text>
</g>
</g>
<g id="xtick_13">
<g id="line2d_147">
<path d="M 859.45 862.92 
L 859.45 88.77 
" clip-path="url(#p853f674152)" style="fill: none; stroke: #b0b0b0; stroke-width: 0.8; stroke-linecap: square"/>
</g>
<g id="line2d_148">
<g>
<use href="#mabf18fba1c" x="859.45" y="862.92" style="stroke: #000000; stroke-width: 1.5"/>
</g>
</g>
<g id="line2d_149">
<g>
<use href="#m81def42b3b" x="859.45" y="88.77" style="stroke: #000000; stroke-width: 1.5"/>
</g>
</g>
<g id="text_66">
<text style="font-size: 13.20px; font-family: 'Liberation Serif'; text-anchor: middle" x="859.45" y="878.67"  textLength="7.63" lengthAdjust="spacingAndGlyphs">1</text>
</g>
</g>
<g id="xtick_14">
<g id="line2d_150">
<path d="M 900.83 862.92 
L 900.83 88.77 
" clip-path="url(#p853f674152)" style="fill: none; stroke: #b0b0b0; stroke-width: 0.8; stroke-linecap: square"/>
</g>
<g id="line2d_151">
<g>
<use href="#mabf18fba1c" x="900.83" y="862.92" style="stroke: #000000; stroke-width: 1.5"/>
</g>
</g>
<g id="line2d_152">
<g>
<use href="#m81def42b3b" x="900.83" y="88.77" style="stroke: #000000; stroke-width: 1.5"/>
</g>
</g>
<g id="text_67">
<text style="font-size: 13.20px; font-family: 'Liberation Serif'; text-anchor: middle" x="900.83" y="878.67"  textLength="7.63" lengthAdjust="spacingAndGlyphs">2</text>
</g>
</g>
<g id="xtick_15">
<g id="line2d_153">
<path d="M 942.22 862.92 
L 942.22 88.77 
" clip-path="url(#p853f674152)" style="fill: none; stroke: #b0b0b0; stroke-width: 0.8; stroke-linecap: square"/>
</g>
<g id="line2d_154">
<g>
<use href="#mabf18fba1c" x="942.22" y="862.92" style="stroke: #000000; stroke-width: 1.5"/>
</g>
</g>
<g id="line2d_155">
<g>
<use href="#m81def42b3b" x="942.22" y="88.77" style="stroke: #000000; stroke-width: 1.5"/>
</g>
</g>
<g id="text_68">
<text style="font-size: 13.20px; font-family: 'Liberation Serif'; text-anchor: middle" x="942.22" y="878.67"  textLength="7.63" lengthAdjust="spacingAndGlyphs">3</text>
</g>
</g>
<g id="text_69">
<g transform="translate(861.16 900.49) scale(1.040) translate(-54.15 0)">
<text>
<tspan x="0" y="-0" style="font-style: oblique; font-size: 15.27px; font-family: 'Liberation Sans'" textLength="9.16" lengthAdjust="spacingAndGlyphs">Å</tspan>
<tspan x="9.57" y="-0" style="font-size: 15.99px; font-family: 'Liberation Serif'" textLength="8.63" lengthAdjust="spacingAndGlyphs">n</tspan>
<tspan x="18.59" y="-0" style="font-size: 15.99px; font-family: 'Liberation Serif'" textLength="8.57" lengthAdjust="spacingAndGlyphs">g</tspan>
<tspan x="27.55" y="-0" style="font-size: 15.99px; font-family: 'Liberation Serif'" textLength="6.87" lengthAdjust="spacingAndGlyphs">s</tspan>
<tspan x="34.74" y="-0" style="font-size: 15.99px; font-family: 'Liberation Serif'" textLength="5.38" lengthAdjust="spacingAndGlyphs">t</tspan>
<tspan x="40.36" y="-0" style="font-size: 15.99px; font-family: 'Liberation Serif'" textLength="6.40" lengthAdjust="spacingAndGlyphs">r</tspan>
<tspan x="47.05" y="-0" style="font-size: 15.99px; font-family: 'Liberation Serif'" textLength="8.06" lengthAdjust="spacingAndGlyphs">ö</tspan>
<tspan x="55.48" y="-0" style="font-size: 15.99px; font-family: 'Liberation Serif'" textLength="12.70" lengthAdjust="spacingAndGlyphs">m</tspan>
<tspan x="68.76" y="-0" style="font-size: 15.99px; font-family: 'Liberation Serif'"> </tspan>
<tspan x="73.21" y="-0" style="font-size: 15.99px; font-family: 'Liberation Serif'" textLength="9.78" lengthAdjust="spacingAndGlyphs">E</tspan>
<tspan x="83.43" y="-0" style="font-size: 15.99px; font-family: 'Liberation Serif'" textLength="7.55" lengthAdjust="spacingAndGlyphs">x</tspan>
<tspan x="91.32" y="-0" style="font-size: 15.99px; font-family: 'Liberation Serif'" textLength="8.57" lengthAdjust="spacingAndGlyphs">p</tspan>
<tspan x="100.29" y="-0" style="font-size: 15.99px; font-family: 'Liberation Serif'">.</tspan>
</text>
</g>
</g>
</g>
<g id="matplotlib.axis_8">
<g id="ytick_25">
<g id="line2d_156">
<path d="M 776.69 862.92 
L 942.22 862.92 
" clip-path="url(#p853f674152)" style="fill: none; stroke: #b0b0b0; stroke-width: 0.8; stroke-linecap: square"/>
</g>
<g id="line2d_157">
<g>
<use href="#m7d13c92054" x="776.69" y="862.92" style="stroke: #000000; stroke-width: 1.5"/>
</g>
</g>
<g id="line2d_158">
<g>
<use href="#m4b7ecec418" x="942.22" y="862.92" style="stroke: #000000; stroke-width: 1.5"/>
</g>
</g>
<g id="text_70">
<text style="font-size: 13.20px; font-family: 'Liberation Serif'; text-anchor: end" x="769.19" y="867.47" transform="rotate(-0 769.19 867.47)" textLength="7.63" lengthAdjust="spacingAndGlyphs">0</text>
</g>
</g>
<g id="ytick_26">
<g id="line2d_159">
<path d="M 776.69 752.32 
L 942.22 752.32 
" clip-path="url(#p853f674152)" style="fill: none; stroke: #b0b0b0; stroke-width: 0.8; stroke-linecap: square"/>
</g>
<g id="line2d_160">
<g>
<use href="#m7d13c92054" x="776.69" y="752.32" style="stroke: #000000; stroke-width: 1.5"/>
</g>
</g>
<g id="line2d_161">
<g>
<use href="#m4b7ecec418" x="942.22" y="752.32" style="stroke: #000000; stroke-width: 1.5"/>
</g>
</g>
<g id="text_71">
<text style="font-size: 13.20px; font-family: 'Liberation Serif'; text-anchor: end" x="769.19" y="756.88" transform="rotate(-0 769.19 756.88)" textLength="7.63" lengthAdjust="spacingAndGlyphs">2</text>
</g>
</g>
<g id="ytick_27">
<g id="line2d_162">
<path d="M 776.69 641.73 
L 942.22 641.73 
" clip-path="url(#p853f674152)" style="fill: none; stroke: #b0b0b0; stroke-width: 0.8; stroke-linecap: square"/>
</g>
<g id="line2d_163">
<g>
<use href="#m7d13c92054" x="776.69" y="641.73" style="stroke: #000000; stroke-width: 1.5"/>
</g>
</g>
<g id="line2d_164">
<g>
<use href="#m4b7ecec418" x="942.22" y="641.73" style="stroke: #000000; stroke-width: 1.5"/>
</g>
</g>
<g id="text_72">
<text style="font-size: 13.20px; font-family: 'Liberation Serif'; text-anchor: end" x="769.19" y="646.29" transform="rotate(-0 769.19 646.29)" textLength="7.63" lengthAdjust="spacingAndGlyphs">4</text>
</g>
</g>
<g id="ytick_28">
<g id="line2d_165">
<path d="M 776.69 531.14 
L 942.22 531.14 
" clip-path="url(#p853f674152)" style="fill: none; stroke: #b0b0b0; stroke-width: 0.8; stroke-linecap: square"/>
</g>
<g id="line2d_166">
<g>
<use href="#m7d13c92054" x="776.69" y="531.14" style="stroke: #000000; stroke-width: 1.5"/>
</g>
</g>
<g id="line2d_167">
<g>
<use href="#m4b7ecec418" x="942.22" y="531.14" style="stroke: #000000; stroke-width: 1.5"/>
</g>
</g>
<g id="text_73">
<text style="font-size: 13.20px; font-family: 'Liberation Serif'; text-anchor: end" x="769.19" y="535.70" transform="rotate(-0 769.19 535.70)" textLength="7.63" lengthAdjust="spacingAndGlyphs">6</text>
</g>
</g>
<g id="ytick_29">
<g id="line2d_168">
<path d="M 776.69 420.55 
L 942.22 420.55 
" clip-path="url(#p853f674152)" style="fill: none; stroke: #b0b0b0; stroke-width: 0.8; stroke-linecap: square"/>
</g>
<g id="line2d_169">
<g>
<use href="#m7d13c92054" x="776.69" y="420.55" style="stroke: #000000; stroke-width: 1.5"/>
</g>
</g>
<g id="line2d_170">
<g>
<use href="#m4b7ecec418" x="942.22" y="420.55" style="stroke: #000000; stroke-width: 1.5"/>
</g>
</g>
<g id="text_74">
<text style="font-size: 13.20px; font-family: 'Liberation Serif'; text-anchor: end" x="769.19" y="425.11" transform="rotate(-0 769.19 425.11)" textLength="7.63" lengthAdjust="spacingAndGlyphs">8</text>
</g>
</g>
<g id="ytick_30">
<g id="line2d_171">
<path d="M 776.69 309.96 
L 942.22 309.96 
" clip-path="url(#p853f674152)" style="fill: none; stroke: #b0b0b0; stroke-width: 0.8; stroke-linecap: square"/>
</g>
<g id="line2d_172">
<g>
<use href="#m7d13c92054" x="776.69" y="309.96" style="stroke: #000000; stroke-width: 1.5"/>
</g>
</g>
<g id="line2d_173">
<g>
<use href="#m4b7ecec418" x="942.22" y="309.96" style="stroke: #000000; stroke-width: 1.5"/>
</g>
</g>
<g id="text_75">
<text style="font-size: 13.20px; font-family: 'Liberation Serif'; text-anchor: end" x="769.19" y="314.51" transform="rotate(-0 769.19 314.51)" textLength="15.27" lengthAdjust="spacingAndGlyphs">10</text>
</g>
</g>
<g id="ytick_31">
<g id="line2d_174">
<path d="M 776.69 199.36 
L 942.22 199.36 
" clip-path="url(#p853f674152)" style="fill: none; stroke: #b0b0b0; stroke-width: 0.8; stroke-linecap: square"/>
</g>
<g id="line2d_175">
<g>
<use href="#m7d13c92054" x="776.69" y="199.36" style="stroke: #000000; stroke-width: 1.5"/>
</g>
</g>
<g id="line2d_176">
<g>
<use href="#m4b7ecec418" x="942.22" y="199.36" style="stroke: #000000; stroke-width: 1.5"/>
</g>
</g>
<g id="text_76">
<text style="font-size: 13.20px; font-family: 'Liberation Serif'; text-anchor: end" x="769.19" y="203.92" transform="rotate(-0 769.19 203.92)" textLength="15.27" lengthAdjust="spacingAndGlyphs">12</text>
</g>
</g>
<g id="ytick_32">
<g id="line2d_177">
<path d="M 776.69 88.77 
L 942.22 88.77 
" clip-path="url(#p853f674152)" style="fill: none; stroke: #b0b0b0; stroke-width: 0.8; stroke-linecap: square"/>
</g>
<g id="line2d_178">
<g>
<use href="#m7d13c92054" x="776.69" y="88.77" style="stroke: #000000; stroke-width: 1.5"/>
</g>
</g>
<g id="line2d_179">
<g>
<use href="#m4b7ecec418" x="942.22" y="88.77" style="stroke: #000000; stroke-width: 1.5"/>
</g>
</g>
<g id="text_77">
<text style="font-size: 13.20px; font-family: 'Liberation Serif'; text-anchor: end" x="769.19" y="93.33" transform="rotate(-0 769.19 93.33)" textLength="15.27" lengthAdjust="spacingAndGlyphs">14</text>
</g>
</g>
</g>
<g id="line2d_180">
<path d="M 818.07 859.04 
L 818.07 813.70 
L 840.71 813.70 
L 840.98 813.15 
L 841.25 812.60 
L 841.53 812.04 
L 841.80 811.49 
L 842.08 810.94 
L 842.35 810.38 
L 842.63 809.83 
L 842.90 809.28 
L 843.18 808.72 
L 843.45 808.17 
L 843.73 807.62 
L 844.01 807.07 
L 844.30 806.51 
L 844.60 805.96 
L 844.91 805.41 
L 845.22 804.85 
L 845.52 804.30 
L 845.81 803.75 
L 846.09 803.20 
L 846.35 802.64 
L 846.59 802.09 
L 846.80 801.54 
L 846.98 800.98 
L 847.16 800.43 
L 847.33 799.88 
L 847.49 799.32 
L 847.64 798.77 
L 847.78 798.22 
L 847.92 797.67 
L 848.05 797.11 
L 848.18 796.56 
L 848.29 796.01 
L 848.40 795.45 
L 848.51 794.90 
L 848.60 794.35 
L 848.69 793.8 
L 848.77 793.24 
L 848.85 792.69 
L 848.92 792.14 
L 848.98 791.58 
L 849.04 791.03 
L 849.10 790.48 
L 849.15 789.92 
L 849.20 789.37 
L 849.25 788.82 
L 849.30 788.27 
L 849.36 787.71 
L 849.41 787.16 
L 849.46 786.61 
L 849.52 786.05 
L 849.59 785.50 
L 849.65 784.95 
L 849.73 784.39 
L 849.81 783.84 
L 849.89 783.29 
L 849.97 782.74 
L 850.05 782.18 
L 850.14 781.63 
L 850.23 781.08 
L 850.34 780.52 
L 850.44 779.97 
L 850.56 779.42 
L 850.70 778.87 
L 850.84 778.31 
L 851 777.76 
L 851.18 777.21 
L 851.40 776.65 
L 851.71 776.10 
L 852.08 775.55 
L 852.51 774.99 
L 852.98 774.44 
L 853.47 773.89 
L 853.98 773.34 
L 854.49 772.78 
L 855.01 772.23 
L 855.55 771.68 
L 856.13 771.12 
L 856.74 770.57 
L 857.39 770.02 
L 858.06 769.46 
L 858.77 768.91 
L 859.51 768.36 
L 860.29 767.81 
L 861.11 767.25 
L 861.94 766.70 
L 862.80 766.15 
L 863.68 765.59 
L 864.60 765.04 
L 865.57 764.49 
L 866.60 763.94 
L 867.70 763.38 
L 868.89 762.83 
L 870.18 762.28 
L 871.57 761.72 
L 873.08 761.17 
L 874.73 760.62 
L 876.72 760.06 
L 879.51 759.51 
L 880.97 759.24 
L 818.07 759.24 
L 818.07 88.77 
" clip-path="url(#p853f674152)" style="fill: none; stroke: #ff00ff; stroke-width: 1.5; stroke-linecap: square"/>
</g>
<g id="line2d_181">
<path d="M 818.07 813.98 
L 776.69 813.98 
L 776.69 813.15 
L 780.56 812.60 
L 784.30 812.04 
L 787.88 811.49 
L 791.27 810.94 
L 794.45 810.38 
L 797.37 809.83 
L 800.01 809.28 
L 802.34 808.72 
L 804.44 808.17 
L 806.39 807.62 
L 808.22 807.07 
L 809.93 806.51 
L 811.53 805.96 
L 813.04 805.41 
L 814.47 804.85 
L 815.83 804.30 
L 817.12 803.75 
L 818.36 803.20 
L 819.55 802.64 
L 820.67 802.09 
L 821.74 801.54 
L 822.75 800.98 
L 823.72 800.43 
L 824.63 799.88 
L 825.51 799.32 
L 826.35 798.77 
L 827.17 798.22 
L 827.99 797.67 
L 828.79 797.11 
L 829.57 796.56 
L 830.30 796.01 
L 830.98 795.45 
L 831.59 794.90 
L 832.12 794.35 
L 832.55 793.8 
L 832.93 793.24 
L 833.29 792.69 
L 833.64 792.14 
L 833.97 791.58 
L 834.28 791.03 
L 834.57 790.48 
L 834.84 789.92 
L 835.08 789.37 
L 835.30 788.82 
L 835.49 788.27 
L 835.64 787.71 
L 835.77 787.16 
L 835.86 786.61 
L 835.94 786.05 
L 836.01 785.50 
L 836.08 784.95 
L 836.14 784.39 
L 836.20 783.84 
L 836.25 783.29 
L 836.30 782.74 
L 836.34 782.18 
L 836.38 781.63 
L 836.41 781.08 
L 836.43 780.52 
L 836.44 779.97 
L 836.44 779.42 
L 836.42 778.87 
L 836.36 778.31 
L 836.25 777.76 
L 836.11 777.21 
L 835.93 776.65 
L 835.73 776.10 
L 835.50 775.55 
L 835.25 774.99 
L 834.99 774.44 
L 834.70 773.89 
L 834.41 773.34 
L 834.10 772.78 
L 833.79 772.23 
L 833.45 771.68 
L 833.04 771.12 
L 832.57 770.57 
L 832.04 770.02 
L 831.46 769.46 
L 830.83 768.91 
L 830.16 768.36 
L 829.46 767.81 
L 828.72 767.25 
L 827.95 766.70 
L 827.16 766.15 
L 826.35 765.59 
L 825.53 765.04 
L 824.70 764.49 
L 823.82 763.94 
L 822.86 763.38 
L 821.81 762.83 
L 820.62 762.28 
L 819.28 761.72 
L 817.75 761.17 
L 816 760.62 
L 813.36 760.06 
L 809.77 759.51 
L 818.07 759.24 
" clip-path="url(#p853f674152)" style="fill: none; stroke: #ffa500; stroke-width: 1.5; stroke-linecap: square"/>
</g>
<g id="patch_22">
<path d="M 776.69 862.92 
L 776.69 88.77 
" style="fill: none; stroke: #000000; stroke-width: 0.8; stroke-linejoin: miter; stroke-linecap: square"/>
</g>
<g id="patch_23">
<path d="M 942.22 862.92 
L 942.22 88.77 
" style="fill: none; stroke: #000000; stroke-width: 0.8; stroke-linejoin: miter; stroke-linecap: square"/>
</g>
<g id="patch_24">
<path d="M 776.69 862.92 
L 942.22 862.92 
" style="fill: none; stroke: #000000; stroke-width: 0.8; stroke-linejoin: miter; stroke-linecap: square"/>
</g>
<g id="patch_25">
<path d="M 776.69 88.77 
L 942.22 88.77 
" style="fill: none; stroke: #000000; stroke-width: 0.8; stroke-linejoin: miter; stroke-linecap: square"/>
</g>
<g id="line2d_182">
<path d="M 818.07 759.24 
L 818.07 88.77 
" clip-path="url(#p853f674152)" style="fill: none; stroke: #000000; stroke-width: 1.5; stroke-linecap: square"/>
</g>
<g id="line2d_183">
<path d="M 818.07 759.24 
L 870.62 759.24 
L 878.28 761.17 
L 883.04 763.38 
L 881.38 768.91 
L 884.28 770.85 
L 900.83 772.78 
L 921.11 777.76 
L 938.08 781.08 
L 944.28 783.84 
" clip-path="url(#p853f674152)" style="fill: none; stroke: #000000; stroke-width: 1.5; stroke-linecap: square"/>
</g>
<g id="line2d_184">
<path d="M 944.28 792.69 
L 925.66 795.45 
L 909.52 798.22 
L 925.66 800.43 
L 944.28 801.54 
" clip-path="url(#p853f674152)" style="fill: none; stroke: #000000; stroke-width: 1.5; stroke-linecap: square"/>
</g>
<g id="line2d_185">
<path d="M 774.62 806.90 
L 797.38 807.62 
L 818.07 808.45 
L 822.21 809.55 
L 823.45 811.49 
L 822.21 813.70 
L 797.38 813.81 
L 774.62 813.81 
" clip-path="url(#p853f674152)" style="fill: none; stroke: #000000; stroke-width: 1.5; stroke-linecap: square"/>
</g>
<g id="line2d_186">
<path d="M 774.62 856.06 
L 818.07 859.60 
L 818.07 862.92 
" clip-path="url(#p853f674152)" style="fill: none; stroke: #000000; stroke-width: 1.5; stroke-linecap: square"/>
</g>
<g id="legend_4">
<g id="patch_26">
<path d="M 740.47 152.32 
L 934.52 152.32 
Q 936.72 152.32 936.72 150.12 
L 936.72 96.47 
Q 936.72 94.27 934.52 94.27 
L 740.47 94.27 
Q 738.27 94.27 738.27 96.47 
L 738.27 150.12 
Q 738.27 152.32 740.47 152.32 
z
" style="fill: #ffffff; opacity: 0.8; stroke: #cccccc; stroke-linejoin: miter"/>
</g>
<g id="line2d_187">
<path d="M 743.77 104.28 
L 754.77 104.28 
L 765.77 104.28 
" style="fill: none; stroke: #ffa500; stroke-width: 1.5; stroke-linecap: square"/>
</g>
<g id="text_78">
<text style="font-size: 12.22px; font-family: 'Liberation Serif'; text-anchor: start" x="774.57" y="108.13" transform="rotate(-0 774.57 108.13)" textLength="145.10" lengthAdjust="spacingAndGlyphs">AE_beta_355_532_Raman</text>
</g>
<g id="line2d_188">
<path d="M 743.77 122.33 
L 754.77 122.33 
L 765.77 122.33 
" style="fill: none; stroke: #ff00ff; stroke-width: 1.5; stroke-linecap: square"/>
</g>
<g id="text_79">
<text style="font-size: 12.22px; font-family: 'Liberation Serif'; text-anchor: start" x="774.57" y="126.18" transform="rotate(-0 774.57 126.18)" textLength="152.17" lengthAdjust="spacingAndGlyphs">AE_beta_532_1064_Raman</text>
</g>
<g id="line2d_189">
<path d="M 743.77 140.37 
L 754.77 140.37 
L 765.77 140.37 
" style="fill: none; stroke: #000000; stroke-width: 1.5; stroke-linecap: square"/>
</g>
<g id="text_80">
<text style="font-size: 12.22px; font-family: 'Liberation Serif'; text-anchor: start" x="774.57" y="144.22" transform="rotate(-0 774.57 144.22)" textLength="158.21" lengthAdjust="spacingAndGlyphs">AE_parExt_355_532_Raman</text>
</g>
</g>
</g>
<g id="axes_5">
<g id="patch_27">
<path d="M 1001.17 862.92 
L 1166.70 862.92 
L 1166.70 88.77 
L 1001.17 88.77 
z
" style="fill: #ffffff"/>
</g>
<g id="line2d_190">
<path d="M 1014.96 818.13 
L 1009.45 796.56 
L 1013.86 771.12 
L 1003.93 757.85 
L 1003.38 755.09 
L 1003.38 642.28 
L 1003.83 641.73 
L 1003.33 640.90 
L 1001.46 640.49 
L 1003.73 640.07 
L 1001.62 639.66 
L 1004.13 639.24 
L 1003.88 638.83 
L 1004.06 638.41 
L 1004.06 638 
L 1003.62 637.58 
L 1002.93 637.17 
L 1003.12 636.75 
L 1004.62 636.34 
L 1002.89 635.92 
L 1003.19 635.51 
L 1002.78 635.10 
L 1003.12 634.27 
L 1003.59 633.85 
L 1003.13 633.44 
L 1003.08 633.02 
L 1002.87 632.61 
L 1003.45 632.19 
L 1002.26 631.78 
L 1004.46 630.95 
L 1002.74 630.53 
L 1003.34 630.12 
L 1005.71 629.70 
L 1002.55 629.29 
L 1002.03 628.87 
L 1003.02 628.46 
L 1004.87 628.05 
L 1005.06 627.63 
L 1002.37 627.22 
L 1003.85 626.80 
L 1002.89 625.97 
L 1001.77 625.56 
L 1004.22 625.14 
L 1002.66 624.73 
L 1003.62 624.31 
L 1003.44 623.90 
L 1004.92 623.48 
L 1004.35 623.07 
L 1002.42 622.65 
L 1003.16 622.24 
L 1004.23 621.82 
L 1002.27 621.41 
L 1003.05 621 
L 1003.56 620.58 
L 1002.04 620.17 
L 1002.35 619.75 
L 1001.97 619.34 
L 1003.61 618.92 
L 1002.91 618.51 
L 1004.15 618.09 
L 1003.47 617.68 
L 1003.85 617.26 
L 1003.31 616.85 
L 1004 616.43 
L 1002.56 615.60 
L 1004.36 615.19 
L 1004.19 614.77 
L 1005.25 614.36 
L 1003.26 613.94 
L 1002.90 613.53 
L 1002.18 613.12 
L 1001.17 612.70 
L 1002.29 612.29 
L 1003.78 611.87 
L 1001.23 611.04 
L 1003.88 610.63 
L 1002.89 610.21 
L 1003.08 609.80 
L 1003.02 609.38 
L 1003.26 608.97 
L 1003.77 608.55 
L 1001.94 608.14 
L 1003.19 607.72 
L 1002.96 607.31 
L 1004.32 606.89 
L 1002.52 606.48 
L 1004.73 606.07 
L 1003.88 605.65 
L 1004.72 605.24 
L 1002.79 604.82 
L 1004.04 604.41 
L 1003.68 603.99 
L 1002.14 603.58 
L 1003.16 603.16 
L 1003 602.75 
L 1002.58 602.33 
L 1002.74 601.92 
L 1002.18 601.50 
L 1003.65 600.67 
L 1002.73 600.26 
L 1002.08 599.84 
L 1004.24 599.43 
L 1003.07 599.01 
L 1003.40 598.60 
L 1002.93 597.77 
L 1003.87 597.36 
L 1002.94 596.94 
L 1003.40 596.53 
L 1002.18 596.11 
L 1002.02 595.70 
L 1003.05 595.28 
L 1004.96 594.87 
L 1003.53 594.45 
L 1004.98 594.04 
L 1003.75 593.62 
L 1003.75 593.21 
L 1002.89 592.79 
L 1003.36 592.38 
L 1004.86 591.96 
L 1004.36 591.55 
L 1002.86 591.14 
L 1002.99 590.72 
L 1004.48 590.31 
L 1002.95 589.89 
L 1004.14 589.48 
L 1002.62 589.06 
L 1003.90 588.65 
L 1004.64 588.23 
L 1003.58 587.40 
L 1003.36 586.16 
L 1004.35 585.74 
L 1004.33 585.33 
L 1003.71 584.91 
L 1002.33 584.50 
L 1003.62 583.67 
L 1003.42 583.26 
L 1002.26 582.84 
L 1005.53 582.01 
L 1002.36 581.60 
L 1004.72 580.77 
L 1003.03 580.35 
L 1003.04 579.94 
L 1003.85 579.11 
L 1003.04 578.69 
L 1004.19 578.28 
L 1001.80 577.86 
L 1003.92 577.45 
L 1003.68 577.03 
L 1003.24 576.62 
L 1003.70 576.21 
L 1003.42 575.79 
L 1004.48 575.38 
L 1002.99 574.96 
L 1003.34 574.55 
L 1002.23 574.13 
L 1002.45 573.72 
L 1003.18 573.30 
L 1002.09 572.89 
L 1002.68 572.47 
L 1002.28 572.06 
L 1004.16 570.81 
L 1001.77 570.40 
L 1003.21 569.98 
L 1004.09 569.57 
L 1004.52 569.16 
L 1004.54 568.74 
L 1002.19 568.33 
L 1003.84 567.50 
L 1004.15 567.08 
L 1003.61 566.67 
L 1003.58 565.84 
L 1002.74 565.42 
L 1004.05 564.59 
L 1003.10 564.18 
L 1004.35 563.76 
L 1001.17 563.35 
L 1004.78 562.52 
L 1004.10 562.10 
L 1004.57 561.69 
L 1002.40 560.86 
L 1002.95 560.45 
L 1004.64 560.03 
L 1001.86 559.62 
L 1002.59 559.20 
L 1001.96 558.79 
L 1002.93 558.37 
L 1003.03 557.96 
L 1003.86 557.54 
L 1002.69 557.13 
L 1004.79 556.71 
L 1002.99 555.88 
L 1002.14 555.05 
L 1005.02 554.23 
L 1003.24 553.81 
L 1002.53 553.40 
L 1003.33 552.98 
L 1002.63 552.15 
L 1001.81 551.74 
L 1004.61 550.91 
L 1004.19 550.08 
L 1003.55 549.66 
L 1003.77 549.25 
L 1004.22 548.83 
L 1003.34 548.42 
L 1003.62 548 
L 1003.05 547.59 
L 1004.32 547.17 
L 1002.62 546.76 
L 1003.95 546.35 
L 1004.09 545.93 
L 1003.97 545.10 
L 1003 544.69 
L 1002.92 544.27 
L 1003.08 543.44 
L 1002.45 543.03 
L 1003.02 542.61 
L 1002.60 541.78 
L 1003.69 541.37 
L 1002.76 540.95 
L 1004.61 540.12 
L 1004.79 539.71 
L 1003.40 539.30 
L 1004.24 538.88 
L 1003.60 538.47 
L 1005.37 538.05 
L 1004.32 537.22 
L 1003.26 536.81 
L 1003.18 536.39 
L 1003.85 535.98 
L 1003.36 535.56 
L 1003.19 535.15 
L 1003.97 534.73 
L 1002.36 534.32 
L 1001.73 533.90 
L 1002.55 533.49 
L 1002.43 533.07 
L 1003.32 532.66 
L 1002.67 532.24 
L 1003.23 531.83 
L 1001.71 531.42 
L 1004.61 531 
L 1002.67 530.17 
L 1004.41 529.34 
L 1004.09 528.93 
L 1003.31 528.51 
L 1003.90 528.10 
L 1004.12 527.68 
L 1002.38 527.27 
L 1002.19 526.85 
L 1002.89 526.44 
L 1004.20 526.02 
L 1004.61 525.61 
L 1003.50 525.19 
L 1004.64 524.78 
L 1004.22 524.37 
L 1003.33 523.95 
L 1002.77 523.54 
L 1002.85 523.12 
L 1003.45 522.71 
L 1004.56 522.29 
L 1004.09 521.88 
L 1002.30 521.46 
L 1002.36 521.05 
L 1004.06 520.63 
L 1003.55 520.22 
L 1002.60 519.80 
L 1003.95 519.39 
L 1004.53 518.97 
L 1003.48 518.14 
L 1004.50 517.73 
L 1003.07 517.32 
L 1002.62 516.49 
L 1004.97 516.07 
L 1005.16 515.66 
L 1003.36 515.24 
L 1003.88 514.83 
L 1003.77 514.41 
L 1004.17 514 
L 1004.39 513.58 
L 1003.96 513.17 
L 1003.32 512.75 
L 1002.54 511.92 
L 1001.22 511.51 
L 1003.31 511.09 
L 1002.70 510.68 
L 1003.42 510.26 
L 1003.31 509.85 
L 1002.54 509.44 
L 1002.98 509.02 
L 1003.74 508.61 
L 1003.53 508.19 
L 1002.66 507.78 
L 1002.77 507.36 
L 1003.87 506.95 
L 1003.59 506.53 
L 1003.65 506.12 
L 1083.36 505.70 
L 1085.28 505.29 
L 1003.47 504.87 
L 1005.49 504.46 
L 1003 504.04 
L 1002.81 503.63 
L 1004.76 503.21 
L 1003.33 502.80 
L 1002.74 502.39 
L 1003.75 501.97 
L 1001.47 501.56 
L 1003.76 501.14 
L 1003.41 500.73 
L 1003.61 500.31 
L 1002.72 499.90 
L 1004.48 499.48 
L 1003.65 499.07 
L 1003.37 498.65 
L 1003.69 498.24 
L 1104.59 497.82 
L 1107.93 497.41 
L 1002.14 496.99 
L 1002.47 496.58 
L 1003.63 496.16 
L 1003.48 495.75 
L 1004 495.33 
L 1002.84 494.92 
L 1003.29 494.51 
L 1002.81 494.09 
L 1003.59 493.68 
L 1004.03 493.26 
L 1004.27 492.85 
L 1003.85 492.43 
L 1002.72 492.02 
L 1003.55 491.60 
L 1002.52 491.19 
L 1001.79 490.77 
L 1003.52 490.36 
L 1003.44 489.94 
L 1003.99 489.53 
L 1004.06 489.11 
L 1002.35 488.70 
L 1002.62 488.28 
L 1003.37 487.87 
L 1003.43 487.46 
L 1003.71 487.04 
L 1002.29 486.63 
L 1004.93 485.38 
L 1002.33 484.97 
L 1004.71 484.55 
L 1003.13 484.14 
L 1002.17 483.72 
L 1004.46 483.31 
L 1002.48 482.89 
L 1002.39 482.48 
L 1003.95 482.06 
L 1004.22 481.65 
L 1002.76 480.82 
L 1002.12 480.40 
L 1003.44 479.99 
L 1001.42 479.58 
L 1002.15 479.16 
L 1004.23 478.75 
L 1003.86 478.33 
L 1004.36 477.92 
L 1003.69 477.50 
L 1002.40 477.09 
L 1003.74 476.67 
L 1001.85 476.26 
L 1003.92 475.84 
L 1004.47 475.43 
L 1002.52 475.01 
L 1004.19 474.60 
L 1003.37 474.18 
L 1003.21 473.77 
L 1001.71 473.35 
L 1003.21 472.94 
L 1004.06 472.53 
L 1222.36 472.11 
L 1249.76 471.70 
L 1002.76 471.28 
L 1001.99 470.87 
L 1004.20 470.45 
L 1003.35 470.04 
L 1003.37 469.62 
L 1004.15 469.21 
L 1002.72 468.79 
L 1006.03 468.38 
L 1002.96 467.96 
L 1002.38 467.55 
L 1086.01 467.13 
L 1089.98 466.72 
L 1002.55 466.30 
L 1002.60 465.89 
L 1004.04 465.48 
L 1003.60 465.06 
L 1003.70 464.65 
L 1004.08 464.23 
L 1002.86 463.82 
L 1004.41 463.40 
L 1003.39 462.99 
L 1003.96 462.57 
L 1002.61 462.16 
L 1003.99 461.74 
L 1003.61 461.33 
L 1005.43 460.91 
L 1003.25 460.50 
L 1004.64 460.08 
L 1003.91 459.67 
L 1004.68 459.25 
L 1003.58 458.84 
L 1003.79 458.42 
L 1001.55 458.01 
L 1002.33 457.60 
L 1004.25 457.18 
L 1003.74 456.77 
L 1075.04 456.35 
L 1072.23 455.94 
L 1004.04 455.52 
L 1003.10 455.11 
L 1003.34 454.69 
L 1004.40 454.28 
L 1004.28 453.86 
L 1003.03 453.45 
L 1003.43 453.03 
L 1003.59 452.62 
L 1003.27 452.20 
L 1003.31 451.79 
L 1002.61 451.37 
L 1241.70 450.96 
L 1249.84 450.55 
L 1002.59 450.13 
L 1004.44 449.72 
L 1004.90 449.30 
L 1004.92 448.89 
L 1003.68 448.47 
L 1002.95 448.06 
L 1004 447.64 
L 1004.67 447.23 
L 1003.49 446.81 
L 1003.06 446.40 
L 1002.01 445.98 
L 1002 445.57 
L 1004.81 445.15 
L 1002.18 444.74 
L 1002.84 444.32 
L 1003.14 443.91 
L 1003.59 443.49 
L 1002.32 443.08 
L 1003.85 442.67 
L 1057.39 442.25 
L 1055.56 441.84 
L 1002.87 441.42 
L 1003.08 441.01 
L 1001.79 440.59 
L 1003.90 440.18 
L 1002.25 439.35 
L 1003.34 438.93 
L 1003.78 438.52 
L 1003.67 438.10 
L 1003.89 437.69 
L 1004.33 437.27 
L 1002.94 436.86 
L 1003.52 436.44 
L 1003.58 436.03 
L 1002.16 435.62 
L 1004.26 435.20 
L 1003.09 434.79 
L 1003.56 434.37 
L 1003.61 433.96 
L 1002.69 433.54 
L 1004.03 433.13 
L 1004.16 432.71 
L 1003.50 432.30 
L 1001.17 431.88 
L 1004.48 431.47 
L 1003.23 431.05 
L 1002.82 430.64 
L 1002.87 430.22 
L 1002.46 429.81 
L 1003.05 429.39 
L 1003.86 428.98 
L 1002.44 428.56 
L 1003.53 428.15 
L 1002.86 427.74 
L 1003.14 427.32 
L 1003.05 426.91 
L 1004.19 426.08 
L 1003.34 425.66 
L 1004.09 425.25 
L 1004.58 424.83 
L 1002.16 424.42 
L 1004 424 
L 1003.11 423.59 
L 1003.20 423.17 
L 1004.16 422.76 
L 1003.16 422.34 
L 1002.84 421.93 
L 1004.40 421.51 
L 1004.23 421.10 
L 1003.71 420.69 
L 1005.70 420.27 
L 1002.56 419.86 
L 1002.03 419.44 
L 1003.19 419.03 
L 1002.43 418.61 
L 1003.68 418.20 
L 1002.89 417.78 
L 1002.88 417.37 
L 1003.38 416.95 
L 1001.79 416.12 
L 1003.96 415.29 
L 1003.57 414.88 
L 1004.77 414.05 
L 1002.76 412.81 
L 1004.70 411.98 
L 1004.55 411.56 
L 1004.15 411.15 
L 1002.71 410.73 
L 1003.86 410.32 
L 1003.96 409.90 
L 1004.39 409.49 
L 1002.33 409.07 
L 1002.80 408.66 
L 1003.49 408.24 
L 1003.48 407.83 
L 1002.87 407.41 
L 1003.79 407 
L 1003.13 406.58 
L 1004.29 406.17 
L 1002.97 405.76 
L 1003.54 405.34 
L 1001.65 404.93 
L 1003.54 404.51 
L 1002.83 404.10 
L 1003.96 403.68 
L 1003.23 403.27 
L 1004.39 402.85 
L 1002.94 402.44 
L 1002.19 402.02 
L 1003.57 401.61 
L 1003.86 401.19 
L 1002.76 400.78 
L 1002.31 400.36 
L 1004 399.95 
L 1004.25 399.53 
L 1003.98 399.12 
L 1003.45 398.71 
L 1003.38 398.29 
L 1004.73 397.88 
L 1004.04 397.46 
L 1002.63 397.05 
L 1002.49 396.63 
L 1003.89 396.22 
L 1003.98 395.80 
L 1002.87 395.39 
L 1002.75 394.97 
L 1004.18 394.56 
L 1003.12 394.14 
L 1004.07 393.73 
L 1002.47 393.31 
L 1060.59 392.90 
L 1058.55 392.48 
L 1003.35 392.07 
L 1003.05 391.65 
L 1002 391.24 
L 1003.51 390.83 
L 1002.94 390.41 
L 1003.20 390 
L 1004.53 389.58 
L 1003.79 388.75 
L 1002.40 387.92 
L 1002.84 387.51 
L 1003.07 387.09 
L 1004.42 386.68 
L 1002.61 386.26 
L 1003.37 385.43 
L 1003.70 385.02 
L 1153.60 384.60 
L 1168.79 384.19 
L 1003.25 383.78 
L 1291.10 383.36 
L 1305.67 382.95 
L 1002.73 382.53 
L 1002.57 382.12 
L 1003.03 381.70 
L 1003.17 381.29 
L 1004.03 380.87 
L 1002.70 380.46 
L 1002.90 380.04 
L 1002.67 379.63 
L 1042.87 379.21 
L 1040.39 378.80 
L 1003.83 378.38 
L 1002.72 377.97 
L 1003.73 377.14 
L 1003.62 376.72 
L 1005.67 376.31 
L 1002.62 375.90 
L 1001.65 375.48 
L 1002.29 375.07 
L 1004.06 374.65 
L 1002.49 374.24 
L 1004.22 373.82 
L 1003.19 373.41 
L 1003.99 372.99 
L 1002.11 372.58 
L 1004.23 372.16 
L 1004.33 371.75 
L 1002.60 371.33 
L 1004.46 370.92 
L 1005.55 370.50 
L 1003.37 370.09 
L 1002.60 369.67 
L 1003.14 368.85 
L 1004.21 368.43 
L 1069.12 368.02 
L 1070.34 367.60 
L 1003.19 367.19 
L 1002.23 366.77 
L 1002.94 366.36 
L 1026.78 365.94 
L 1027.25 365.53 
L 1003.94 365.11 
L 1004.37 364.28 
L 1002.90 363.87 
L 1080.60 363.45 
L 1084.52 363.04 
L 1002.52 362.62 
L 1001.92 362.21 
L 1002.75 361.8 
L 1002.22 361.38 
L 1004.97 360.97 
L 1003.99 360.55 
L 1125.77 360.14 
L 1125.48 359.72 
L 1004.51 359.31 
L 1003.07 358.89 
L 1004.08 358.48 
L 1002.53 358.06 
L 1042.19 357.65 
L 1039.88 357.23 
L 1003.23 356.82 
L 1003.17 356.40 
L 1002.25 355.99 
L 1003.40 355.57 
L 1002.91 355.16 
L 1003.05 354.74 
L 1003.98 354.33 
L 1004.45 353.92 
L 1003.21 353.50 
L 1079.18 353.09 
L 1089.31 352.67 
L 1003.99 352.26 
L 1004.69 351.84 
L 1002.13 351.43 
L 1004.48 351.01 
L 1003.05 350.18 
L 1003.24 349.77 
L 1109.91 349.35 
L 1118.81 348.94 
L 1003.97 348.52 
L 1002.42 348.11 
L 1002.17 347.69 
L 1003.42 347.28 
L 1003.91 346.87 
L 1002.81 346.45 
L 1004.11 346.04 
L 1003.78 345.21 
L 1002.76 344.79 
L 1004.41 344.38 
L 1004.19 343.96 
L 1004.51 343.55 
L 1003.70 343.13 
L 1002.35 342.72 
L 1003.70 342.30 
L 1004.11 341.89 
L 1002.45 341.06 
L 1003.85 340.64 
L 1003.92 340.23 
L 1002.35 339.81 
L 1002.79 339.40 
L 1002.19 338.99 
L 1057.30 338.57 
L 1054.82 338.16 
L 1004.82 337.74 
L 1002.63 337.33 
L 1004.48 336.91 
L 1003.20 336.50 
L 1003.60 336.08 
L 1002.36 335.67 
L 1003.40 335.25 
L 1002.94 334.84 
L 1003.53 334.01 
L 1004.07 333.18 
L 1002.64 332.35 
L 1004.22 331.94 
L 1002.88 331.11 
L 1004.51 330.69 
L 1003.62 330.28 
L 1003.98 329.86 
L 1001.98 329.45 
L 1002.87 329.03 
L 1005.04 328.62 
L 1003.80 328.20 
L 1003.78 327.79 
L 1002.80 327.37 
L 1003.69 326.54 
L 1081.88 326.13 
L 1085.69 325.71 
L 1001.93 325.30 
L 1002.72 324.88 
L 1003 324.47 
L 1003.84 324.06 
L 1003.80 323.64 
L 1002.77 322.81 
L 1002.77 322.40 
L 1003.57 321.98 
L 1002.25 321.57 
L 1003.19 321.15 
L 1003.11 320.74 
L 1003.16 320.32 
L 1004.73 319.91 
L 1003.25 319.49 
L 1004.68 318.66 
L 1003.79 318.25 
L 1003.36 317.83 
L 1002.33 317.42 
L 1004.70 317.01 
L 1002.45 316.59 
L 1001.68 316.18 
L 1004.24 315.76 
L 1002.15 315.35 
L 1002.37 314.93 
L 1002.76 314.52 
L 1002.37 314.10 
L 1001.55 313.69 
L 1003.50 313.27 
L 1003.96 312.44 
L 1003.31 312.03 
L 1003.01 311.61 
L 1002.90 311.20 
L 1004.34 310.78 
L 1004.03 310.37 
L 1002.97 309.96 
L 1003.59 309.54 
L 1002.36 309.13 
L 1003.74 308.71 
L 1002.44 308.30 
L 1003.21 307.88 
L 1003.14 307.47 
L 1284.90 307.05 
L 1310.18 306.64 
L 1003.30 306.22 
L 1002.68 305.81 
L 1284.30 305.39 
L 1315.15 304.98 
L 1003.18 304.56 
L 1003.69 304.15 
L 1003.44 303.73 
L 1003.82 303.32 
L 1003.52 302.90 
L 1002.17 302.49 
L 1002.17 302.08 
L 1296.44 301.66 
L 1328.87 301.25 
L 1003.32 300.83 
L 1002.25 300.42 
L 1002.74 300 
L 1002.66 299.59 
L 1003.87 299.17 
L 1002.66 298.76 
L 1002.21 298.34 
L 1002.67 297.93 
L 1004.62 297.10 
L 1002.92 296.68 
L 1300.92 296.27 
L 1282.33 295.85 
L 1002.98 295.44 
L 1002.63 295.03 
L 1003.98 294.61 
L 1002.94 294.20 
L 1004.11 293.78 
L 1316.47 293.37 
L 1292.05 292.95 
L 1003.52 292.54 
L 1003.39 292.12 
L 1002.37 291.71 
L 1004.41 291.29 
L 1003.60 290.88 
L 1003.42 290.46 
L 1295.36 290.05 
L 1289.24 289.63 
L 1002.94 289.22 
L 1003.65 288.80 
L 1002.71 288.39 
L 1003.25 287.97 
L 1005.22 287.56 
L 1003.27 287.15 
L 1003.14 286.73 
L 1004.11 286.32 
L 1002.57 285.90 
L 1004.52 285.49 
L 1002.42 284.66 
L 1003.26 284.24 
L 1002.81 283.83 
L 1003.94 283.41 
L 1074.09 283 
L 1072.94 282.58 
L 1001.80 282.17 
L 1003.02 281.75 
L 1003.84 281.34 
L 1003.79 280.92 
L 1003.43 280.51 
L 1003.99 280.10 
L 1004.01 279.68 
L 1003.37 279.27 
L 1003.55 278.85 
L 1004.11 278.44 
L 1003.51 278.02 
L 1001.27 277.61 
L 1054.10 277.19 
L 1057.95 276.78 
L 1003.94 276.36 
L 1003.43 275.95 
L 1003.91 275.53 
L 1004.20 275.12 
L 1003.82 274.70 
L 1002.60 274.29 
L 1030.80 273.87 
L 1030.07 273.46 
L 1002.31 273.04 
L 1003 272.63 
L 1001.49 272.22 
L 1004.72 271.80 
L 1005.29 271.39 
L 1003.21 270.97 
L 1003.03 270.56 
L 1001.62 270.14 
L 1003.77 269.73 
L 1002.75 269.31 
L 1002.33 268.90 
L 1002.18 268.48 
L 1003.22 268.07 
L 1003.14 267.65 
L 1003.20 267.24 
L 1109.80 266.82 
L 1119.08 266.41 
L 1004.48 265.99 
L 1003.97 265.58 
L 1002.82 265.17 
L 1002.19 264.75 
L 1002.47 264.34 
L 1003.87 263.92 
L 1003.72 263.51 
L 1087.13 263.09 
L 1079.96 262.68 
L 1002.85 262.26 
L 1004.48 261.85 
L 1002.69 261.02 
L 1003.73 260.60 
L 1003.57 260.19 
L 1002.73 259.77 
L 1004.78 259.36 
L 1001.96 258.94 
L 1003.52 258.53 
L 1003.65 258.12 
L 1002.73 257.70 
L 1003.36 257.29 
L 1004.39 256.87 
L 1002.40 256.46 
L 1002.43 256.04 
L 1004.24 254.80 
L 1003.80 254.38 
L 1321.22 253.97 
L 1313.93 253.55 
L 1003.91 253.14 
L 1004.17 252.72 
L 1001.96 252.31 
L 1001.92 251.89 
L 1002.75 251.48 
L 1002.93 251.06 
L 1003.29 250.65 
L 1002.39 250.24 
L 1002.41 249.82 
L 1003.64 249.41 
L 1001.54 248.99 
L 1003.90 247.75 
L 1003.51 247.33 
L 1004.59 246.92 
L 1003.53 246.50 
L 1003.86 246.09 
L 1312.27 245.67 
L 1290.93 245.26 
L 1002.20 244.84 
L 1003.04 244.43 
L 1003.10 244.01 
L 1002.56 243.60 
L 1003.82 243.19 
L 1002.83 242.77 
L 1317.04 242.36 
L 1320.82 241.94 
L 1002.43 241.53 
L 1003.69 241.11 
L 1001.17 240.70 
L 1001.86 240.28 
L 1320.44 239.87 
L 1300.79 239.45 
L 1003.32 239.04 
L 1004.50 238.62 
L 1003.05 238.21 
L 1002.83 237.79 
L 1003.93 237.38 
L 1002.99 236.96 
L 1004.29 236.13 
L 1003.12 235.72 
L 1003.17 235.31 
L 1002.76 234.89 
L 1003.58 234.48 
L 1003.77 234.06 
L 1004.12 233.65 
L 1003.82 233.23 
L 1004.91 232.82 
L 1003.41 232.40 
L 1003.39 231.99 
L 1003.06 231.57 
L 1004.34 231.16 
L 1003.36 230.74 
L 1003.06 230.33 
L 1002.23 229.91 
L 1004.01 229.08 
L 1001.19 228.67 
L 1002.40 228.26 
L 1002.64 227.43 
L 1003.35 227.01 
L 1003 226.60 
L 1003.42 226.18 
L 1003.55 225.77 
L 1004.42 225.35 
L 1003.12 224.94 
L 1003.61 224.52 
L 1003.14 224.11 
L 1003.46 223.69 
L 1003.05 223.28 
L 1002.39 222.86 
L 1003.65 222.45 
L 1004.22 222.03 
L 1002.57 221.62 
L 1003.31 221.20 
L 1003.31 220.79 
L 1001.60 220.38 
L 1004.92 219.96 
L 1004.53 219.55 
L 1004.15 218.72 
L 1001.33 217.89 
L 1003.28 217.47 
L 1003.40 217.06 
L 1003.11 216.64 
L 1002.97 216.23 
L 1004.14 215.81 
L 1003.97 215.40 
L 1003.32 214.98 
L 1002.92 214.57 
L 1005.19 214.15 
L 1004.01 213.74 
L 1003.42 213.33 
L 1002.27 212.91 
L 1002.07 212.50 
L 1001.17 212.08 
L 1003.12 211.67 
L 1003.57 211.25 
L 1003.19 210.84 
L 1003.53 210.01 
L 1004.01 209.59 
L 1001.88 209.18 
L 1002.31 208.76 
L 1004.06 208.35 
L 1003.56 207.93 
L 1003.74 207.52 
L 1002.51 207.10 
L 1004.57 206.69 
L 1003.43 206.28 
L 1003.15 205.86 
L 1002.61 205.45 
L 1003.50 205.03 
L 1003.48 204.62 
L 1003.25 204.20 
L 1004.67 203.79 
L 1004.32 203.37 
L 1003.34 202.96 
L 1002.88 202.54 
L 1002.99 202.13 
L 1003.63 201.71 
L 1001.17 201.30 
L 1003.61 200.88 
L 1003.18 200.47 
L 1005.11 200.05 
L 1273.13 199.64 
L 1277.75 199.22 
L 1268.05 198.81 
L 1002.86 198.40 
L 1002.80 197.98 
L 1336.41 197.57 
L 1329.73 197.15 
L 1003.38 196.74 
L 1095.28 196.32 
L 1089.98 195.91 
L 1002.78 195.49 
L 1003.95 195.08 
L 1287.13 194.66 
L 1285.17 194.25 
L 1296.29 193.83 
L 1003.19 193.42 
L 1003.51 192.59 
L 1004.30 192.17 
L 1074.68 191.76 
L 1078.77 191.35 
L 1077.33 190.93 
L 1004.13 190.52 
L 1004.90 190.10 
L 1003.34 189.69 
L 1003.87 189.27 
L 1003.54 188.44 
L 1002.54 188.03 
L 1172.78 187.61 
L 1178.38 187.20 
L 1178.27 186.78 
L 1004.82 186.37 
L 1004.34 185.95 
L 1003.65 185.54 
L 1042.70 185.12 
L 1043.17 184.71 
L 1039.67 184.29 
L 1002.41 183.88 
L 1002.33 183.47 
L 1003.72 183.05 
L 1002.32 182.64 
L 1003.89 182.22 
L 1004.24 181.81 
L 1003.96 181.39 
L 1003.31 180.98 
L 1003.75 180.56 
L 1002.41 180.15 
L 1346.07 179.73 
L 1326.23 179.32 
L 1347.67 178.90 
L 1002.10 178.49 
L 1003.34 178.07 
L 1003.12 177.66 
L 1004.14 177.24 
L 1003.62 176.83 
L 1003.31 176.42 
L 1002.87 176 
L 1100.96 175.59 
L 1099.13 175.17 
L 1107.93 174.76 
L 1003.26 174.34 
L 1002.38 173.93 
L 1285.31 173.51 
L 1003.76 173.10 
L 1003.57 172.68 
L 1003.60 172.27 
L 1004.39 171.85 
L 1004.28 171.44 
L 1004.75 171.02 
L 1236.54 170.61 
L 1235.21 170.19 
L 1212.37 169.78 
L 1002.54 169.36 
L 1002.43 168.95 
L 1184.18 168.54 
L 1003.49 168.12 
L 1003.84 167.71 
L 1251.38 167.29 
L 1254.16 166.88 
L 1003.46 166.46 
L 1326.26 166.05 
L 1003.14 165.63 
L 1001.88 165.22 
L 1004.38 164.39 
L 1321.19 163.97 
L 1003.79 163.56 
L 1002.74 163.14 
L 1310.37 162.73 
L 1281.25 162.31 
L 1311.57 161.90 
L 1003.64 161.49 
L 1003.87 161.07 
L 1003.32 160.66 
L 1004.37 160.24 
L 1001.70 159.83 
L 1170.12 159.41 
L 1189.66 159 
L 1191.98 158.58 
L 1003.34 158.17 
L 1208.35 157.75 
L 1215.98 157.34 
L 1234.02 156.92 
L 1003.79 156.51 
L 1006.43 156.09 
L 1003.26 155.68 
L 1003.41 155.26 
L 1001.32 154.85 
L 1003.33 154.44 
L 1002.97 154.02 
L 1276.08 153.61 
L 1003.38 153.19 
L 1095.68 152.78 
L 1101.82 152.36 
L 1003.98 151.95 
L 1002.77 151.53 
L 1088.36 151.12 
L 1087.03 150.70 
L 1092.83 150.29 
L 1002.82 149.87 
L 1001.62 149.46 
L 1003.08 149.04 
L 1001.92 148.63 
L 1005.72 148.21 
L 1004.24 147.80 
L 1281.81 147.38 
L 1003.60 146.97 
L 1004.01 146.14 
L 1003.54 145.73 
L 1002.41 145.31 
L 1092.35 144.90 
L 1002.01 144.48 
L 1003.01 144.07 
L 1003.64 143.65 
L 1169.32 143.24 
L 1003.67 142.82 
L 1002.91 142.41 
L 1271.41 141.99 
L 1003 141.58 
L 1003.72 141.16 
L 1003.83 140.75 
L 1003.43 140.33 
L 1003.58 139.92 
L 1035.18 139.51 
L 1003.43 139.09 
L 1003.47 138.68 
L 1004.39 137.85 
L 1095.94 137.43 
L 1103.38 137.02 
L 1098.41 136.60 
L 1002.57 136.19 
L 1337.29 135.77 
L 1329.75 135.36 
L 1003.18 134.94 
L 1003.42 134.53 
L 1272.64 134.11 
L 1249.06 133.70 
L 1250.74 133.28 
L 1003.02 132.87 
L 1134.30 132.45 
L 1127.04 132.04 
L 1004.02 131.63 
L 1004.41 131.21 
L 1152.12 130.80 
L 1150.07 130.38 
L 1004.52 129.97 
L 1338.71 129.55 
L 1002.48 129.14 
L 1003.29 128.72 
L 1002.64 128.31 
L 1004.21 127.89 
L 1003.55 127.48 
L 1141.25 127.06 
L 1004.85 126.65 
L 1004 126.23 
L 1003.50 125.82 
L 1001.89 125.40 
L 1050.35 124.99 
L 1046.36 124.58 
L 1003.22 124.16 
L 1002.35 123.75 
L 1003.89 123.33 
L 1004.41 122.92 
L 1003.08 122.50 
L 1002.16 122.09 
L 1200.94 121.67 
L 1214.20 121.26 
L 1004.20 120.84 
L 1003.32 120.43 
L 1002.76 120.01 
L 1162.87 119.60 
L 1165.68 119.18 
L 1001.44 118.77 
L 1002.46 118.35 
L 1003.96 117.94 
L 1003.24 117.52 
L 1003.33 117.11 
L 1221.09 116.70 
L 1002.22 116.28 
L 1122.56 115.87 
L 1003.75 115.45 
L 1003.80 115.04 
L 1002.51 114.62 
L 1155.08 114.21 
L 1004.13 113.79 
L 1003.58 113.38 
L 1256.23 112.96 
L 1241.23 112.13 
L 1003.36 111.72 
L 1003.50 111.30 
L 1003.92 110.89 
L 1003.79 110.47 
L 1004.63 110.06 
L 1003.87 109.65 
L 1003.54 109.23 
L 1002.94 108.82 
L 1003.18 108.40 
L 1004.45 107.99 
L 1004.95 107.57 
L 1003.67 107.16 
L 1183.51 106.74 
L 1204.58 106.33 
L 1181.65 105.91 
L 1003.43 105.50 
L 1002.97 105.08 
L 1004.12 104.67 
L 1002.48 104.25 
L 1003.50 103.84 
L 1003.52 103.42 
L 1243.09 103.01 
L 1202.58 102.6 
L 1002.59 102.18 
L 1003.30 101.77 
L 1002.53 101.35 
L 1003.08 100.94 
L 1002.75 100.52 
L 1005.37 100.11 
L 1001.59 99.69 
L 1002.38 99.28 
L 1004.39 98.86 
L 1003.20 98.45 
L 1083.81 98.03 
L 1089.84 97.62 
L 1005.11 97.20 
L 1003.40 96.79 
L 1004.10 96.37 
L 1093.07 95.96 
L 1081.45 95.54 
L 1091.32 95.13 
L 1003.53 94.72 
L 1085.73 94.30 
L 1091.81 93.89 
L 1002.87 93.47 
L 1002.73 93.06 
L 1002.92 92.64 
L 1241.81 92.23 
L 1240.30 91.81 
L 1002.20 91.40 
L 1003.78 90.98 
L 1316.72 90.57 
L 1328.55 90.15 
L 1279.36 89.74 
L 1002.61 89.32 
L 1316.89 88.91 
L 1316.89 88.91 
" clip-path="url(#p81dce7802c)" style="fill: none; stroke: #00ffff; stroke-width: 1.5; stroke-linecap: square"/>
</g>
<g id="matplotlib.axis_9">
<g id="xtick_16">
<g id="line2d_191">
<path d="M 1001.17 862.92 
L 1001.17 88.77 
" clip-path="url(#p81dce7802c)" style="fill: none; stroke: #b0b0b0; stroke-width: 0.8; stroke-linecap: square"/>
</g>
<g id="line2d_192">
<g>
<use href="#mabf18fba1c" x="1001.17" y="862.92" style="stroke: #000000; stroke-width: 1.5"/>
</g>
</g>
<g id="line2d_193">
<g>
<use href="#m81def42b3b" x="1001.17" y="88.77" style="stroke: #000000; stroke-width: 1.5"/>
</g>
</g>
<g id="text_81">
<text style="font-size: 13.20px; font-family: 'Liberation Serif'; text-anchor: middle" x="1001.17" y="878.67"  textLength="19.08" lengthAdjust="spacingAndGlyphs">0.0</text>
</g>
</g>
<g id="xtick_17">
<g id="line2d_194">
<path d="M 1056.35 862.92 
L 1056.35 88.77 
" clip-path="url(#p81dce7802c)" style="fill: none; stroke: #b0b0b0; stroke-width: 0.8; stroke-linecap: square"/>
</g>
<g id="line2d_195">
<g>
<use href="#mabf18fba1c" x="1056.35" y="862.92" style="stroke: #000000; stroke-width: 1.5"/>
</g>
</g>
<g id="line2d_196">
<g>
<use href="#m81def42b3b" x="1056.35" y="88.77" style="stroke: #000000; stroke-width: 1.5"/>
</g>
</g>
<g id="text_82">
<text style="font-size: 13.20px; font-family: 'Liberation Serif'; text-anchor: middle" x="1056.35" y="878.67"  textLength="19.08" lengthAdjust="spacingAndGlyphs">0.2</text>
</g>
</g>
<g id="xtick_18">
<g id="line2d_197">
<path d="M 1111.52 862.92 
L 1111.52 88.77 
" clip-path="url(#p81dce7802c)" style="fill: none; stroke: #b0b0b0; stroke-width: 0.8; stroke-linecap: square"/>
</g>
<g id="line2d_198">
<g>
<use href="#mabf18fba1c" x="1111.52" y="862.92" style="stroke: #000000; stroke-width: 1.5"/>
</g>
</g>
<g id="line2d_199">
<g>
<use href="#m81def42b3b" x="1111.52" y="88.77" style="stroke: #000000; stroke-width: 1.5"/>
</g>
</g>
<g id="text_83">
<text style="font-size: 13.20px; font-family: 'Liberation Serif'; text-anchor: middle" x="1111.52" y="878.67"  textLength="19.08" lengthAdjust="spacingAndGlyphs">0.4</text>
</g>
</g>
<g id="xtick_19">
<g id="line2d_200">
<path d="M 1166.70 862.92 
L 1166.70 88.77 
" clip-path="url(#p81dce7802c)" style="fill: none; stroke: #b0b0b0; stroke-width: 0.8; stroke-linecap: square"/>
</g>
<g id="line2d_201">
<g>
<use href="#mabf18fba1c" x="1166.70" y="862.92" style="stroke: #000000; stroke-width: 1.5"/>
</g>
</g>
<g id="line2d_202">
<g>
<use href="#m81def42b3b" x="1166.70" y="88.77" style="stroke: #000000; stroke-width: 1.5"/>
</g>
</g>
<g id="text_84">
<text style="font-size: 13.20px; font-family: 'Liberation Serif'; text-anchor: middle" x="1166.70" y="878.67"  textLength="19.08" lengthAdjust="spacingAndGlyphs">0.6</text>
</g>
</g>
<g id="text_85">
<text style="font-size: 16.63px; font-family: 'Liberation Serif'; text-anchor: middle" x="1083.93" y="895.23"  textLength="87.20" lengthAdjust="spacingAndGlyphs">Depol. ratio</text>
</g>
</g>
<g id="matplotlib.axis_10">
<g id="ytick_33">
<g id="line2d_203">
<path d="M 1001.17 862.92 
L 1166.70 862.92 
" clip-path="url(#p81dce7802c)" style="fill: none; stroke: #b0b0b0; stroke-width: 0.8; stroke-linecap: square"/>
</g>
<g id="line2d_204">
<g>
<use href="#m7d13c92054" x="1001.17" y="862.92" style="stroke: #000000; stroke-width: 1.5"/>
</g>
</g>
<g id="line2d_205">
<g>
<use href="#m4b7ecec418" x="1166.70" y="862.92" style="stroke: #000000; stroke-width: 1.5"/>
</g>
</g>
<g id="text_86">
<text style="font-size: 13.20px; font-family: 'Liberation Serif'; text-anchor: end" x="993.67" y="867.47" transform="rotate(-0 993.67 867.47)" textLength="7.63" lengthAdjust="spacingAndGlyphs">0</text>
</g>
</g>
<g id="ytick_34">
<g id="line2d_206">
<path d="M 1001.17 752.32 
L 1166.70 752.32 
" clip-path="url(#p81dce7802c)" style="fill: none; stroke: #b0b0b0; stroke-width: 0.8; stroke-linecap: square"/>
</g>
<g id="line2d_207">
<g>
<use href="#m7d13c92054" x="1001.17" y="752.32" style="stroke: #000000; stroke-width: 1.5"/>
</g>
</g>
<g id="line2d_208">
<g>
<use href="#m4b7ecec418" x="1166.70" y="752.32" style="stroke: #000000; stroke-width: 1.5"/>
</g>
</g>
<g id="text_87">
<text style="font-size: 13.20px; font-family: 'Liberation Serif'; text-anchor: end" x="993.67" y="756.88" transform="rotate(-0 993.67 756.88)" textLength="7.63" lengthAdjust="spacingAndGlyphs">2</text>
</g>
</g>
<g id="ytick_35">
<g id="line2d_209">
<path d="M 1001.17 641.73 
L 1166.70 641.73 
" clip-path="url(#p81dce7802c)" style="fill: none; stroke: #b0b0b0; stroke-width: 0.8; stroke-linecap: square"/>
</g>
<g id="line2d_210">
<g>
<use href="#m7d13c92054" x="1001.17" y="641.73" style="stroke: #000000; stroke-width: 1.5"/>
</g>
</g>
<g id="line2d_211">
<g>
<use href="#m4b7ecec418" x="1166.70" y="641.73" style="stroke: #000000; stroke-width: 1.5"/>
</g>
</g>
<g id="text_88">
<text style="font-size: 13.20px; font-family: 'Liberation Serif'; text-anchor: end" x="993.67" y="646.29" transform="rotate(-0 993.67 646.29)" textLength="7.63" lengthAdjust="spacingAndGlyphs">4</text>
</g>
</g>
<g id="ytick_36">
<g id="line2d_212">
<path d="M 1001.17 531.14 
L 1166.70 531.14 
" clip-path="url(#p81dce7802c)" style="fill: none; stroke: #b0b0b0; stroke-width: 0.8; stroke-linecap: square"/>
</g>
<g id="line2d_213">
<g>
<use href="#m7d13c92054" x="1001.17" y="531.14" style="stroke: #000000; stroke-width: 1.5"/>
</g>
</g>
<g id="line2d_214">
<g>
<use href="#m4b7ecec418" x="1166.70" y="531.14" style="stroke: #000000; stroke-width: 1.5"/>
</g>
</g>
<g id="text_89">
<text style="font-size: 13.20px; font-family: 'Liberation Serif'; text-anchor: end" x="993.67" y="535.70" transform="rotate(-0 993.67 535.70)" textLength="7.63" lengthAdjust="spacingAndGlyphs">6</text>
</g>
</g>
<g id="ytick_37">
<g id="line2d_215">
<path d="M 1001.17 420.55 
L 1166.70 420.55 
" clip-path="url(#p81dce7802c)" style="fill: none; stroke: #b0b0b0; stroke-width: 0.8; stroke-linecap: square"/>
</g>
<g id="line2d_216">
<g>
<use href="#m7d13c92054" x="1001.17" y="420.55" style="stroke: #000000; stroke-width: 1.5"/>
</g>
</g>
<g id="line2d_217">
<g>
<use href="#m4b7ecec418" x="1166.70" y="420.55" style="stroke: #000000; stroke-width: 1.5"/>
</g>
</g>
<g id="text_90">
<text style="font-size: 13.20px; font-family: 'Liberation Serif'; text-anchor: end" x="993.67" y="425.11" transform="rotate(-0 993.67 425.11)" textLength="7.63" lengthAdjust="spacingAndGlyphs">8</text>
</g>
</g>
<g id="ytick_38">
<g id="line2d_218">
<path d="M 1001.17 309.96 
L 1166.70 309.96 
" clip-path="url(#p81dce7802c)" style="fill: none; stroke: #b0b0b0; stroke-width: 0.8; stroke-linecap: square"/>
</g>
<g id="line2d_219">
<g>
<use href="#m7d13c92054" x="1001.17" y="309.96" style="stroke: #000000; stroke-width: 1.5"/>
</g>
</g>
<g id="line2d_220">
<g>
<use href="#m4b7ecec418" x="1166.70" y="309.96" style="stroke: #000000; stroke-width: 1.5"/>
</g>
</g>
<g id="text_91">
<text style="font-size: 13.20px; font-family: 'Liberation Serif'; text-anchor: end" x="993.67" y="314.51" transform="rotate(-0 993.67 314.51)" textLength="15.27" lengthAdjust="spacingAndGlyphs">10</text>
</g>
</g>
<g id="ytick_39">
<g id="line2d_221">
<path d="M 1001.17 199.36 
L 1166.70 199.36 
" clip-path="url(#p81dce7802c)" style="fill: none; stroke: #b0b0b0; stroke-width: 0.8; stroke-linecap: square"/>
</g>
<g id="line2d_222">
<g>
<use href="#m7d13c92054" x="1001.17" y="199.36" style="stroke: #000000; stroke-width: 1.5"/>
</g>
</g>
<g id="line2d_223">
<g>
<use href="#m4b7ecec418" x="1166.70" y="199.36" style="stroke: #000000; stroke-width: 1.5"/>
</g>
</g>
<g id="text_92">
<text style="font-size: 13.20px; font-family: 'Liberation Serif'; text-anchor: end" x="993.67" y="203.92" transform="rotate(-0 993.67 203.92)" textLength="15.27" lengthAdjust="spacingAndGlyphs">12</text>
</g>
</g>
<g id="ytick_40">
<g id="line2d_224">
<path d="M 1001.17 88.77 
L 1166.70 88.77 
" clip-path="url(#p81dce7802c)" style="fill: none; stroke: #b0b0b0; stroke-width: 0.8; stroke-linecap: square"/>
</g>
<g id="line2d_225">
<g>
<use href="#m7d13c92054" x="1001.17" y="88.77" style="stroke: #000000; stroke-width: 1.5"/>
</g>
</g>
<g id="line2d_226">
<g>
<use href="#m4b7ecec418" x="1166.70" y="88.77" style="stroke: #000000; stroke-width: 1.5"/>
</g>
</g>
<g id="text_93">
<text style="font-size: 13.20px; font-family: 'Liberation Serif'; text-anchor: end" x="993.67" y="93.33" transform="rotate(-0 993.67 93.33)" textLength="15.27" lengthAdjust="spacingAndGlyphs">14</text>
</g>
</g>
</g>
<g id="line2d_227">
<path d="M 1004.20 862.92 
L 1004.20 823.10 
L 1006.69 822 
L 1054.41 822 
" clip-path="url(#p81dce7802c)" style="fill: none; stroke: #00ffff; stroke-width: 1.5; stroke-linecap: square"/>
</g>
<g id="line2d_228">
<path d="M 1010.77 818.13 
L 1011.76 817.71 
L 1011.92 817.30 
L 1009.33 816.88 
L 1011.98 816.05 
L 1011 815.64 
L 1010.72 815.22 
L 1012.62 814.81 
L 1009.47 814.39 
L 1010.44 813.98 
L 1009.54 813.56 
L 1012.24 813.15 
L 1007.42 812.73 
L 1009.12 812.32 
L 1009.25 811.90 
L 1010.83 811.49 
L 1010.69 811.08 
L 1011.72 810.66 
L 1007.57 810.25 
L 1010.72 809.83 
L 1009.23 809.42 
L 1008.66 809 
L 1010.28 808.59 
L 1006.59 807.76 
L 1008.91 807.34 
L 1007.32 806.93 
L 1009.83 806.10 
L 1009.72 805.68 
L 1011.44 805.27 
L 1007.07 804.44 
L 1008.11 804.02 
L 1007.85 803.61 
L 1007.40 803.20 
L 1009.65 802.78 
L 1006.26 801.95 
L 1009.92 801.54 
L 1008.77 801.12 
L 1009.39 800.71 
L 1009.01 800.29 
L 1009.71 799.88 
L 1008.86 799.46 
L 1010.48 799.05 
L 1009.33 798.63 
L 1009.26 797.80 
L 1006.65 797.39 
L 1008.41 796.97 
L 1008.25 796.56 
L 1008.87 796.15 
L 1006.68 795.73 
L 1010.79 795.32 
L 1006.81 794.49 
L 1006.10 794.07 
L 1008.05 793.66 
L 1008.29 793.24 
L 1007.40 792.83 
L 1008.50 792.41 
L 1007.47 792 
L 1009.09 791.58 
L 1007.31 791.17 
L 1008.24 790.75 
L 1009.63 790.34 
L 1011.81 789.92 
L 1006.85 789.51 
L 1007.58 789.09 
L 1007.05 788.68 
L 1009.28 788.27 
L 1006.60 787.85 
L 1007.50 787.44 
L 1008.12 787.02 
L 1006.79 786.61 
L 1006.81 786.19 
L 1007.47 785.78 
L 1005.22 785.36 
L 1006.11 784.95 
L 1007.53 784.53 
L 1008.30 784.12 
L 1007.83 783.70 
L 1005.63 783.29 
L 1009.17 782.46 
L 1008.84 782.04 
L 1006.84 781.22 
L 1008.97 780.80 
L 1007.50 780.39 
L 1007.02 779.97 
L 1008 779.56 
L 1011.70 779.14 
L 1010.71 778.73 
L 1012.80 778.31 
L 1011.42 777.90 
L 1014.33 777.48 
L 1013.20 777.07 
L 1014.86 776.65 
L 1019.57 776.24 
L 1018.28 775.82 
L 1017.62 775.41 
L 1020.87 774.58 
L 1023.09 774.16 
L 1021.69 773.75 
L 1020.84 773.34 
L 1023.75 772.92 
L 1026.36 772.09 
L 1029.15 771.68 
L 1028.92 771.26 
L 1030.75 770.85 
L 1029.24 770.43 
L 1033.03 770.02 
L 1035.73 769.60 
L 1034.81 769.19 
L 1034.87 768.77 
L 1035.37 768.36 
L 1038.08 767.94 
L 1034.60 767.53 
L 1035.76 767.11 
L 1036.35 766.70 
L 1036.32 766.29 
L 1034.09 765.87 
L 1034.36 765.46 
L 1032.69 765.04 
L 1032.28 764.63 
L 1030.92 764.21 
L 1028.49 763.80 
L 1029.02 763.38 
L 1029.28 762.97 
L 1025.83 762.55 
L 1026.04 762.14 
L 1026.63 761.72 
L 1023.75 761.31 
L 1025.20 760.89 
L 1023.44 760.48 
L 1026.54 760.06 
L 1028.32 759.65 
L 1028.14 759.24 
L 1025.33 758.82 
L 1026.97 758.41 
L 1026.48 757.99 
L 1026.84 757.58 
L 1029.24 757.16 
L 1025.69 756.75 
L 1029.36 756.33 
L 1028.22 755.92 
L 1030.58 755.50 
L 1029.21 755.09 
L 1028.28 754.67 
L 1029.79 754.26 
L 1030.56 753.84 
L 1029.63 753.43 
L 1030.23 753.01 
L 1028.76 752.60 
L 1026.41 752.18 
L 1030.42 751.77 
L 1029.94 751.36 
L 1028.93 750.94 
L 1028.55 750.53 
L 1029.58 750.11 
L 1027.20 749.70 
L 1026.52 749.28 
L 1026.87 748.87 
L 1028.41 748.45 
L 1024.49 748.04 
L 1027.67 747.62 
L 1024.78 747.21 
L 1023.78 746.79 
L 1026.68 746.38 
L 1022.50 745.55 
L 1023.50 745.13 
L 1025.02 744.72 
L 1025.15 744.31 
L 1022.72 743.89 
L 1023.71 743.48 
L 1024.02 743.06 
L 1022.09 742.65 
L 1023.45 742.23 
L 1022.24 741.40 
L 1022.31 740.99 
L 1023.10 740.57 
L 1023.07 740.16 
L 1022.27 739.74 
L 1022.49 739.33 
L 1024.65 738.91 
L 1023.45 738.50 
L 1024.41 738.08 
L 1024.90 737.67 
L 1024.10 737.25 
L 1026.47 736.84 
L 1022.26 736.43 
L 1024.58 736.01 
L 1023.09 735.60 
L 1026.15 735.18 
L 1026.01 734.77 
L 1021.05 734.35 
L 1022.48 733.94 
L 1024.82 733.52 
L 1025.08 733.11 
L 1025.10 732.69 
L 1024.08 732.28 
L 1024.90 731.86 
L 1025.27 731.45 
L 1024.36 731.03 
L 1026 730.62 
L 1021.57 730.20 
L 1025.67 729.79 
L 1023.49 729.38 
L 1026.36 728.96 
L 1024.84 728.55 
L 1024.05 728.13 
L 1025.92 727.72 
L 1024.28 727.30 
L 1024.41 726.89 
L 1023.64 726.47 
L 1025.91 726.06 
L 1027.64 725.23 
L 1026.18 724.81 
L 1027.97 724.40 
L 1026.70 723.98 
L 1026.70 723.57 
L 1028.77 722.74 
L 1027.19 722.32 
L 1028.33 721.50 
L 1029.18 721.08 
L 1028.37 720.67 
L 1031.60 720.25 
L 1030.21 719.84 
L 1031.99 719.42 
L 1030.79 719.01 
L 1032.98 718.59 
L 1033.56 718.18 
L 1032.93 717.76 
L 1036.74 717.35 
L 1034.85 716.93 
L 1037.11 716.52 
L 1036.22 716.10 
L 1034.14 715.69 
L 1034.58 715.27 
L 1035.69 714.86 
L 1035.11 714.45 
L 1035.01 714.03 
L 1034.42 713.62 
L 1032.16 713.20 
L 1034.16 712.79 
L 1031.19 712.37 
L 1034.52 711.96 
L 1032.73 711.54 
L 1032.45 711.13 
L 1033.15 710.30 
L 1030.43 709.88 
L 1029.62 709.47 
L 1030.16 709.05 
L 1028.40 708.64 
L 1029.45 708.22 
L 1032.53 707.81 
L 1028.43 707.4 
L 1030.32 706.98 
L 1027.05 706.57 
L 1028.88 706.15 
L 1027.54 705.74 
L 1027.40 705.32 
L 1027.78 704.91 
L 1028.92 704.49 
L 1026.27 704.08 
L 1025.68 703.66 
L 1023.67 703.25 
L 1025.34 702.83 
L 1023.71 702.42 
L 1024.73 702 
L 1023.06 701.59 
L 1025.04 701.17 
L 1019.33 700.76 
L 1021 700.34 
L 1021.92 699.93 
L 1019.49 699.52 
L 1018.13 699.10 
L 1018.12 698.69 
L 1015.87 698.27 
L 1017.30 697.86 
L 1019.93 697.44 
L 1017.68 697.03 
L 1014.22 696.61 
L 1014.35 696.20 
L 1014.98 695.78 
L 1017.23 695.37 
L 1015.36 694.95 
L 1016.48 694.54 
L 1019.86 694.12 
L 1021.26 693.71 
L 1021.15 693.29 
L 1021.88 692.88 
L 1023.13 692.47 
L 1026.22 692.05 
L 1026.05 691.64 
L 1032.09 691.22 
L 1032.07 690.81 
L 1038.96 689.98 
L 1039.49 689.56 
L 1037.56 689.15 
L 1041.39 688.73 
L 1042.53 688.32 
L 1040.33 687.90 
L 1040.09 687.49 
L 1040.60 687.07 
L 1037.22 686.66 
L 1039.63 686.24 
L 1032.07 685.83 
L 1031.41 685.41 
L 1030.02 685 
L 1027.58 684.59 
L 1021.81 683.34 
L 1022.78 682.93 
L 1018.08 682.51 
L 1021.03 682.10 
L 1020.05 681.68 
L 1021.23 681.27 
L 1021.36 680.85 
L 1019.80 680.44 
L 1020.19 680.02 
L 1022.18 679.61 
L 1021.58 679.19 
L 1020.18 678.78 
L 1023.95 678.36 
L 1024.34 677.95 
L 1019.16 677.54 
L 1024.69 676.71 
L 1022.34 676.29 
L 1021.03 675.46 
L 1020.60 675.05 
L 1021.09 674.63 
L 1020.65 674.22 
L 1022.48 673.80 
L 1020.94 673.39 
L 1020.92 672.97 
L 1019.91 672.56 
L 1021.54 672.14 
L 1020.42 671.73 
L 1021.45 671.31 
L 1023.18 670.90 
L 1022.30 670.48 
L 1022.54 670.07 
L 1022.38 669.66 
L 1022.02 669.24 
L 1021.62 668.41 
L 1023.15 668 
L 1020.66 667.58 
L 1024.10 667.17 
L 1022.43 666.75 
L 1021.53 666.34 
L 1022.10 665.92 
L 1022.10 665.51 
L 1023.53 665.09 
L 1022.64 664.68 
L 1025.55 664.26 
L 1021.60 663.43 
L 1024.15 663.02 
L 1022.82 662.61 
L 1025.99 662.19 
L 1027.97 661.78 
L 1027.88 661.36 
L 1025.63 660.95 
L 1026.92 660.53 
L 1030.93 660.12 
L 1029.41 659.70 
L 1029.48 659.29 
L 1033.86 658.46 
L 1031.64 657.63 
L 1033.22 656.80 
L 1031.96 656.38 
L 1031.77 655.97 
L 1033.70 655.56 
L 1032.69 655.14 
L 1034.27 654.73 
L 1034.80 654.31 
L 1038.19 653.90 
L 1034.04 653.48 
L 1035.27 653.07 
L 1035.39 652.65 
L 1037.31 651.82 
L 1035.24 651.41 
L 1034.78 650.99 
L 1033.39 650.58 
L 1033.83 650.16 
L 1035.07 649.75 
L 1033.41 649.33 
L 1030.79 648.92 
L 1030.40 648.50 
L 1028.83 647.68 
L 1025.88 647.26 
L 1024.95 646.85 
L 1021.45 646.43 
L 1021.13 646.02 
L 1023.85 645.60 
L 1017.68 645.19 
L 1019.52 644.77 
L 1019.84 644.36 
L 1018.86 643.94 
L 1018.34 643.53 
L 1019.60 643.11 
L 1020.44 642.28 
L 1018.57 641.87 
L 1021.67 641.45 
L 1021.49 641.04 
L 1022.79 640.63 
L 1026.37 639.80 
L 1027.76 639.38 
L 1026.90 638.97 
L 1029.95 638.55 
L 1031.38 638.14 
L 1032.40 637.72 
L 1033.81 637.31 
L 1032.71 636.89 
L 1033.66 636.48 
L 1035.96 636.06 
L 1033.79 635.65 
L 1036.73 635.23 
L 1036.39 634.82 
L 1037.19 634.40 
L 1035.75 633.99 
L 1039.91 632.75 
L 1040.01 632.33 
L 1038.44 631.92 
L 1038.14 631.50 
L 1037.06 631.09 
L 1038.51 630.67 
L 1037.32 630.26 
L 1038.14 629.84 
L 1039.31 629.43 
L 1033.86 628.60 
L 1034.18 628.18 
L 1032.73 627.77 
L 1032.42 627.35 
L 1035.15 626.94 
L 1032.88 626.52 
L 1029.64 626.11 
L 1031.75 625.70 
L 1031.65 625.28 
L 1028.82 625.14 
L 1031.59 624.73 
L 1031.54 624.31 
L 1028.39 623.90 
L 1029.01 623.48 
L 1028.77 623.07 
L 1031.10 622.65 
L 1030.10 622.24 
L 1031.86 621.82 
L 1027.05 621.41 
L 1033.85 621 
L 1030.85 620.58 
L 1117.58 620.17 
L 1116.75 619.75 
L 1030.92 619.34 
L 1032.76 618.92 
L 1033.66 618.51 
L 1031.88 618.09 
L 1032.19 617.68 
L 1034.01 617.26 
L 1169.04 616.85 
L 1179.87 616.43 
L 1034.07 616.02 
L 1030.01 615.19 
L 1032.36 614.77 
L 1033.23 614.36 
L 1312.78 613.94 
L 1298.49 613.53 
L 1032.17 613.12 
L 1032.90 612.70 
L 1029.79 612.29 
L 1027.87 611.87 
L 1029.12 611.46 
L 1028.83 611.04 
L 1025.94 610.63 
L 1088.65 610.21 
L 1078 609.80 
L 1023.32 609.38 
L 1021.22 608.97 
L 1022.53 608.55 
L 1021.41 608.14 
L 1022.12 607.72 
L 1086.51 607.31 
L 1089.30 606.89 
L 1015.59 606.48 
L 1012.93 606.07 
L 1015.59 605.65 
L 1015.43 605.24 
L 1012.05 604.82 
L 1015.23 604.41 
L 1013.21 603.99 
L 1011.90 603.58 
L 1070.33 603.16 
L 1072.57 602.75 
L 1006.87 602.33 
L 1010.63 601.92 
L 1010.61 601.50 
L 1006.03 601.09 
L 1010.12 600.67 
L 1008.96 600.26 
L 1010.96 599.84 
L 1008.60 599.43 
L 1009.41 599.01 
L 1121.93 598.60 
L 1130.01 598.19 
L 1010.60 597.77 
L 1009.24 597.36 
L 1010.40 596.94 
L 1008.44 596.53 
L 1011.54 596.11 
L 1010.61 595.70 
L 1009.10 595.28 
L 1287.54 594.87 
L 1302.24 594.45 
L 1012.90 594.04 
L 1006.41 593.62 
L 1011.15 593.21 
L 1010.34 592.79 
L 1009.26 592.38 
L 1007.50 591.96 
L 1011.87 591.55 
L 1007.01 591.14 
L 1010.54 590.72 
L 1011.96 590.31 
L 1006.36 589.89 
L 1008.86 589.48 
L 1006.92 589.06 
L 1012.37 588.23 
L 1106.63 587.82 
L 1120.27 587.40 
L 1008.34 586.99 
L 1010.80 586.57 
L 1012.50 586.16 
L 1008 585.33 
L 1010.02 584.91 
L 1009.41 584.50 
L 1009.05 584.08 
L 1008.03 583.67 
L 1309.30 583.26 
L 1312.15 582.84 
L 1009.27 582.43 
L 1009.02 582.01 
L 1316.64 581.60 
L 1312.46 581.18 
L 1011.78 580.77 
L 1006.67 579.94 
L 1012.02 579.52 
L 1010.47 579.11 
L 1290.37 578.69 
L 1310.73 578.28 
L 1103.71 577.86 
L 1105.66 577.45 
L 1012 577.03 
L 1014.41 576.62 
L 1007.86 576.21 
L 1315.15 575.79 
L 1286.39 575.38 
L 1007.84 574.96 
L 1008.92 574.55 
L 1175.42 574.13 
L 1170.98 573.72 
L 1011.56 573.30 
L 1009.49 572.89 
L 1011.22 572.47 
L 1008.63 572.06 
L 1010.08 571.64 
L 1005.32 571.23 
L 1006.65 570.81 
L 1010.98 570.40 
L 1008.31 569.98 
L 1010.89 569.57 
L 1011.30 569.16 
L 1013.29 568.74 
L 1012.78 568.33 
L 1013.66 567.91 
L 1011.97 567.50 
L 1011.32 567.08 
L 1011.73 566.67 
L 1012.69 566.25 
L 1011.93 565.84 
L 1014.90 565.01 
L 1016.05 564.59 
L 1015.39 564.18 
L 1012.81 563.76 
L 1016.87 563.35 
L 1017.93 562.93 
L 1020.07 562.52 
L 1019.57 562.10 
L 1017.70 561.69 
L 1018.03 561.28 
L 1023.79 560.86 
L 1021.85 560.45 
L 1024.41 560.03 
L 1025.47 559.62 
L 1020.26 559.20 
L 1023.06 558.79 
L 1024.82 557.54 
L 1024.64 557.13 
L 1025.07 556.71 
L 1022.32 556.30 
L 1025.38 555.88 
L 1024.74 555.47 
L 1026.91 555.05 
L 1026.25 554.64 
L 1028.83 554.23 
L 1029.70 553.81 
L 1029.19 553.40 
L 1029.04 552.98 
L 1294.93 552.57 
L 1280.75 552.15 
L 1026.62 551.74 
L 1025.48 551.32 
L 1026.69 550.91 
L 1025.47 550.49 
L 1026.07 550.08 
L 1021.89 549.66 
L 1302.79 549.25 
L 1321.52 548.83 
L 1021.55 548.42 
L 1022.09 548 
L 1020.88 547.59 
L 1022.04 547.17 
L 1304.46 546.76 
L 1310.60 546.35 
L 1018.35 545.93 
L 1093.16 545.52 
L 1103.37 545.10 
L 1016.24 544.69 
L 1018.01 544.27 
L 1014.50 543.86 
L 1020.46 543.44 
L 1013.56 543.03 
L 1016.94 542.61 
L 1016.56 542.20 
L 1012.22 541.78 
L 1015.10 541.37 
L 1015.95 540.95 
L 1014.43 540.54 
L 1013.54 540.12 
L 1014.37 539.71 
L 1012.82 539.30 
L 1014.07 538.88 
L 1029.94 538.47 
L 1030.51 538.05 
L 1014.33 537.64 
L 1018.59 537.22 
L 1016.99 536.81 
L 1016.77 536.39 
L 1023.97 535.56 
L 1023.47 535.15 
L 1021.53 534.73 
L 1024.78 534.32 
L 1023.47 533.90 
L 1026.34 533.07 
L 1165.84 532.66 
L 1169.88 532.24 
L 1026.91 531.83 
L 1028.46 531.42 
L 1027.87 531 
L 1028.70 530.59 
L 1030.72 530.17 
L 1035.04 529.76 
L 1037.58 529.34 
L 1035.22 528.93 
L 1038.29 528.51 
L 1036.58 528.10 
L 1034.31 527.68 
L 1085.31 527.27 
L 1078.04 526.85 
L 1039.90 526.44 
L 1042.22 526.02 
L 1038.45 525.61 
L 1039.15 525.19 
L 1038.62 524.78 
L 1040.51 524.37 
L 1081.11 523.95 
L 1078.84 523.54 
L 1041.23 523.12 
L 1042.12 522.71 
L 1037.44 522.29 
L 1039.06 521.88 
L 1038.99 521.46 
L 1038.01 521.05 
L 1038.12 520.63 
L 1210.32 520.22 
L 1217.56 519.80 
L 1325.97 519.39 
L 1324.86 518.97 
L 1032.21 518.56 
L 1034.04 518.14 
L 1034.77 517.73 
L 1030.17 516.90 
L 1033.70 516.49 
L 1027.76 516.07 
L 1030.61 515.66 
L 1207.27 515.24 
L 1193.37 514.83 
L 1030.38 514.41 
L 1028.16 514 
L 1024.70 513.58 
L 1027.57 513.17 
L 1025.04 512.75 
L 1021.66 512.34 
L 1023.47 511.92 
L 1024.77 511.51 
L 1147.85 511.09 
L 1138.51 510.68 
L 1022.73 510.26 
L 1023.02 509.85 
L 1295.79 509.44 
L 1293.98 509.02 
L 1020.78 508.61 
L 1020.52 508.19 
L 1302.85 507.78 
L 1288.80 507.36 
L 1016.97 506.95 
L 1020.76 506.53 
L 1017.91 506.12 
L 1016.18 505.70 
L 1016.85 505.29 
L 1014.72 504.87 
L 1015.65 504.46 
L 1013.29 504.04 
L 1288.85 503.63 
L 1321.71 503.21 
L 1015.53 502.80 
L 1011.43 502.39 
L 1008.83 501.97 
L 1010.92 501.56 
L 1010.09 501.14 
L 1320.31 500.73 
L 1291.08 500.31 
L 1009.97 499.90 
L 1015.66 499.48 
L 1005.65 499.07 
L 1008.24 498.65 
L 1006.45 498.24 
L 1007.06 497.82 
L 1003.19 497.41 
L 1294.40 496.99 
L 1302.90 496.58 
L 1006.61 496.16 
L 1009.84 495.75 
L 1005.33 495.33 
L 1007.02 494.92 
L 1012.31 494.51 
L 1294.54 494.09 
L 1312.05 493.68 
L 1006.62 493.26 
L 1006.60 492.85 
L 1008.32 492.43 
L 1005.23 491.60 
L 1320.23 491.19 
L 1314.78 490.77 
L 1009.14 490.36 
L 1001.31 489.94 
L 1006.41 489.53 
L 1005 489.11 
L 1007.89 488.70 
L 1006.35 488.28 
L 1010.42 487.87 
L 1008.49 487.46 
L 1008.41 487.04 
L 1007.05 486.63 
L 1074.99 486.21 
L 1071.02 485.80 
L 1009.19 485.38 
L 1006.01 484.55 
L 1009.15 484.14 
L 1007.06 483.72 
L 1006.54 483.31 
L 1005.16 482.89 
L 1005.59 482.48 
L 1005.46 482.06 
L 1001.29 481.65 
L 1008.65 481.23 
L 1007.78 480.82 
L 1327.37 480.40 
L 1317.99 479.99 
L 1007.53 479.58 
L 1007.40 479.16 
L 1001.91 478.75 
L 1006.24 478.33 
L 1007.71 477.92 
L 1009.80 477.50 
L 1010.24 477.09 
L 1009.44 476.67 
L 1004.44 476.26 
L 1002.44 475.84 
L 1007.79 475.43 
L 1006.74 475.01 
L 1008.55 474.60 
L 1006.44 474.18 
L 1007.11 473.77 
L 1003.79 473.35 
L 1007.55 472.94 
L 1005.83 472.53 
L 1007.36 472.11 
L 1007.57 471.70 
L 1006.46 471.28 
L 1007.30 470.87 
L 1006.66 470.45 
L 1008.15 470.04 
L 1007.66 469.62 
L 1005.63 469.21 
L 1005.55 468.79 
L 1010.05 468.38 
L 1006.49 467.96 
L 1008.60 467.55 
L 1007.45 467.13 
L 1005.60 466.72 
L 1080.93 466.30 
L 1079.51 465.89 
L 1007.18 465.48 
L 1007.87 465.06 
L 1281.72 464.65 
L 1281.78 464.23 
L 1006.50 463.82 
L 1009.78 463.40 
L 1002.13 462.99 
L 1324.46 462.57 
L 1282.92 462.16 
L 1007.52 461.74 
L 1005.74 461.33 
L 1155.46 460.91 
L 1167.70 460.50 
L 1007.37 460.08 
L 1007.52 459.67 
L 1007.41 459.25 
L 1005.24 458.84 
L 1007.74 458.42 
L 1006.28 458.01 
L 1064.96 457.60 
L 1067.56 457.18 
L 1006.25 456.77 
L 1008.14 456.35 
L 1006.60 455.94 
L 1005.66 455.52 
L 1009.50 455.11 
L 1060.06 454.69 
L 1057.38 454.28 
L 1007.86 453.86 
L 1006.61 453.45 
L 1006.22 453.03 
L 1006.70 452.62 
L 1075.52 452.20 
L 1068.02 451.79 
L 1005 451.37 
L 1007.99 450.96 
L 1005.54 450.55 
L 1008.80 450.13 
L 1006.36 449.72 
L 1006.45 449.30 
L 1009.33 448.89 
L 1009.16 448.47 
L 1006.31 448.06 
L 1295.83 447.64 
L 1292.59 447.23 
L 1007.27 446.81 
L 1013.86 446.40 
L 1009.22 445.98 
L 1009.80 445.57 
L 1010.62 445.15 
L 1008.38 444.74 
L 1013.89 444.32 
L 1012.54 443.91 
L 1010.34 443.49 
L 1011.46 443.08 
L 1009.28 442.67 
L 1014.43 441.84 
L 1009.51 441.42 
L 1012.19 441.01 
L 1013.52 440.59 
L 1015.47 440.18 
L 1016.26 439.76 
L 1012.98 439.35 
L 1012.64 438.93 
L 1015.14 438.52 
L 1013.78 438.10 
L 1014.09 437.69 
L 1016.98 437.27 
L 1018.36 436.86 
L 1015.82 436.44 
L 1065.52 436.03 
L 1071.09 435.62 
L 1012.28 435.20 
L 1016.10 434.79 
L 1014.29 434.37 
L 1021.16 433.96 
L 1018.15 433.54 
L 1103.94 433.13 
L 1090.15 432.71 
L 1012.52 432.30 
L 1018.96 431.88 
L 1020.71 431.47 
L 1015.69 431.05 
L 1078.87 430.64 
L 1084.79 430.22 
L 1012.72 429.81 
L 1017.05 429.39 
L 1017.39 428.98 
L 1014.75 428.56 
L 1013.72 428.15 
L 1014.90 427.74 
L 1009.94 427.32 
L 1012.63 426.91 
L 1014.02 426.49 
L 1009.12 426.08 
L 1012.97 425.66 
L 1006.10 424.83 
L 1009.45 424.42 
L 1007.31 424 
L 1009.34 423.59 
L 1005.99 423.17 
L 1009.82 422.76 
L 1005.90 422.34 
L 1007.55 421.93 
L 1005.25 421.51 
L 1005.30 421.10 
L 1007.76 420.69 
L 1005.72 420.27 
L 1004.54 419.86 
L 1002.89 419.44 
L 1007.55 419.03 
L 1006.72 418.61 
L 1004.68 418.20 
L 1005.78 417.78 
L 1003.32 417.37 
L 1003.35 416.95 
L 1003.71 416.54 
L 1005.99 416.12 
L 1005.88 415.71 
L 1003.87 415.29 
L 1006.73 414.88 
L 1006.82 414.46 
L 1301.54 414.05 
L 1302.05 413.64 
L 1004.75 413.22 
L 1005.09 412.81 
L 1006.22 412.39 
L 1005.24 411.98 
L 1291.47 411.56 
L 1303.84 411.15 
L 1008.06 410.73 
L 1003.80 410.32 
L 1004.99 409.90 
L 1002.65 409.49 
L 1311.74 409.07 
L 1294.68 408.66 
L 1007.38 408.24 
L 1006.92 407.83 
L 1002.30 407.41 
L 1003.80 407 
L 1004.41 406.58 
L 1315.61 406.17 
L 1285.93 405.76 
L 1005.66 405.34 
L 1005.26 404.93 
L 1281.62 404.51 
L 1292.48 404.10 
L 1003.55 403.68 
L 1003.61 403.27 
L 1006.27 402.85 
L 1005.97 402.44 
L 1006.42 402.02 
L 1212.17 401.61 
L 1290.30 401.19 
L 1004.23 400.78 
L 1005.59 400.36 
L 1002.70 399.95 
L 1004.28 399.53 
L 1007.27 399.12 
L 1007.44 398.71 
L 1007.39 398.29 
L 1005.39 397.88 
L 1004.90 397.46 
L 1007.39 397.05 
L 1004.59 396.63 
L 1005.96 396.22 
L 1007.87 395.80 
L 1004.60 395.39 
L 1004.13 394.97 
L 1006.46 394.14 
L 1006.24 393.73 
L 1005.61 393.31 
L 1006.38 392.90 
L 1002.22 392.48 
L 1003.65 392.07 
L 1005.62 391.65 
L 1003.51 391.24 
L 1296.01 390.83 
L 1292.87 390.41 
L 1003.53 390 
L 1004.96 389.58 
L 1003.33 389.17 
L 1008.58 388.34 
L 1005.02 387.92 
L 1318.91 387.51 
L 1328.71 387.09 
L 1003.15 386.68 
L 1289.97 386.26 
L 1308.90 385.85 
L 1006.79 385.43 
L 1003.08 385.02 
L 1007.86 384.60 
L 1006.42 384.19 
L 1001.40 383.78 
L 1006.82 383.36 
L 1008.31 382.95 
L 1003.78 382.53 
L 1007.21 382.12 
L 1001.83 381.70 
L 1005.79 381.29 
L 1002.10 380.87 
L 1006.24 380.46 
L 1001.85 380.04 
L 1001.17 379.63 
L 1006.07 379.21 
L 1147.66 378.80 
L 1145.33 378.38 
L 1006.91 377.97 
L 1005.52 377.55 
L 1004.68 377.14 
L 1008.48 376.31 
L 1002.92 375.90 
L 1006.40 375.48 
L 1085.40 375.07 
L 1081.96 374.65 
L 1008.43 374.24 
L 1009.07 373.82 
L 1003.47 373.41 
L 1292.53 372.99 
L 1301.99 372.58 
L 1004.99 372.16 
L 1289 371.75 
L 1314.89 371.33 
L 1123.60 370.92 
L 1008.24 370.50 
L 1007.80 370.09 
L 1007.03 369.67 
L 1046.94 369.26 
L 1039.46 368.85 
L 1007.48 368.43 
L 1003.52 368.02 
L 1005.59 367.60 
L 1003.23 367.19 
L 1004.95 366.77 
L 1002.84 366.36 
L 1008.46 365.94 
L 1003.34 365.53 
L 1005.07 365.11 
L 1004.94 364.70 
L 1007.64 364.28 
L 1002.57 363.87 
L 1005.24 363.45 
L 1004.90 363.04 
L 1006.33 362.62 
L 1006.22 362.21 
L 1004.41 361.8 
L 1005.77 361.38 
L 1004.58 360.97 
L 1006.21 360.55 
L 1004.04 359.72 
L 1005.25 359.31 
L 1006.01 358.89 
L 1143 358.48 
L 1135.09 358.06 
L 1147.28 357.65 
L 1008.13 357.23 
L 1001.29 356.82 
L 1001.94 356.40 
L 1003.01 355.99 
L 1005.09 355.57 
L 1010.02 355.16 
L 1006.06 354.74 
L 1100.92 354.33 
L 1103.25 353.92 
L 1116.64 353.50 
L 1001.17 353.09 
L 1007.27 352.67 
L 1005.66 352.26 
L 1002.80 351.84 
L 1082.56 351.43 
L 1079.31 351.01 
L 1007.50 350.60 
L 1008.11 350.18 
L 1003.83 349.77 
L 1003.17 349.35 
L 1006.94 348.94 
L 1003.19 348.52 
L 1006.97 348.11 
L 1003 347.69 
L 1006.87 347.28 
L 1004.47 346.45 
L 1178.85 346.04 
L 1159.68 345.62 
L 1001.65 345.21 
L 1004.77 344.79 
L 1219.75 344.38 
L 1206.87 343.96 
L 1002.89 343.55 
L 1008.62 343.13 
L 1036.54 342.72 
L 1003.11 342.30 
L 1007.98 341.89 
L 1008.52 341.47 
L 1004.94 341.06 
L 1003.59 340.64 
L 1005.34 340.23 
L 1003.97 339.81 
L 1076.66 339.40 
L 1008.32 338.99 
L 1006.06 338.57 
L 1005.59 338.16 
L 1005.98 337.74 
L 1005.20 337.33 
L 1144.55 336.91 
L 1133.21 336.50 
L 1004.59 336.08 
L 1005.51 335.67 
L 1009.97 335.25 
L 1322.14 334.84 
L 1319.50 334.42 
L 1005.33 333.59 
L 1003.19 333.18 
L 1006.61 332.76 
L 1003.57 332.35 
L 1004.35 331.94 
L 1303.40 331.52 
L 1299.77 331.11 
L 1003.83 330.69 
L 1004.24 330.28 
L 1004.16 329.86 
L 1007.56 329.45 
L 1003.92 329.03 
L 1004.20 328.62 
L 1009.24 328.20 
L 1300.72 327.79 
L 1296.76 327.37 
L 1007.85 326.96 
L 1002.57 326.13 
L 1006.18 325.71 
L 1007.18 324.88 
L 1005.45 324.47 
L 1007.63 324.06 
L 1007.99 323.64 
L 1003.27 323.23 
L 1281.68 322.81 
L 1323.92 322.40 
L 1004.22 321.98 
L 1004.69 321.57 
L 1008.93 321.15 
L 1092.63 320.74 
L 1084.22 320.32 
L 1005.47 319.91 
L 1005.04 319.49 
L 1004.97 319.08 
L 1004.32 318.66 
L 1002.50 318.25 
L 1006.97 317.83 
L 1003.49 317.42 
L 1004.59 317.01 
L 1004.14 316.59 
L 1003.90 316.18 
L 1006.74 315.76 
L 1006.05 315.35 
L 1004.01 314.93 
L 1295.20 314.52 
L 1327.04 314.10 
L 1007.18 313.69 
L 1005.55 313.27 
L 1324.74 312.86 
L 1316.12 312.44 
L 1004.81 312.03 
L 1005.73 311.61 
L 1001.75 311.20 
L 1008.42 310.78 
L 1319 310.37 
L 1317.76 309.96 
L 1007.89 309.54 
L 1005.74 309.13 
L 1005.39 308.71 
L 1004.18 308.30 
L 1002.29 307.88 
L 1005.66 307.47 
L 1007.62 307.05 
L 1003.57 306.64 
L 1007.94 306.22 
L 1003.13 305.81 
L 1003.89 305.39 
L 1006.28 304.98 
L 1005.31 304.56 
L 1006.64 304.15 
L 1003.88 303.73 
L 1003.32 303.32 
L 1001.70 302.90 
L 1002.98 302.49 
L 1003.23 302.08 
L 1002.55 301.66 
L 1005.90 301.25 
L 1004.03 300.83 
L 1001.47 300.42 
L 1010.10 300 
L 1003.70 299.59 
L 1002.88 299.17 
L 1007.70 298.76 
L 1007.56 298.34 
L 1003.08 297.93 
L 1002.46 297.51 
L 1003.38 297.10 
L 1007.49 296.68 
L 1004.71 296.27 
L 1003.75 295.85 
L 1005.25 295.44 
L 1007.63 295.03 
L 1002.62 294.61 
L 1004.57 294.20 
L 1002.64 293.78 
L 1009.50 293.37 
L 1008.82 292.95 
L 1005.05 292.12 
L 1006.58 291.71 
L 1001.25 291.29 
L 1005.84 290.88 
L 1002.73 290.46 
L 1002.75 290.05 
L 1003.95 289.63 
L 1004.63 289.22 
L 1006.42 288.80 
L 1006.66 288.39 
L 1005.81 287.97 
L 1003.48 287.56 
L 1006.61 287.15 
L 1005.07 286.73 
L 1007.59 286.32 
L 1003.54 285.90 
L 1001.17 285.49 
L 1004.39 285.07 
L 1009.46 284.66 
L 1006.21 284.24 
L 1004.93 283.83 
L 1007.01 283.41 
L 1006.28 283 
L 1006.20 282.58 
L 1004.32 282.17 
L 1005.45 281.75 
L 1136.51 281.34 
L 1147.98 280.92 
L 1003.15 280.51 
L 1005.58 280.10 
L 1007.18 279.68 
L 1006.56 279.27 
L 1006.26 278.85 
L 1006.28 278.44 
L 1010.30 278.02 
L 1005.81 277.61 
L 1009.09 276.78 
L 1005.41 276.36 
L 1005.82 275.95 
L 1148.74 275.53 
L 1137.52 275.12 
L 1005.91 274.70 
L 1006.01 274.29 
L 1005.48 273.87 
L 1002.98 273.46 
L 1302.03 273.04 
L 1291.47 272.63 
L 1001.99 272.22 
L 1005.03 271.80 
L 1001.97 271.39 
L 1003.37 270.97 
L 1005.35 270.56 
L 1003.54 270.14 
L 1007.38 269.73 
L 1002.48 269.31 
L 1005.83 268.90 
L 1006.40 268.48 
L 1008.14 268.07 
L 1005.77 267.24 
L 1005.21 266.41 
L 1007.52 265.99 
L 1004.06 265.58 
L 1006.33 265.17 
L 1292.73 264.75 
L 1293.95 264.34 
L 1004.82 263.92 
L 1009.45 263.51 
L 1004.06 263.09 
L 1005.82 262.68 
L 1005.86 262.26 
L 1006.50 261.85 
L 1047.52 261.43 
L 1047.75 261.02 
L 1007.23 260.60 
L 1002.42 260.19 
L 1005.35 259.77 
L 1002.95 259.36 
L 1005.78 258.94 
L 1060.77 258.53 
L 1063.17 258.12 
L 1005.21 257.70 
L 1008.03 257.29 
L 1006.45 256.87 
L 1005.90 256.46 
L 1008.04 256.04 
L 1057.98 255.63 
L 1060.66 255.21 
L 1004.51 254.80 
L 1004.80 254.38 
L 1007.72 253.97 
L 1009.46 253.55 
L 1002.77 253.14 
L 1010.12 252.72 
L 1006.95 251.89 
L 1006.04 251.48 
L 1010.02 251.06 
L 1005.49 250.65 
L 1004.42 250.24 
L 1005.60 249.82 
L 1002.69 249.41 
L 1006.25 248.99 
L 1005.12 248.58 
L 1005.97 248.16 
L 1006.03 247.75 
L 1301.82 247.33 
L 1317.23 246.92 
L 1003.38 246.50 
L 1007.05 246.09 
L 1002.26 245.67 
L 1319.41 245.26 
L 1301.74 244.84 
L 1005.42 244.43 
L 1004.08 244.01 
L 1001.17 243.60 
L 1005.47 242.77 
L 1006.54 242.36 
L 1002.50 241.94 
L 1001.23 241.53 
L 1003.65 241.11 
L 1004.93 240.70 
L 1004.11 240.28 
L 1003.77 239.87 
L 1006.98 239.45 
L 1007.20 239.04 
L 1006.77 238.62 
L 1003.53 238.21 
L 1005.48 237.79 
L 1004.96 237.38 
L 1002.58 236.96 
L 1007.04 236.55 
L 1005.51 236.13 
L 1004.40 235.72 
L 1301.75 235.31 
L 1287.48 234.89 
L 1006.99 234.48 
L 1007.65 234.06 
L 1006.72 233.65 
L 1312.08 233.23 
L 1315.90 232.82 
L 1007.27 232.40 
L 1003.85 231.99 
L 1302.46 231.57 
L 1313.07 231.16 
L 1008.12 230.74 
L 1007.84 230.33 
L 1007.07 229.91 
L 1004.98 229.50 
L 1007.10 229.08 
L 1293.11 228.67 
L 1320.81 228.26 
L 1007.96 227.84 
L 1006.29 227.43 
L 1003.87 227.01 
L 1007.78 226.60 
L 1004.84 226.18 
L 1327.93 225.77 
L 1326.31 225.35 
L 1005.29 224.94 
L 1003.50 224.52 
L 1003.45 224.11 
L 1001.64 223.69 
L 1009.47 223.28 
L 1005.04 222.86 
L 1302.56 222.45 
L 1281.77 222.03 
L 1005.09 221.62 
L 1006.32 221.20 
L 1002.70 220.79 
L 1005.71 220.38 
L 1004.53 219.96 
L 1006.29 219.55 
L 1005.68 219.13 
L 1286.03 218.72 
L 1311.35 218.30 
L 1003.36 217.89 
L 1006.75 217.47 
L 1006.15 217.06 
L 1089.33 216.64 
L 1082.71 216.23 
L 1001.17 215.81 
L 1004.12 215.40 
L 1004.68 214.98 
L 1004.16 214.57 
L 1006 214.15 
L 1004.99 213.74 
L 1003.03 213.33 
L 1003.62 212.91 
L 1291.20 212.50 
L 1290.09 212.08 
L 1005.17 211.67 
L 1009.69 211.25 
L 1004.81 210.84 
L 1005.55 210.42 
L 1003.39 210.01 
L 1004.62 209.59 
L 1292 209.18 
L 1286.60 208.76 
L 1005.01 208.35 
L 1006.07 207.93 
L 1005.42 207.52 
L 1001.68 207.10 
L 1001.17 206.69 
L 1009.77 206.28 
L 1006.91 205.86 
L 1005.20 205.45 
L 1001.95 205.03 
L 1002.84 204.62 
L 1007.93 204.20 
L 1001.17 203.79 
L 1004.68 203.37 
L 1006.98 202.96 
L 1005.58 202.54 
L 1006.77 202.13 
L 1005.05 201.71 
L 1009.93 201.30 
L 1003.32 200.88 
L 1002.68 200.47 
L 1005.84 200.05 
L 1008.07 199.64 
L 1005.20 199.22 
L 1007.33 198.81 
L 1004.28 198.40 
L 1003.02 197.98 
L 1008.01 197.57 
L 1008.34 197.15 
L 1008.27 196.74 
L 1083.38 196.32 
L 1086.53 195.91 
L 1003.05 195.49 
L 1006.43 194.66 
L 1006.29 194.25 
L 1002.54 193.83 
L 1005.68 193.42 
L 1005.34 193 
L 1005.48 192.59 
L 1004.92 191.76 
L 1006.45 191.35 
L 1005.55 190.93 
L 1005.74 190.52 
L 1003.97 190.10 
L 1006.07 189.69 
L 1298.50 189.27 
L 1294.61 188.86 
L 1276.55 188.44 
L 1004.80 188.03 
L 1007.10 187.61 
L 1004.99 187.20 
L 1005.12 186.78 
L 1005.72 186.37 
L 1005.28 185.95 
L 1004.44 185.54 
L 1001.84 185.12 
L 1008.87 184.71 
L 1002.26 184.29 
L 1006.57 183.47 
L 1006.04 183.05 
L 1006.79 182.22 
L 1007.75 181.81 
L 1005.88 181.39 
L 1010.92 180.98 
L 1003.35 180.56 
L 1005.75 180.15 
L 1004.61 179.73 
L 1004.25 179.32 
L 1005.86 178.90 
L 1008.12 178.49 
L 1003.94 178.07 
L 1003.93 177.66 
L 1006.71 177.24 
L 1006.36 176.83 
L 1009.09 176.42 
L 1005.75 175.59 
L 1004.67 175.17 
L 1005.72 174.76 
L 1004.97 174.34 
L 1002.67 173.93 
L 1005.32 173.51 
L 1004.97 173.10 
L 1004.86 172.68 
L 1004.48 172.27 
L 1008.57 171.85 
L 1006.65 171.44 
L 1007.12 171.02 
L 1004.13 170.61 
L 1003.33 170.19 
L 1004.76 169.78 
L 1071.70 169.36 
L 1079.33 168.95 
L 1004.94 168.54 
L 1007.16 168.12 
L 1005.89 167.71 
L 1003.41 167.29 
L 1004.48 166.88 
L 1139.18 166.46 
L 1005.66 166.05 
L 1003.05 165.63 
L 1006.65 164.80 
L 1005.36 164.39 
L 1003.54 163.97 
L 1004.12 163.56 
L 1005.55 163.14 
L 1006.92 162.31 
L 1002.76 161.49 
L 1008.06 161.07 
L 1005.88 160.66 
L 1006.09 160.24 
L 1005.90 159.83 
L 1003.30 159.41 
L 1007.30 158.17 
L 1005.42 157.75 
L 1001.17 157.34 
L 1004.84 156.92 
L 1005.99 156.51 
L 1007.81 156.09 
L 1006.68 155.68 
L 1010.12 155.26 
L 1008.06 154.85 
L 1007.91 154.44 
L 1007.13 154.02 
L 1002.64 153.61 
L 1006.94 153.19 
L 1006.47 152.78 
L 1004.29 152.36 
L 1006.44 151.95 
L 1006.11 151.53 
L 1004.41 151.12 
L 1005.07 150.70 
L 1004.80 150.29 
L 1005.75 149.87 
L 1004.49 149.46 
L 1006.36 149.04 
L 1001.60 148.63 
L 1330.45 148.21 
L 1002.05 147.80 
L 1006.31 146.97 
L 1005.35 146.56 
L 1005.09 146.14 
L 1005.44 145.73 
L 1008.34 145.31 
L 1003.17 144.90 
L 1007.02 144.48 
L 1002.39 144.07 
L 1004.40 143.65 
L 1005.62 143.24 
L 1003.66 142.82 
L 1005.70 142.41 
L 1006.71 141.99 
L 1003 141.58 
L 1005.16 141.16 
L 1004.58 140.75 
L 1001.56 140.33 
L 1004.95 139.92 
L 1003.77 139.51 
L 1007.89 139.09 
L 1003.62 138.68 
L 1008.59 138.26 
L 1004.28 137.85 
L 1009.05 137.43 
L 1006.35 137.02 
L 1006.18 136.60 
L 1006.86 136.19 
L 1007.05 135.77 
L 1008.02 135.36 
L 1071.66 134.94 
L 1070.59 134.53 
L 1066.75 134.11 
L 1001.17 133.70 
L 1004.56 133.28 
L 1006.78 132.87 
L 1006.04 132.45 
L 1005.53 132.04 
L 1004.63 131.63 
L 1004.07 131.21 
L 1004.76 130.80 
L 1006.06 130.38 
L 1001.90 129.97 
L 1006.72 129.55 
L 1155.45 129.14 
L 1149.96 128.72 
L 1004.08 128.31 
L 1004.59 127.89 
L 1003.28 127.48 
L 1003.08 127.06 
L 1004.86 126.65 
L 1003.21 126.23 
L 1010.05 125.82 
L 1004.49 125.40 
L 1004.03 124.99 
L 1004.23 124.58 
L 1003.23 124.16 
L 1001.17 123.75 
L 1144.66 123.33 
L 1005.89 122.92 
L 1002.39 122.50 
L 1005.30 122.09 
L 1002.96 121.67 
L 1005.22 121.26 
L 1005.99 120.84 
L 1006.23 120.43 
L 1006.13 120.01 
L 1003.93 119.60 
L 1006.99 119.18 
L 1004.43 118.77 
L 1005.97 118.35 
L 1153.93 117.94 
L 1136.50 117.52 
L 1002.81 117.11 
L 1006.48 116.70 
L 1003.13 116.28 
L 1003.57 115.87 
L 1003.16 115.45 
L 1006.92 115.04 
L 1004.98 114.62 
L 1001.17 114.21 
L 1006.71 113.79 
L 1060.74 113.38 
L 1056.73 112.96 
L 1065.31 112.55 
L 1005.44 112.13 
L 1007.01 111.30 
L 1005.36 110.89 
L 1003.17 110.47 
L 1006.75 110.06 
L 1006.48 109.65 
L 1002.72 109.23 
L 1004.58 108.82 
L 1122.58 108.40 
L 1134.31 107.99 
L 1006.30 107.57 
L 1006.82 107.16 
L 1102.73 106.74 
L 1109.57 106.33 
L 1093.06 105.91 
L 1006.47 105.50 
L 1009.10 104.67 
L 1005.22 104.25 
L 1005.22 103.84 
L 1008.08 103.42 
L 1008.06 103.01 
L 1005.94 102.6 
L 1006.66 102.18 
L 1003.81 101.77 
L 1006.41 101.35 
L 1003.69 100.94 
L 1005 100.52 
L 1005.04 100.11 
L 1004.38 99.69 
L 1001.20 99.28 
L 1005.92 98.45 
L 1004.52 97.62 
L 1006.11 97.20 
L 1006.61 96.79 
L 1006.92 96.37 
L 1003.72 95.96 
L 1005.32 95.54 
L 1004.63 95.13 
L 1002.39 94.30 
L 1005.09 93.89 
L 1003.59 93.47 
L 1009.43 93.06 
L 1005.09 92.64 
L 1004.51 91.81 
L 1008.90 91.40 
L 1003.46 90.98 
L 1004.96 90.57 
L 1003.79 90.15 
L 1005.03 89.74 
L 1290.18 89.32 
L 1321.80 88.91 
L 1321.80 88.91 
" clip-path="url(#p81dce7802c)" style="fill: none; stroke: #fa8072; stroke-width: 1.5; stroke-linecap: square"/>
</g>
<g id="line2d_229">
<path d="M 1009.80 818.13 
L 1009.59 817.71 
L 1009.75 817.30 
L 1010.06 816.88 
L 1010.50 815.64 
L 1010.46 815.22 
L 1010.53 814.81 
L 1010.12 814.39 
L 1008.89 813.98 
L 1009.64 813.56 
L 1009.87 813.15 
L 1009.47 812.73 
L 1010.16 812.32 
L 1009.45 811.90 
L 1009.12 811.49 
L 1010.41 811.08 
L 1009.97 810.66 
L 1009.71 810.25 
L 1010.09 809.83 
L 1010.15 809.42 
L 1009.74 809 
L 1008.19 808.59 
L 1009.16 808.17 
L 1009.27 807.76 
L 1008.97 807.34 
L 1010.16 806.51 
L 1009.23 806.10 
L 1008.86 805.68 
L 1010.60 805.27 
L 1009.23 804.85 
L 1008.79 804.44 
L 1009.60 804.02 
L 1009.70 803.61 
L 1009.07 803.20 
L 1009.90 802.78 
L 1009.19 802.37 
L 1008.95 801.95 
L 1009.55 801.54 
L 1009.88 801.12 
L 1009.10 800.71 
L 1009.63 800.29 
L 1009.40 799.88 
L 1011.01 799.46 
L 1009.06 799.05 
L 1010.21 798.63 
L 1009.42 798.22 
L 1009.38 797.80 
L 1009.84 797.39 
L 1010.14 796.56 
L 1009.12 795.73 
L 1009.16 795.32 
L 1009.75 794.90 
L 1009.80 794.49 
L 1010.26 794.07 
L 1009.73 793.66 
L 1010.38 792.83 
L 1008.77 792 
L 1008.97 791.58 
L 1008.85 791.17 
L 1010.56 790.75 
L 1009.25 790.34 
L 1010.43 789.92 
L 1010.11 789.51 
L 1010.78 789.09 
L 1010.43 788.68 
L 1009.87 788.27 
L 1009.87 787.85 
L 1010.18 787.02 
L 1009.85 786.61 
L 1010.19 786.19 
L 1011.16 785.78 
L 1009.39 785.36 
L 1010.55 784.95 
L 1009.97 784.53 
L 1010.65 784.12 
L 1011.09 783.70 
L 1010.67 783.29 
L 1011.22 782.87 
L 1010 782.46 
L 1011.57 782.04 
L 1010.72 781.63 
L 1011.49 781.22 
L 1011.34 780.80 
L 1009.92 780.39 
L 1011.03 779.97 
L 1012.52 779.14 
L 1011.93 778.73 
L 1012.03 778.31 
L 1011.22 777.90 
L 1012.91 777.48 
L 1013.25 777.07 
L 1012.55 776.65 
L 1012.85 776.24 
L 1012.66 775.82 
L 1016.55 774.99 
L 1016.33 774.58 
L 1017.57 774.16 
L 1018.15 773.75 
L 1018.29 773.34 
L 1020.56 772.92 
L 1020.09 772.51 
L 1022.67 771.68 
L 1023.74 771.26 
L 1024.59 770.43 
L 1024.30 770.02 
L 1024.17 769.60 
L 1024.89 769.19 
L 1023.04 767.94 
L 1022.80 767.53 
L 1021.27 767.11 
L 1020.65 766.70 
L 1019.52 766.29 
L 1019.46 765.87 
L 1018.47 765.46 
L 1018.19 765.04 
L 1015.07 764.63 
L 1014.31 764.21 
L 1013.98 763.80 
L 1012.17 763.38 
L 1010.95 762.97 
L 1010.96 762.55 
L 1008.77 762.14 
L 1007.34 761.72 
L 1006.36 761.31 
L 1006.49 760.89 
L 1005.81 760.48 
L 1004.35 760.06 
L 1004.19 759.65 
L 1004.82 759.24 
L 1004.80 758.82 
L 1004.13 758.41 
L 1004.84 757.99 
L 1004.83 757.58 
L 1003.55 757.16 
L 1004.39 756.75 
L 1004.83 756.33 
L 1004.32 755.92 
L 1003.49 755.50 
L 1004.56 755.09 
L 1005.69 754.26 
L 1003.67 753.84 
L 1006.38 753.43 
L 1004.37 753.01 
L 1005.58 752.60 
L 1005.80 752.18 
L 1005.73 751.77 
L 1005.34 751.36 
L 1004.68 750.94 
L 1005.73 750.53 
L 1005.06 750.11 
L 1004.13 749.70 
L 1007.16 749.28 
L 1006.05 748.87 
L 1006.73 748.45 
L 1005.29 748.04 
L 1006.67 747.62 
L 1006.84 746.79 
L 1005.43 745.96 
L 1006.05 745.55 
L 1004.98 745.13 
L 1005.30 744.72 
L 1006.33 744.31 
L 1005.77 743.89 
L 1006.26 743.48 
L 1006.32 743.06 
L 1007.46 742.65 
L 1007.13 742.23 
L 1006.41 741.82 
L 1007.11 741.40 
L 1006.03 740.99 
L 1006.29 740.57 
L 1007 740.16 
L 1005.82 739.74 
L 1006.37 739.33 
L 1005.81 738.91 
L 1007.47 738.08 
L 1006.17 737.67 
L 1006.72 737.25 
L 1006.12 736.84 
L 1005.96 736.01 
L 1007.45 735.60 
L 1007.97 735.18 
L 1006.95 734.77 
L 1006.30 734.35 
L 1007.09 733.94 
L 1006.53 733.52 
L 1007.17 733.11 
L 1006.90 732.69 
L 1006.91 732.28 
L 1007.10 731.86 
L 1006.46 731.45 
L 1006.57 731.03 
L 1005.86 730.62 
L 1006.57 730.20 
L 1006.04 729.79 
L 1006.76 729.38 
L 1006.32 728.96 
L 1006.92 728.55 
L 1007.12 728.13 
L 1006.10 727.72 
L 1006.45 727.30 
L 1006.39 726.89 
L 1007.33 726.47 
L 1007.87 726.06 
L 1007.41 725.64 
L 1006.75 725.23 
L 1007.76 724.81 
L 1006.13 724.40 
L 1007.80 723.98 
L 1005.46 723.15 
L 1008.47 722.74 
L 1007.88 722.32 
L 1006.45 721.91 
L 1007.12 721.50 
L 1006.92 721.08 
L 1007.10 720.67 
L 1006.24 720.25 
L 1006.69 719.84 
L 1007.33 719.42 
L 1007.20 719.01 
L 1007.75 718.59 
L 1007.14 718.18 
L 1008.39 717.76 
L 1006.71 717.35 
L 1007.26 716.93 
L 1006.06 716.52 
L 1006.43 716.10 
L 1007.86 715.69 
L 1006.62 715.27 
L 1007.44 714.86 
L 1007.12 714.45 
L 1006.58 714.03 
L 1006.97 713.62 
L 1006.90 712.79 
L 1007.59 712.37 
L 1007.54 711.96 
L 1006.87 711.54 
L 1006.69 711.13 
L 1007.35 710.71 
L 1007.14 710.30 
L 1007.77 709.88 
L 1008.67 709.47 
L 1007.67 709.05 
L 1007.19 708.64 
L 1007.12 708.22 
L 1006.74 707.81 
L 1006.67 706.98 
L 1007.01 706.57 
L 1006.99 706.15 
L 1007.64 705.74 
L 1007.01 705.32 
L 1007.12 704.91 
L 1006.56 704.49 
L 1008.14 704.08 
L 1007.52 703.66 
L 1008.22 703.25 
L 1007.68 702.83 
L 1008.06 702.42 
L 1007.10 702 
L 1007.63 701.59 
L 1008.73 701.17 
L 1006.53 700.76 
L 1007.80 700.34 
L 1008.02 699.93 
L 1007.22 699.52 
L 1007.45 698.69 
L 1006.22 698.27 
L 1006.66 697.86 
L 1005.77 697.44 
L 1005.49 695.37 
L 1004.21 694.95 
L 1005.90 694.54 
L 1005.21 694.12 
L 1004.74 693.71 
L 1003.90 693.29 
L 1003.82 692.88 
L 1003.96 692.47 
L 1003.66 692.05 
L 1002.27 691.64 
L 1004.47 690.81 
L 1001.60 690.39 
L 1003.03 689.98 
L 1002.11 689.15 
L 1002.82 688.73 
L 1001.27 688.32 
L 1002.62 687.49 
L 1001.63 687.07 
L 1001.49 686.66 
L 1001.79 686.24 
L 1001.48 685.83 
L 1002.63 685.41 
L 1001.27 685 
L 1002.31 684.59 
L 1001.15 684.17 
L 1002.29 683.76 
L 1001.91 683.34 
L 1000.57 682.93 
L 1002.11 682.51 
L 1001.59 682.10 
L 1002.03 681.68 
L 1003.24 681.27 
L 1001.84 680.85 
L 1001.98 680.44 
L 1003.51 680.02 
L 1002.87 679.61 
L 1003.80 679.19 
L 1002.69 678.36 
L 1003.29 677.95 
L 1004.17 677.54 
L 1004.15 677.12 
L 1003.77 676.71 
L 1004.02 675.88 
L 1003.92 675.46 
L 1005.51 675.05 
L 1004.59 674.63 
L 1004.11 674.22 
L 1004.66 673.80 
L 1005.52 673.39 
L 1005.65 672.97 
L 1005.38 672.56 
L 1005.27 672.14 
L 1005.84 671.73 
L 1005.07 671.31 
L 1005.46 670.90 
L 1006.84 670.48 
L 1006.30 670.07 
L 1007.65 669.24 
L 1007.34 668.41 
L 1008.73 668 
L 1008.09 667.58 
L 1007.69 667.17 
L 1008.50 666.75 
L 1008.50 666.34 
L 1007.96 665.92 
L 1008.67 665.51 
L 1008.72 665.09 
L 1007.87 664.68 
L 1009.07 664.26 
L 1009.26 663.43 
L 1008.74 663.02 
L 1009.64 662.61 
L 1010.22 661.78 
L 1009.70 661.36 
L 1010.90 660.95 
L 1010.05 660.53 
L 1010.83 660.12 
L 1011.92 659.70 
L 1011.01 659.29 
L 1011.34 658.87 
L 1012.48 658.46 
L 1011.88 658.04 
L 1012.17 657.63 
L 1013.39 656.80 
L 1011.77 656.38 
L 1012.77 655.97 
L 1013.03 655.14 
L 1013.52 654.31 
L 1014.32 653.90 
L 1013.79 653.48 
L 1014.48 653.07 
L 1014.74 652.65 
L 1014.18 652.24 
L 1014.72 651.82 
L 1015.61 651.41 
L 1014.28 650.58 
L 1014.51 650.16 
L 1013.90 649.75 
L 1014.39 649.33 
L 1014.52 648.92 
L 1013.33 648.50 
L 1013.41 648.09 
L 1013.88 647.68 
L 1012.68 647.26 
L 1012.76 646.85 
L 1011.77 646.43 
L 1011.44 645.60 
L 1012.63 645.19 
L 1010.93 644.77 
L 1010.34 643.94 
L 1010.35 643.53 
L 1010.63 643.11 
L 1010.24 642.70 
L 1011.18 642.28 
L 1010.12 641.87 
L 1010.80 641.45 
L 1010.18 641.04 
L 1010.40 640.63 
L 1009.33 640.21 
L 1010.13 639.80 
L 1010.26 638.97 
L 1009.32 638.55 
L 1011.11 638.14 
L 1010.54 637.72 
L 1010.65 637.31 
L 1011.05 636.48 
L 1011.55 636.06 
L 1010.77 635.65 
L 1011.11 635.23 
L 1011.93 634.82 
L 1011.99 634.40 
L 1011.83 633.99 
L 1011.83 633.16 
L 1012.36 632.75 
L 1013.15 632.33 
L 1011.99 631.92 
L 1013.49 631.50 
L 1013.17 631.09 
L 1012.49 630.67 
L 1013.19 630.26 
L 1011.94 629.84 
L 1011.78 629.43 
L 1011.99 629.01 
L 1012.44 628.60 
L 1012.43 628.18 
L 1012.25 627.77 
L 1012.50 627.35 
L 1011.17 626.94 
L 1012.51 626.52 
L 1011.33 626.11 
L 1011.62 625.70 
L 1011.60 625.28 
L 1011.03 624.87 
L 1010.74 624.45 
L 1010.76 624.04 
L 1011.11 623.62 
L 1011.23 623.21 
L 1010.99 622.79 
L 1009.90 622.38 
L 1009.76 621.96 
L 1009.44 621.55 
L 1009.93 621.13 
L 1008.28 620.72 
L 1009.79 620.30 
L 1008.54 619.89 
L 1008.07 619.47 
L 1008.36 619.06 
L 1008.41 618.64 
L 1007.69 618.23 
L 1007.73 617.82 
L 1006.86 617.40 
L 1007.10 616.99 
L 1006.72 616.57 
L 1005.59 616.16 
L 1006.04 615.74 
L 1004.93 615.33 
L 1004.46 614.91 
L 1003.48 614.50 
L 1003.39 614.08 
L 1003.54 613.67 
L 1001.93 613.25 
L 1002.55 612.84 
L 1001.91 612.42 
L 1005.30 612.42 
L 1005.79 612.01 
L 1006.01 611.59 
L 1004.63 611.18 
L 1006 610.77 
L 1005.50 610.35 
L 1005.86 609.94 
L 1005.35 609.52 
L 1006.01 609.11 
L 1004.19 608.69 
L 1006.36 608.28 
L 1005.80 607.86 
L 1004.24 607.45 
L 1005.21 607.03 
L 1004.96 606.62 
L 1003.08 606.20 
L 1004.95 605.79 
L 1003.92 605.37 
L 1004.15 604.96 
L 1003.81 604.54 
L 1003.92 604.13 
L 1004.31 603.72 
L 1004.31 603.30 
L 1002.92 602.89 
L 1003.98 602.47 
L 1003.09 602.06 
L 1003.16 601.64 
L 1003.95 601.23 
L 1004.96 600.81 
L 1004.81 600.40 
L 1003.83 599.98 
L 1003.74 599.15 
L 1005.32 598.32 
L 1004.63 597.91 
L 1005.26 597.49 
L 1005.02 597.08 
L 1006.08 596.66 
L 1003.26 596.25 
L 1003.23 595.84 
L 1004.91 595.42 
L 1005.68 595.01 
L 1004.90 594.59 
L 1005.67 594.18 
L 1004.42 593.76 
L 1004.42 593.35 
L 1004.93 592.93 
L 1006.28 592.52 
L 1006.22 592.10 
L 1005.11 591.69 
L 1005.89 591.27 
L 1005.24 590.86 
L 1005.83 590.44 
L 1004.91 590.03 
L 1005.81 589.61 
L 1005.25 589.20 
L 1005.82 588.79 
L 1005.31 588.37 
L 1005.16 587.96 
L 1005.91 587.54 
L 1005.50 587.13 
L 1005.76 586.71 
L 1005.35 586.30 
L 1006.16 585.88 
L 1004.92 585.47 
L 1006.17 585.05 
L 1006.57 584.64 
L 1005.17 584.22 
L 1006.76 583.81 
L 1006.92 583.39 
L 1003.96 582.56 
L 1003.67 582.15 
L 1004.78 581.73 
L 1006.31 581.32 
L 1005.24 580.91 
L 1005.32 580.49 
L 1004.41 580.08 
L 1003.94 579.66 
L 1004.80 579.25 
L 1003.51 578.83 
L 1004.75 578 
L 1004.32 577.59 
L 1004.69 577.17 
L 1003.86 576.76 
L 1004.71 576.34 
L 1004.54 575.93 
L 1002.84 575.51 
L 1003.35 575.10 
L 1003.62 574.68 
L 1004.79 574.27 
L 1004.52 573.86 
L 1004.50 573.03 
L 1005.24 572.20 
L 1004.06 571.78 
L 1003.27 571.37 
L 1005.21 570.95 
L 1004.55 570.54 
L 1004.84 570.12 
L 1004.74 569.71 
L 1004.04 569.29 
L 1003.79 568.88 
L 1005.92 568.46 
L 1006.11 568.05 
L 1006.05 567.63 
L 1005.53 567.22 
L 1005.65 566.80 
L 1005.15 566.39 
L 1005.62 565.98 
L 1005.29 565.56 
L 1005.22 565.15 
L 1005.89 564.73 
L 1007.17 564.32 
L 1004.24 563.90 
L 1006.32 563.49 
L 1006.40 563.07 
L 1004.85 562.66 
L 1006.12 562.24 
L 1005.94 561.83 
L 1005.46 561.41 
L 1005.41 561 
L 1004.63 560.58 
L 1007.18 560.17 
L 1007.66 559.75 
L 1006.99 559.34 
L 1005.38 558.93 
L 1005.80 558.51 
L 1005.81 558.10 
L 1004.75 557.68 
L 1005.14 557.27 
L 1005.72 556.85 
L 1004.85 556.44 
L 1003.66 556.02 
L 1003.99 555.61 
L 1005.17 555.19 
L 1004.60 554.78 
L 1004.55 554.36 
L 1005.85 553.95 
L 1004.72 553.53 
L 1003.99 553.12 
L 1004.46 552.70 
L 1006.24 552.29 
L 1003.47 551.88 
L 1005.83 551.46 
L 1005.50 551.05 
L 1004.14 550.63 
L 1003.97 550.22 
L 1005.40 549.80 
L 1004.41 549.39 
L 1003.76 548.97 
L 1005.72 548.56 
L 1004.36 548.14 
L 1004.51 547.73 
L 1004.04 546.90 
L 1004.44 546.48 
L 1004.07 546.07 
L 1004.85 545.65 
L 1005.36 545.24 
L 1005.61 544.41 
L 1005.93 544 
L 1005.40 543.58 
L 1004.35 543.17 
L 1005.72 542.75 
L 1003.64 542.34 
L 1005.41 541.51 
L 1003.85 541.09 
L 1006.54 540.68 
L 1004.55 540.26 
L 1004.23 539.85 
L 1004.90 539.43 
L 1004.96 539.02 
L 1005.63 538.60 
L 1005.57 538.19 
L 1006.60 537.77 
L 1005.65 537.36 
L 1005.96 536.95 
L 1005.02 536.53 
L 1006.26 536.12 
L 1004.25 535.29 
L 1006.93 534.87 
L 1004.96 534.46 
L 1004.91 534.04 
L 1005.05 533.63 
L 1006.28 533.21 
L 1004.43 532.80 
L 1007.09 531.55 
L 1005.22 531.14 
L 1005.43 530.72 
L 1004.59 530.31 
L 1006.87 529.89 
L 1005.04 529.48 
L 1005.12 528.65 
L 1004.16 528.24 
L 1004.83 527.82 
L 1003.71 527.41 
L 1005.92 526.99 
L 1004.49 526.58 
L 1004.41 526.16 
L 1005.45 525.75 
L 1003.42 525.33 
L 1005.53 524.92 
L 1005.59 524.50 
L 1003.65 524.09 
L 1004.83 523.67 
L 1004.15 523.26 
L 1004.95 522.84 
L 1003.46 522.02 
L 1004.73 521.60 
L 1004.04 521.19 
L 1004.40 520.77 
L 1005.09 520.36 
L 1005.32 519.94 
L 1004.88 519.53 
L 1003.23 519.11 
L 1005.04 518.70 
L 1004.28 518.28 
L 1005.48 517.87 
L 1004.50 517.45 
L 1005.92 517.04 
L 1005.24 516.62 
L 1004.89 516.21 
L 1005.21 515.79 
L 1003.59 515.38 
L 1005.61 514.96 
L 1005.31 514.55 
L 1004.38 514.14 
L 1005.70 513.72 
L 1005.80 512.89 
L 1005.47 512.48 
L 1006.28 512.06 
L 1006.34 511.65 
L 1005.80 511.23 
L 1005.72 510.82 
L 1005.43 510.40 
L 1005.33 509.99 
L 1006.35 509.57 
L 1004.69 508.74 
L 1006.06 508.33 
L 1006.76 507.91 
L 1005.59 507.50 
L 1006.51 507.09 
L 1006.16 506.67 
L 1004.88 506.26 
L 1322.26 505.84 
L 1005.52 505.43 
L 1006.12 505.01 
L 1003.18 504.60 
L 1006.11 504.18 
L 1005.96 503.77 
L 1004.50 503.35 
L 1006.08 502.94 
L 1004.99 502.52 
L 1005.18 502.11 
L 1005.98 501.28 
L 1004.94 500.86 
L 1005.29 500.45 
L 1005.01 500.04 
L 1003.97 499.62 
L 1005.87 499.21 
L 1004.52 498.38 
L 1005.24 497.96 
L 1004.76 497.55 
L 1003.82 497.13 
L 1005.08 496.72 
L 1004.29 496.30 
L 1004.74 495.89 
L 1005.01 495.47 
L 1028.35 495.06 
L 1005.79 494.64 
L 1004.42 494.23 
L 1004.14 493.81 
L 1003.72 493.40 
L 1003.84 492.98 
L 1004.96 492.57 
L 1004.81 492.16 
L 1003.81 491.74 
L 1004.29 490.91 
L 1006.02 490.50 
L 1004.03 490.08 
L 1005.18 489.67 
L 1003.62 489.25 
L 1006.27 488.42 
L 1004.17 488.01 
L 1006.24 487.59 
L 1003.80 487.18 
L 1005.48 486.76 
L 1004.60 486.35 
L 1005.56 485.93 
L 1005.44 485.52 
L 1006.36 485.11 
L 1005.96 484.69 
L 1005.92 484.28 
L 1005.37 483.86 
L 1006.22 483.45 
L 1005.21 483.03 
L 1005.35 482.62 
L 1005.37 482.20 
L 1006.36 481.79 
L 1007.75 481.37 
L 1005.81 480.96 
L 1007.43 480.54 
L 1004.97 480.13 
L 1005.27 479.71 
L 1123.80 479.30 
L 1006.17 478.88 
L 1006.24 478.47 
L 1006.85 478.05 
L 1005.32 477.64 
L 1006.31 477.23 
L 1005.54 476.81 
L 1002.92 476.40 
L 1004.36 475.98 
L 1004.67 475.57 
L 1005.11 475.15 
L 1005.38 474.74 
L 1004.64 474.32 
L 1005.87 473.91 
L 1003.91 473.49 
L 1005.34 472.66 
L 1003.58 472.25 
L 1005.49 471.83 
L 1005.19 471.42 
L 1004.23 471 
L 1004.33 470.59 
L 1004.22 470.18 
L 1004.29 469.76 
L 1005.28 469.35 
L 1004.67 468.93 
L 1003.11 468.52 
L 1002.98 468.10 
L 1004.76 467.69 
L 1002.12 467.27 
L 1003.85 466.44 
L 1004.38 466.03 
L 1005.56 465.61 
L 1004.65 465.20 
L 1007.46 464.78 
L 1004.81 464.37 
L 1005.41 463.95 
L 1005.61 463.54 
L 1004.76 463.12 
L 1005.71 462.71 
L 1005.28 461.88 
L 1004.65 461.47 
L 1004.89 461.05 
L 1005.98 460.64 
L 1005.37 460.22 
L 1005.80 459.81 
L 1005.83 458.98 
L 1005.67 458.56 
L 1006.20 458.15 
L 1006.45 457.73 
L 1006.93 457.32 
L 1005.39 456.49 
L 1005.32 456.07 
L 1006.41 455.66 
L 1004.63 455.25 
L 1005.45 454.83 
L 1006.73 454.42 
L 1005.57 454 
L 1005.28 453.59 
L 1006.80 453.17 
L 1003.55 452.76 
L 1005.63 452.34 
L 1005.26 451.93 
L 1005.17 451.51 
L 1006.26 451.10 
L 1006.67 450.68 
L 1005.48 449.44 
L 1004.93 449.02 
L 1005.05 448.61 
L 1003.63 448.2 
L 1005.30 447.37 
L 1004.64 446.95 
L 1005.34 446.54 
L 1003.31 446.12 
L 1004.07 445.71 
L 1003.64 445.29 
L 1005.28 444.88 
L 1004.15 444.46 
L 1004.08 444.05 
L 1003.28 443.63 
L 1003.85 443.22 
L 1003.41 442.80 
L 1003.76 442.39 
L 1006.02 441.97 
L 1003.28 441.56 
L 1004.03 441.14 
L 1003.53 440.73 
L 1005.37 440.32 
L 1003.52 439.90 
L 1003.65 439.49 
L 1005.83 438.66 
L 1004.72 438.24 
L 1004.12 437.83 
L 1002.55 437.41 
L 1001.74 437 
L 1004.74 436.58 
L 1004.90 436.17 
L 1005.94 435.75 
L 1004.91 434.92 
L 1006.26 434.51 
L 1006.71 434.09 
L 1004.82 433.68 
L 1006.20 433.27 
L 1006.48 432.85 
L 1004.93 432.44 
L 1006.09 432.02 
L 1005.65 431.61 
L 1006.70 431.19 
L 1006.68 430.78 
L 1004.05 430.36 
L 1006.99 429.53 
L 1006.29 429.12 
L 1005.02 428.70 
L 1005.47 428.29 
L 1004.98 427.87 
L 1006.11 427.46 
L 1004.74 427.04 
L 1006.79 426.63 
L 1006.44 426.21 
L 1007.09 425.80 
L 1006.54 425.39 
L 1006.28 424.56 
L 1005.94 424.14 
L 1003.79 423.73 
L 1005.78 423.31 
L 1003.19 422.48 
L 1006.39 422.07 
L 1003.58 421.24 
L 1005.10 420.82 
L 1005.13 420.41 
L 1004.85 419.99 
L 1005.84 419.58 
L 1003.64 419.16 
L 1005.24 418.75 
L 1003.63 418.34 
L 1004.78 417.92 
L 1004.88 417.51 
L 1003.91 417.09 
L 1006.36 416.68 
L 1033.55 416.26 
L 1003.01 415.85 
L 1003.85 415.43 
L 1003.49 415.02 
L 1005.18 414.60 
L 1003.77 414.19 
L 1005.38 413.77 
L 1003.94 413.36 
L 1005.02 412.94 
L 1005.06 412.53 
L 1004.54 412.11 
L 1072.06 411.70 
L 1004.85 411.28 
L 1006.38 410.87 
L 1006.67 410.46 
L 1004.50 410.04 
L 1005.89 409.21 
L 1005.49 408.80 
L 1006.73 408.38 
L 1007.37 407.97 
L 1003.62 407.55 
L 1004.88 407.14 
L 1006.52 406.72 
L 1005.92 406.31 
L 1004.96 405.89 
L 1005.42 405.48 
L 1047.02 405.06 
L 1007.10 404.65 
L 1004.98 404.23 
L 1041.77 403.82 
L 1007.07 403.41 
L 1006.74 402.99 
L 1005.77 402.58 
L 1005.66 402.16 
L 1004.41 401.75 
L 1004.47 401.33 
L 1005.14 400.92 
L 1006.54 400.50 
L 1006.49 400.09 
L 1006.86 399.67 
L 1006.49 399.26 
L 1006.32 398.84 
L 1005.77 398.43 
L 1004.91 398.01 
L 1006.51 397.60 
L 1003.85 396.77 
L 1056.23 396.36 
L 1005.27 395.94 
L 1007.13 395.53 
L 1004.82 395.11 
L 1005.25 394.70 
L 1003.92 394.28 
L 1005.36 393.87 
L 1004.94 393.45 
L 1003.97 393.04 
L 1004.78 392.62 
L 1003.45 392.21 
L 1004.93 391.79 
L 1004.01 391.38 
L 1004.65 390.96 
L 1003.55 390.55 
L 1003.63 390.13 
L 1004.11 389.72 
L 1004.92 389.30 
L 1004.32 388.89 
L 1002.24 388.48 
L 1004.77 388.06 
L 1004.14 387.65 
L 1005.23 386.82 
L 1005 386.40 
L 1003.75 385.99 
L 1004.10 385.57 
L 1004.87 385.16 
L 1005.35 384.74 
L 1003.94 384.33 
L 1004.12 383.91 
L 1003.90 383.50 
L 1005.14 383.08 
L 1004.28 382.67 
L 1006.89 382.25 
L 1005.73 381.84 
L 1006.10 381.43 
L 1005.70 381.01 
L 1004.78 380.60 
L 1003.24 380.18 
L 1006.64 379.77 
L 1005.75 379.35 
L 1003.99 378.94 
L 1007.98 378.52 
L 1006.30 378.11 
L 1007.05 377.69 
L 1004.33 376.86 
L 1005.18 376.45 
L 1006.51 376.03 
L 1004.10 375.62 
L 1006.82 374.79 
L 1006.74 374.37 
L 1005.90 373.96 
L 1003.67 373.55 
L 1005.56 373.13 
L 1006.80 372.72 
L 1006.41 372.30 
L 1005.30 371.89 
L 1005.89 371.47 
L 1005.99 371.06 
L 1005.11 370.64 
L 1004.76 370.23 
L 1004.71 369.81 
L 1004.52 369.40 
L 1005.07 368.98 
L 1005.02 368.57 
L 1005.46 368.15 
L 1005.38 367.74 
L 1004.70 367.32 
L 1002.96 366.91 
L 1005.13 366.50 
L 1003.85 366.08 
L 1005.98 365.67 
L 1004.22 365.25 
L 1006.28 364.84 
L 1004.90 364.42 
L 1005.72 364.01 
L 1004.45 363.59 
L 1004.69 363.18 
L 1003.89 362.76 
L 1003.83 361.93 
L 1004.84 361.52 
L 1003.30 361.10 
L 1005.09 360.69 
L 1004.06 360.27 
L 1004.82 359.86 
L 1003.53 359.44 
L 1004.44 359.03 
L 1003.02 358.62 
L 1003.96 358.20 
L 1004.39 357.79 
L 1003.78 357.37 
L 1004.50 356.96 
L 1004.86 356.54 
L 1004.95 356.13 
L 1003.23 355.71 
L 1004.75 355.30 
L 1004.90 354.88 
L 1004.46 354.47 
L 1004.44 354.05 
L 1006.91 353.64 
L 1006.08 353.22 
L 1006.52 352.39 
L 1004.81 351.98 
L 1005.43 351.57 
L 1004.23 351.15 
L 1005.90 350.74 
L 1004.20 350.32 
L 1006.45 349.49 
L 1006.30 349.08 
L 1005.05 348.66 
L 1005.11 348.25 
L 1006.93 347.83 
L 1005.40 347 
L 1005.90 346.59 
L 1005.85 346.17 
L 1004.81 345.76 
L 1005.19 345.34 
L 1003.85 344.93 
L 1005.73 344.52 
L 1005.53 344.10 
L 1006.25 343.69 
L 1006.17 343.27 
L 1004.87 342.86 
L 1006.49 342.44 
L 1004.48 342.03 
L 1005.78 341.61 
L 1004.49 341.20 
L 1004.33 340.78 
L 1003.74 340.37 
L 1004.64 339.95 
L 1006.49 339.54 
L 1004.68 339.12 
L 1004.88 338.71 
L 1004.15 338.29 
L 1004.79 337.88 
L 1004.85 337.46 
L 1004.69 337.05 
L 1005.40 336.64 
L 1004.22 336.22 
L 1004.56 335.81 
L 1005.49 335.39 
L 1004.73 334.98 
L 1003.59 334.56 
L 1005.28 334.15 
L 1004.78 333.73 
L 1003.61 333.32 
L 1003.67 332.90 
L 1004.03 332.49 
L 1005.09 332.07 
L 1004.74 331.66 
L 1005.34 331.24 
L 1006.64 330.83 
L 1006.10 330.41 
L 1004.83 330 
L 1004.27 329.59 
L 1006.05 329.17 
L 1004.39 328.76 
L 1004.41 328.34 
L 1005.04 327.93 
L 1005.45 327.51 
L 1005.08 327.10 
L 1005.59 326.68 
L 1003.22 326.27 
L 1005.21 325.85 
L 1005.60 325.44 
L 1006.22 325.02 
L 1005.98 324.61 
L 1005.55 324.19 
L 1007.84 323.78 
L 1006.63 323.36 
L 1006.12 322.53 
L 1006.25 322.12 
L 1159.67 321.71 
L 1005.02 321.29 
L 1006.05 320.88 
L 1004.52 320.46 
L 1006.30 320.05 
L 1005.46 319.63 
L 1006.32 319.22 
L 1079.91 318.80 
L 1004.95 318.39 
L 1004.99 317.97 
L 1005.17 317.56 
L 1165.11 317.14 
L 1006.51 316.73 
L 1005.14 316.31 
L 1001.52 315.90 
L 1001.48 315.48 
L 1004.13 315.07 
L 1004.06 314.66 
L 1004.30 314.24 
L 1092.51 313.83 
L 1007.43 313.41 
L 1009.74 313 
L 1009.50 312.58 
L 1009.99 312.17 
L 1013 311.34 
L 1013.03 310.92 
L 1017.24 310.51 
L 1017.76 310.09 
L 1018.59 309.68 
L 1019.68 309.26 
L 1024.50 308.85 
L 1026.60 308.43 
L 1029.90 308.02 
L 1031.92 307.60 
L 1034.56 306.78 
L 1038.65 306.36 
L 1040.51 305.95 
L 1043.57 305.53 
L 1044.68 305.12 
L 1048.22 304.70 
L 1050.72 304.29 
L 1054.14 303.46 
L 1056.02 303.04 
L 1063.55 302.21 
L 1064.93 301.80 
L 1065.26 301.38 
L 1069.80 300.97 
L 1070.89 300.55 
L 1078.51 299.73 
L 1079.71 299.31 
L 1079.56 298.90 
L 1084.76 298.48 
L 1086.28 298.07 
L 1089.57 297.65 
L 1090.32 297.24 
L 1092.23 296.82 
L 1091.84 296.41 
L 1096.27 295.99 
L 1095.86 295.58 
L 1096.99 295.16 
L 1100.74 294.75 
L 1104.25 293.92 
L 1104.93 293.50 
L 1104.82 293.09 
L 1105.04 292.26 
L 1103.33 291.43 
L 1100.29 291.02 
L 1100.78 290.60 
L 1099.39 290.19 
L 1098.92 289.77 
L 1096.68 289.36 
L 1096.82 288.94 
L 1095.21 288.53 
L 1092.05 288.11 
L 1091.26 287.70 
L 1089.83 287.28 
L 1083.35 286.45 
L 1083.01 286.04 
L 1081.22 285.62 
L 1078.79 285.21 
L 1077.40 284.80 
L 1074.46 284.38 
L 1073.25 283.97 
L 1069.17 283.55 
L 1068.76 283.14 
L 1064.95 282.72 
L 1063.46 282.31 
L 1059.42 281.89 
L 1058.35 281.48 
L 1058.09 281.06 
L 1055.28 280.65 
L 1053.34 280.23 
L 1050.42 279.82 
L 1050.17 279.40 
L 1046.77 278.99 
L 1046.90 278.57 
L 1039.37 277.33 
L 1037.77 276.92 
L 1036.72 276.50 
L 1034.85 276.09 
L 1031.58 275.67 
L 1031.54 275.26 
L 1028.74 274.84 
L 1029.60 274.43 
L 1025.02 274.01 
L 1025.94 273.60 
L 1022.82 273.18 
L 1022.86 272.77 
L 1022.25 272.35 
L 1020.36 271.94 
L 1017.67 271.52 
L 1016.03 271.11 
L 1017.21 270.69 
L 1013.99 270.28 
L 1014.02 269.87 
L 1013.09 269.45 
L 1009.49 269.04 
L 1011.31 268.62 
L 1008.43 268.21 
L 1007.31 267.79 
L 1005.66 267.38 
L 1005.76 266.96 
L 1005.15 266.55 
L 1004.90 266.13 
L 1003.79 265.30 
L 1002.48 264.89 
L 1002.27 264.47 
L 1002.48 263.64 
L 1003.53 263.23 
L 1003.49 262.82 
L 1002.91 262.40 
L 1002.67 261.99 
L 1002.30 261.57 
L 1004.21 261.16 
L 1004.94 260.74 
L 1003.94 260.33 
L 1005.78 259.91 
L 1006.89 259.50 
L 1007.45 259.08 
L 1006.69 258.67 
L 1007.87 258.25 
L 1007.74 257.84 
L 1010.15 257.42 
L 1010.17 257.01 
L 1012.64 256.59 
L 1010.56 256.18 
L 1012.93 255.76 
L 1012.33 255.35 
L 1013.02 254.94 
L 1014.48 254.52 
L 1060.20 254.11 
L 1013.89 253.69 
L 1016.75 253.28 
L 1016.90 252.86 
L 1018.16 252.45 
L 1017.14 251.62 
L 1018.62 251.20 
L 1017.84 250.79 
L 1071.49 250.37 
L 1018.43 249.96 
L 1017.82 249.54 
L 1020.14 249.13 
L 1018.67 248.71 
L 1017.71 248.30 
L 1017.33 247.89 
L 1015.83 247.47 
L 1014.02 246.23 
L 1011.02 245.81 
L 1012.97 245.40 
L 1009.24 244.98 
L 1009.24 244.57 
L 1008.04 244.15 
L 1008.50 243.74 
L 1006.25 243.32 
L 1007.96 242.91 
L 1007.26 242.49 
L 1007.07 242.08 
L 1006.58 241.66 
L 1005.27 241.25 
L 1005.37 240.84 
L 1004 240.42 
L 1004.08 240.01 
L 1004.45 239.59 
L 1002.70 239.18 
L 1003.17 238.76 
L 1002.69 238.35 
L 1003.55 237.93 
L 1002.98 237.52 
L 1001.91 237.10 
L 1003.44 236.27 
L 1001.57 235.44 
L 1001.47 235.03 
L 1001.17 234.61 
L 1001.17 234.20 
L 1001.40 233.78 
L 1001.48 233.37 
L 1001.17 232.96 
L 1001.17 229.22 
L 1001.35 228.81 
L 1001.17 228.39 
L 1001.17 227.98 
L 1003.13 227.56 
L 1001.17 227.15 
L 1001.49 226.73 
L 1001.17 226.32 
L 1001.17 222.17 
L 1001.46 221.76 
L 1001.17 220.93 
L 1002.01 220.51 
L 1001.17 220.10 
L 1001.17 219.68 
L 1001.80 219.27 
L 1001.32 218.85 
L 1001.17 218.44 
L 1001.50 218.03 
L 1001.17 217.61 
L 1001.17 217.20 
L 1001.53 216.78 
L 1002.05 216.37 
L 1001.17 215.95 
L 1001.88 215.54 
L 1004.81 214.71 
L 1005.36 214.29 
L 1005.08 213.88 
L 1006.46 213.46 
L 1005.39 213.05 
L 1006.46 212.63 
L 1009.98 211.80 
L 1010.12 211.39 
L 1014.90 210.98 
L 1016.22 210.56 
L 1023.41 209.73 
L 1029.84 209.32 
L 1047.20 208.49 
L 1061.51 208.07 
L 1160.54 206.83 
L 1167.16 206.41 
L 1168.99 206 
L 1167.75 205.58 
L 1169.38 205.17 
L 1168.50 204.75 
L 1171.97 204.34 
L 1170.96 203.92 
L 1172.26 203.51 
L 1171.11 203.10 
L 1171.34 202.27 
L 1171.80 201.44 
L 1170.44 201.02 
L 1171.64 200.61 
L 1171.66 200.19 
L 1169.23 199.78 
L 1168.61 198.95 
L 1168.08 198.53 
L 1169.47 198.12 
L 1167.78 197.70 
L 1165.15 197.29 
L 1167.41 196.87 
L 1161.80 196.05 
L 1160.18 195.63 
L 1160.55 195.22 
L 1157.42 194.80 
L 1157.44 194.39 
L 1156.46 193.97 
L 1153.39 193.56 
L 1149.91 192.73 
L 1149.84 192.31 
L 1145.27 191.48 
L 1143.52 191.07 
L 1138 190.24 
L 1134.76 189.41 
L 1129.05 188.58 
L 1125.97 188.17 
L 1125.38 187.75 
L 1116.47 186.51 
L 1108.73 185.26 
L 1101.27 184.43 
L 1081.50 183.19 
L 1033.95 180.70 
L 1027.99 180.29 
L 1025.83 179.87 
L 1020.36 179.46 
L 1018.71 179.04 
L 1013.81 178.63 
L 1012.17 178.21 
L 1011.48 177.80 
L 1009.12 177.38 
L 1009.77 176.97 
L 1010.03 176.55 
L 1008.33 176.14 
L 1011.33 175.72 
L 1008.36 175.31 
L 1009.25 174.89 
L 1009.70 174.48 
L 1009.92 174.07 
L 1010.47 173.65 
L 1010.70 173.24 
L 1008.69 172.82 
L 1009.77 172.41 
L 1008.32 171.99 
L 1010.42 171.58 
L 1009.81 171.16 
L 1010.85 170.75 
L 1009.38 170.33 
L 1010.12 169.92 
L 1011.75 169.50 
L 1012.26 169.09 
L 1011.74 168.67 
L 1012.37 167.84 
L 1013.31 167.01 
L 1019.66 166.19 
L 1018.36 165.77 
L 1019.78 165.36 
L 1019.56 164.94 
L 1020.61 164.53 
L 1022.13 164.11 
L 1021.08 163.70 
L 1019.69 163.28 
L 1019.26 162.87 
L 1018.04 162.45 
L 1016.41 162.04 
L 1015.77 161.62 
L 1016.16 161.21 
L 1012.90 160.79 
L 1014.26 160.38 
L 1014.20 159.96 
L 1011.47 159.55 
L 1011.63 159.14 
L 1010.27 158.72 
L 1009.48 158.31 
L 1007.80 157.89 
L 1008.85 157.48 
L 1010.91 157.06 
L 1010.05 156.65 
L 1010.24 156.23 
L 1012.49 155.82 
L 1011.29 154.99 
L 1016.20 154.16 
L 1016.93 153.74 
L 1016.70 153.33 
L 1018.58 152.91 
L 1018.62 152.50 
L 1021.45 152.08 
L 1020.57 151.67 
L 1021.31 151.26 
L 1020.90 150.84 
L 1021.39 150.43 
L 1020.85 150.01 
L 1018.33 148.77 
L 1017.68 148.35 
L 1017.48 147.94 
L 1016.38 147.52 
L 1015.97 147.11 
L 1013.65 146.69 
L 1012.97 146.28 
L 1010.17 145.86 
L 1010.53 145.45 
L 1009.91 145.03 
L 1009.95 144.62 
L 1009.74 144.21 
L 1009.10 143.79 
L 1009.89 143.38 
L 1009.43 142.96 
L 1010.24 142.55 
L 1010.33 142.13 
L 1011.76 141.72 
L 1011.98 141.30 
L 1013.24 140.89 
L 1014.36 140.06 
L 1017.55 139.64 
L 1016.81 139.23 
L 1019.20 138.81 
L 1018.80 138.40 
L 1019.66 137.98 
L 1020.20 137.57 
L 1019.08 136.74 
L 1021.02 136.33 
L 1020.25 135.91 
L 1018.23 135.50 
L 1018.34 135.08 
L 1017.63 134.67 
L 1018.16 134.25 
L 1015.25 133.42 
L 1015.15 133.01 
L 1010.27 131.76 
L 1011.51 131.35 
L 1008.71 130.93 
L 1010.70 130.52 
L 1008 130.10 
L 1008.90 129.69 
L 1010.62 129.28 
L 1010.69 128.86 
L 1011.45 128.45 
L 1009.93 128.03 
L 1011.72 127.62 
L 1012.84 127.20 
L 1014.41 126.37 
L 1016.17 125.96 
L 1016.93 125.54 
L 1017.06 125.13 
L 1019.14 124.30 
L 1019.88 123.88 
L 1020.05 123.47 
L 1019.18 123.05 
L 1020.51 122.64 
L 1020.64 122.23 
L 1021.14 121.81 
L 1018.85 121.40 
L 1019.31 120.98 
L 1017.26 120.57 
L 1017.83 120.15 
L 1015.68 119.74 
L 1014.84 119.32 
L 1013.56 118.91 
L 1012.01 118.08 
L 1009.92 117.66 
L 1010.95 117.25 
L 1009.07 116.83 
L 1009.44 116.42 
L 1010.24 116 
L 1009.34 115.59 
L 1009.23 115.17 
L 1011.61 114.76 
L 1011.98 114.35 
L 1013.31 113.52 
L 1013.81 113.10 
L 1014.59 112.69 
L 1014.25 112.27 
L 1015.69 111.86 
L 1016.72 111.44 
L 1021.07 110.61 
L 1020.35 110.20 
L 1019.98 109.78 
L 1021.56 109.37 
L 1020.45 108.95 
L 1020.04 108.12 
L 1020.54 107.71 
L 1020.01 107.30 
L 1018.45 106.88 
L 1016.44 106.47 
L 1017.04 106.05 
L 1014.65 105.64 
L 1013.51 105.22 
L 1012.78 104.81 
L 1011.41 104.39 
L 1010.85 103.98 
L 1012.17 103.56 
L 1009.32 103.15 
L 1009.66 102.73 
L 1008.24 102.32 
L 1009.31 101.49 
L 1010.56 100.66 
L 1011.09 100.24 
L 1011.37 99.83 
L 1014.11 99.42 
L 1014.46 99 
L 1014.44 98.59 
L 1015.72 98.17 
L 1016.54 97.76 
L 1017.83 97.34 
L 1018.14 96.93 
L 1019.98 96.51 
L 1020.69 96.10 
L 1020.17 95.68 
L 1020.77 95.27 
L 1019.97 94.85 
L 1021.30 94.44 
L 1019.53 94.02 
L 1019.72 93.61 
L 1018.90 93.19 
L 1015.31 92.37 
L 1015.18 91.95 
L 1013.91 91.54 
L 1011.79 90.29 
L 1010.62 89.88 
L 1011.85 89.46 
L 1008.89 89.05 
L 1008.89 89.05 
" clip-path="url(#p81dce7802c)" style="fill: none; stroke: #00ff00; stroke-width: 1.5; stroke-linecap: square"/>
</g>
<g id="patch_28">
<path d="M 1001.17 862.92 
L 1001.17 88.77 
" style="fill: none; stroke: #000000; stroke-width: 0.8; stroke-linejoin: miter; stroke-linecap: square"/>
</g>
<g id="patch_29">
<path d="M 1166.70 862.92 
L 1166.70 88.77 
" style="fill: none; stroke: #000000; stroke-width: 0.8; stroke-linejoin: miter; stroke-linecap: square"/>
</g>
<g id="patch_30">
<path d="M 1001.17 862.92 
L 1166.70 862.92 
" style="fill: none; stroke: #000000; stroke-width: 0.8; stroke-linejoin: miter; stroke-linecap: square"/>
</g>
<g id="patch_31">
<path d="M 1001.17 88.77 
L 1166.70 88.77 
" style="fill: none; stroke: #000000; stroke-width: 0.8; stroke-linejoin: miter; stroke-linecap: square"/>
</g>
<g id="line2d_230">
<path d="M 1015.52 818.13 
L 1014.26 817.57 
L 1012.92 817.02 
L 1011.57 816.47 
L 1010.23 815.91 
L 1008.96 815.36 
L 1007.81 814.81 
L 1006.82 814.25 
L 1006.04 813.70 
L 1005.52 813.15 
L 1005.31 812.60 
L 1005.26 812.04 
L 1005.22 811.49 
L 1005.18 810.94 
L 1005.14 810.38 
L 1005.10 809.83 
L 1005.06 809.28 
L 1005.02 808.72 
L 1004.99 808.17 
L 1004.95 807.62 
L 1004.92 807.07 
L 1004.89 806.51 
L 1004.86 805.96 
L 1004.83 805.41 
L 1004.81 804.85 
L 1004.78 804.30 
L 1004.76 803.75 
L 1004.74 803.20 
L 1004.71 802.64 
L 1004.69 802.09 
L 1004.67 801.54 
L 1004.66 800.98 
L 1004.64 800.43 
L 1004.62 799.88 
L 1004.61 799.32 
L 1004.59 798.77 
L 1004.58 798.22 
L 1004.57 797.67 
L 1004.56 797.11 
L 1004.55 796.56 
L 1004.54 796.01 
L 1004.53 795.45 
L 1004.52 794.90 
L 1004.51 794.35 
L 1004.51 793.8 
L 1004.50 793.24 
L 1004.50 792.69 
L 1004.49 792.14 
L 1004.49 791.58 
L 1004.49 791.03 
L 1004.48 790.48 
L 1004.48 789.92 
L 1004.48 789.37 
L 1004.48 788.82 
L 1004.48 788.27 
L 1004.48 787.71 
L 1004.50 787.16 
L 1004.52 786.61 
L 1004.55 786.05 
L 1004.58 785.50 
L 1004.62 784.95 
L 1004.67 784.39 
L 1004.73 783.84 
L 1004.79 783.29 
L 1004.85 782.74 
L 1004.92 782.18 
L 1005 781.63 
L 1005.08 781.08 
L 1005.17 780.52 
L 1005.25 779.97 
L 1005.35 779.42 
L 1005.44 778.87 
L 1005.54 778.31 
L 1005.64 777.76 
L 1005.74 777.21 
L 1005.85 776.65 
L 1005.95 776.10 
L 1006.06 775.55 
L 1006.17 774.99 
L 1006.27 774.44 
L 1006.38 773.89 
L 1006.49 773.34 
L 1006.59 772.78 
L 1006.70 772.23 
L 1006.80 771.68 
L 1006.91 771.12 
L 1007.01 770.57 
L 1007.10 770.02 
L 1007.20 769.46 
L 1007.29 768.91 
L 1007.38 768.36 
L 1007.47 767.81 
L 1007.55 767.25 
L 1007.62 766.70 
L 1007.69 766.15 
L 1007.76 765.59 
L 1007.82 765.04 
L 1007.88 764.49 
L 1007.92 763.94 
L 1007.97 763.38 
L 1008 762.83 
L 1008.03 762.28 
L 1008.05 761.72 
L 1008.06 761.17 
L 1008.07 760.62 
L 1008 760.06 
L 1007.81 759.51 
L 1007.52 758.96 
L 1007.14 758.41 
L 1006.67 757.85 
L 1006.15 757.30 
L 1005.58 756.75 
L 1004.98 756.19 
L 1004.36 755.64 
L 1003.74 755.09 
L 1003.13 754.53 
L 1002.55 753.98 
" clip-path="url(#p81dce7802c)" style="fill: none; stroke: #0000ff; stroke-width: 1.5; stroke-linecap: square"/>
</g>
<g id="line2d_231">
<path d="M 1011.10 818.13 
L 1010.85 817.57 
L 1010.59 817.02 
L 1010.33 816.47 
L 1010.06 815.91 
L 1009.80 815.36 
L 1009.54 814.81 
L 1009.28 814.25 
L 1009.03 813.70 
L 1008.78 813.15 
L 1008.55 812.60 
L 1008.33 812.04 
L 1008.12 811.49 
L 1007.93 810.94 
L 1007.76 810.38 
L 1007.61 809.83 
L 1007.48 809.28 
L 1007.38 808.72 
L 1007.30 808.17 
L 1007.25 807.62 
L 1007.24 807.07 
L 1007.24 806.51 
L 1007.24 805.96 
L 1007.24 805.41 
L 1007.24 804.85 
L 1007.24 804.30 
L 1007.24 803.75 
L 1007.24 803.20 
L 1007.24 802.64 
L 1007.24 802.09 
L 1007.24 801.54 
L 1007.24 800.98 
L 1007.24 800.43 
L 1007.24 799.88 
L 1007.24 799.32 
L 1007.24 798.77 
L 1007.24 798.22 
L 1007.24 797.67 
L 1007.24 797.11 
L 1007.24 796.56 
L 1007.24 796.01 
L 1007.24 795.45 
L 1007.24 794.90 
L 1007.24 794.35 
L 1007.24 793.8 
L 1007.24 793.24 
L 1007.24 792.69 
L 1007.24 792.14 
L 1007.24 791.58 
L 1007.24 791.03 
L 1007.24 790.48 
L 1007.24 789.92 
L 1007.24 789.37 
L 1007.24 788.82 
L 1007.24 788.27 
L 1007.24 787.71 
L 1007.24 787.16 
L 1007.24 786.61 
L 1007.24 786.05 
L 1007.24 785.50 
L 1007.24 784.95 
L 1007.24 784.39 
L 1007.24 783.84 
L 1007.24 783.29 
L 1007.24 782.74 
L 1007.24 782.18 
L 1007.24 781.63 
L 1007.24 781.08 
L 1007.24 780.52 
L 1007.24 779.97 
L 1007.24 779.42 
L 1007.24 778.87 
L 1007.25 778.31 
L 1007.26 777.76 
L 1007.27 777.21 
L 1007.29 776.65 
L 1007.31 776.10 
L 1007.33 775.55 
L 1007.36 774.99 
L 1007.39 774.44 
L 1007.42 773.89 
L 1007.46 773.34 
L 1007.50 772.78 
L 1007.54 772.23 
L 1007.59 771.68 
L 1007.64 771.12 
L 1007.69 770.57 
L 1007.74 770.02 
L 1007.80 769.46 
L 1007.85 768.91 
L 1007.91 768.36 
L 1007.98 767.81 
L 1008.04 767.25 
L 1008.11 766.70 
L 1008.18 766.15 
L 1008.25 765.59 
L 1008.32 765.04 
L 1008.39 764.49 
L 1008.47 763.94 
L 1008.55 763.38 
L 1008.62 762.83 
L 1008.70 762.28 
L 1008.79 761.72 
L 1008.87 761.17 
L 1008.95 760.62 
L 1009.03 760.06 
L 1009.12 759.51 
L 1009.21 758.96 
L 1009.29 758.41 
L 1009.38 757.85 
L 1009.47 757.30 
L 1009.55 756.75 
L 1009.64 756.19 
L 1009.73 755.64 
L 1009.82 755.09 
L 1009.91 754.53 
L 1010 753.98 
" clip-path="url(#p81dce7802c)" style="fill: none; stroke: #008000; stroke-width: 1.5; stroke-linecap: square"/>
</g>
<g id="line2d_232">
<path d="M 1011.93 818.13 
L 1011.77 817.57 
L 1011.61 817.02 
L 1011.45 816.47 
L 1011.30 815.91 
L 1011.14 815.36 
L 1010.98 814.81 
L 1010.83 814.25 
L 1010.68 813.70 
L 1010.53 813.15 
L 1010.39 812.60 
L 1010.24 812.04 
L 1010.10 811.49 
L 1009.96 810.94 
L 1009.83 810.38 
L 1009.69 809.83 
L 1009.56 809.28 
L 1009.44 808.72 
L 1009.32 808.17 
L 1009.20 807.62 
L 1009.09 807.07 
L 1008.98 806.51 
L 1008.88 805.96 
L 1008.78 805.41 
L 1008.69 804.85 
L 1008.60 804.30 
L 1008.52 803.75 
L 1008.45 803.20 
L 1008.38 802.64 
L 1008.31 802.09 
L 1008.26 801.54 
L 1008.21 800.98 
L 1008.17 800.43 
L 1008.13 799.88 
L 1008.10 799.32 
L 1008.08 798.77 
L 1008.07 798.22 
L 1008.07 797.67 
L 1008.07 797.11 
L 1008.07 796.56 
L 1008.07 796.01 
L 1008.07 795.45 
L 1008.07 794.90 
L 1008.07 794.35 
L 1008.07 793.8 
L 1008.07 793.24 
L 1008.07 792.69 
L 1008.07 792.14 
L 1008.07 791.58 
L 1008.07 791.03 
L 1008.07 790.48 
L 1008.07 789.92 
L 1008.07 789.37 
L 1008.07 788.82 
L 1008.07 788.27 
L 1008.07 787.71 
L 1008.07 787.16 
L 1008.07 786.61 
L 1008.07 786.05 
L 1008.07 785.50 
L 1008.07 784.95 
L 1008.07 784.39 
L 1008.07 783.84 
L 1008.07 783.29 
L 1008.07 782.74 
L 1008.07 782.18 
L 1008.07 781.63 
L 1008.07 781.08 
L 1008.07 780.52 
L 1008.07 779.97 
L 1008.07 779.42 
L 1008.07 778.87 
L 1008.09 778.31 
L 1008.12 777.76 
L 1008.15 777.21 
L 1008.20 776.65 
L 1008.26 776.10 
L 1008.33 775.55 
L 1008.41 774.99 
L 1008.50 774.44 
L 1008.60 773.89 
L 1008.72 773.34 
L 1008.84 772.78 
L 1008.97 772.23 
L 1009.11 771.68 
L 1009.26 771.12 
L 1009.42 770.57 
L 1009.59 770.02 
L 1009.77 769.46 
L 1009.96 768.91 
L 1010.16 768.36 
L 1010.37 767.81 
L 1010.58 767.25 
L 1010.81 766.70 
L 1011.04 766.15 
L 1011.29 765.59 
L 1011.54 765.04 
L 1011.80 764.49 
L 1012.07 763.94 
L 1012.35 763.38 
L 1012.63 762.83 
L 1012.93 762.28 
L 1013.23 761.72 
L 1013.54 761.17 
L 1013.86 760.62 
L 1014.26 760.06 
L 1014.82 759.51 
L 1015.50 758.96 
L 1016.30 758.41 
L 1017.21 757.85 
L 1018.19 757.30 
L 1019.24 756.75 
L 1020.34 756.19 
L 1021.47 755.64 
L 1022.62 755.09 
L 1023.77 754.53 
L 1024.90 753.98 
" clip-path="url(#p81dce7802c)" style="fill: none; stroke: #ff0000; stroke-width: 1.5; stroke-linecap: square"/>
</g>
<g id="text_94">
<g id="patch_32">
<path d="M 1071.70 288.88 
L 1142.32 288.88 
L 1142.32 236.64 
L 1071.70 236.64 
z
" style="fill: #eef0f5; opacity: 0.8"/>
</g>
<g transform="translate(1076.65 249.92)">
<text>
<tspan x="0" y="-0.82" style="font-style: oblique; font-size: 11.67px; font-family: 'Liberation Sans'" textLength="6.48" lengthAdjust="spacingAndGlyphs">η</tspan>
<tspan x="6.97" y="0.97" style="font-size: 8.09px; font-family: 'Liberation Sans'" textLength="4.51" lengthAdjust="spacingAndGlyphs">3</tspan>
<tspan x="11.87" y="0.97" style="font-size: 8.09px; font-family: 'Liberation Sans'" textLength="4.51" lengthAdjust="spacingAndGlyphs">5</tspan>
<tspan x="16.76" y="0.97" style="font-size: 8.09px; font-family: 'Liberation Sans'" textLength="4.51" lengthAdjust="spacingAndGlyphs">5</tspan>
<tspan x="21.96" y="-0.82" style="font-size: 12.22px; font-family: 'Liberation Serif'">:</tspan>
<tspan x="25.67" y="-0.82" style="font-size: 12.22px; font-family: 'Liberation Serif'"> </tspan>
<tspan x="29.17" y="-0.82" style="font-size: 12.22px; font-family: 'Liberation Serif'" textLength="6.50" lengthAdjust="spacingAndGlyphs">2</tspan>
<tspan x="36.17" y="-0.82" style="font-size: 12.22px; font-family: 'Liberation Serif'" textLength="6.50" lengthAdjust="spacingAndGlyphs">0</tspan>
<tspan x="43.16" y="-0.82" style="font-size: 12.22px; font-family: 'Liberation Serif'">.</tspan>
<tspan x="46.66" y="-0.82" style="font-size: 12.22px; font-family: 'Liberation Serif'" textLength="6.50" lengthAdjust="spacingAndGlyphs">1</tspan>
<tspan x="53.66" y="-0.82" style="font-size: 12.22px; font-family: 'Liberation Serif'" textLength="6.50" lengthAdjust="spacingAndGlyphs">5</tspan>
</text>
</g>
<g transform="translate(1076.65 265.77)">
<text>
<tspan x="0" y="-0.82" style="font-style: oblique; font-size: 11.67px; font-family: 'Liberation Sans'" textLength="6.48" lengthAdjust="spacingAndGlyphs">η</tspan>
<tspan x="6.97" y="0.97" style="font-size: 8.09px; font-family: 'Liberation Sans'" textLength="4.51" lengthAdjust="spacingAndGlyphs">5</tspan>
<tspan x="11.87" y="0.97" style="font-size: 8.09px; font-family: 'Liberation Sans'" textLength="4.51" lengthAdjust="spacingAndGlyphs">3</tspan>
<tspan x="16.76" y="0.97" style="font-size: 8.09px; font-family: 'Liberation Sans'" textLength="4.51" lengthAdjust="spacingAndGlyphs">2</tspan>
<tspan x="21.96" y="-0.82" style="font-size: 12.22px; font-family: 'Liberation Serif'">:</tspan>
<tspan x="25.67" y="-0.82" style="font-size: 12.22px; font-family: 'Liberation Serif'"> </tspan>
<tspan x="29.17" y="-0.82" style="font-size: 12.22px; font-family: 'Liberation Serif'" textLength="6.50" lengthAdjust="spacingAndGlyphs">9</tspan>
<tspan x="36.17" y="-0.82" style="font-size: 12.22px; font-family: 'Liberation Serif'">.</tspan>
<tspan x="39.66" y="-0.82" style="font-size: 12.22px; font-family: 'Liberation Serif'" textLength="6.50" lengthAdjust="spacingAndGlyphs">7</tspan>
<tspan x="46.66" y="-0.82" style="font-size: 12.22px; font-family: 'Liberation Serif'" textLength="6.50" lengthAdjust="spacingAndGlyphs">9</tspan>
</text>
</g>
<g transform="translate(1076.65 281.62)">
<text>
<tspan x="0" y="-0.82" style="font-style: oblique; font-size: 11.67px; font-family: 'Liberation Sans'" textLength="6.48" lengthAdjust="spacingAndGlyphs">η</tspan>
<tspan x="6.97" y="0.97" style="font-size: 8.09px; font-family: 'Liberation Sans'" textLength="4.51" lengthAdjust="spacingAndGlyphs">1</tspan>
<tspan x="11.87" y="0.97" style="font-size: 8.09px; font-family: 'Liberation Sans'" textLength="4.51" lengthAdjust="spacingAndGlyphs">0</tspan>
<tspan x="16.76" y="0.97" style="font-size: 8.09px; font-family: 'Liberation Sans'" textLength="4.51" lengthAdjust="spacingAndGlyphs">6</tspan>
<tspan x="21.66" y="0.97" style="font-size: 8.09px; font-family: 'Liberation Sans'" textLength="4.51" lengthAdjust="spacingAndGlyphs">4</tspan>
<tspan x="26.86" y="-0.82" style="font-size: 12.22px; font-family: 'Liberation Serif'">:</tspan>
<tspan x="30.57" y="-0.82" style="font-size: 12.22px; font-family: 'Liberation Serif'"> </tspan>
<tspan x="34.07" y="-0.82" style="font-size: 12.22px; font-family: 'Liberation Serif'" textLength="6.50" lengthAdjust="spacingAndGlyphs">1</tspan>
<tspan x="41.06" y="-0.82" style="font-size: 12.22px; font-family: 'Liberation Serif'">.</tspan>
<tspan x="44.56" y="-0.82" style="font-size: 12.22px; font-family: 'Liberation Serif'" textLength="6.50" lengthAdjust="spacingAndGlyphs">7</tspan>
<tspan x="51.56" y="-0.82" style="font-size: 12.22px; font-family: 'Liberation Serif'" textLength="6.50" lengthAdjust="spacingAndGlyphs">0</tspan>
</text>
</g>
</g>
<g id="legend_5">
<g id="patch_33">
<path d="M 995.34 206.46 
L 1159 206.46 
Q 1161.20 206.46 1161.20 204.26 
L 1161.20 96.47 
Q 1161.20 94.27 1159 94.27 
L 995.34 94.27 
Q 993.14 94.27 993.14 96.47 
L 993.14 204.26 
Q 993.14 206.46 995.34 206.46 
z
" style="fill: #ffffff; opacity: 0.8; stroke: #cccccc; stroke-linejoin: miter"/>
</g>
<g id="line2d_233">
<path d="M 998.64 104.28 
L 1009.64 104.28 
L 1020.64 104.28 
" style="fill: none; stroke: #0000ff; stroke-width: 1.5; stroke-linecap: square"/>
</g>
<g id="text_95">
<text style="font-size: 12.22px; font-family: 'Liberation Serif'; text-anchor: start" x="1029.44" y="108.13" transform="rotate(-0 1029.44 108.13)" textLength="120.45" lengthAdjust="spacingAndGlyphs">parDepol_raman_355</text>
</g>
<g id="line2d_234">
<path d="M 998.64 122.33 
L 1009.64 122.33 
L 1020.64 122.33 
" style="fill: none; stroke: #008000; stroke-width: 1.5; stroke-linecap: square"/>
</g>
<g id="text_96">
<text style="font-size: 12.22px; font-family: 'Liberation Serif'; text-anchor: start" x="1029.44" y="126.18" transform="rotate(-0 1029.44 126.18)" textLength="120.45" lengthAdjust="spacingAndGlyphs">parDepol_raman_532</text>
</g>
<g id="line2d_235">
<path d="M 998.64 140.37 
L 1009.64 140.37 
L 1020.64 140.37 
" style="fill: none; stroke: #ff0000; stroke-width: 1.5; stroke-linecap: square"/>
</g>
<g id="text_97">
<text style="font-size: 12.22px; font-family: 'Liberation Serif'; text-anchor: start" x="1029.44" y="144.22" transform="rotate(-0 1029.44 144.22)" textLength="127.52" lengthAdjust="spacingAndGlyphs">parDepol_raman_1064</text>
</g>
<g id="line2d_236">
<path d="M 998.64 158.42 
L 1009.64 158.42 
L 1020.64 158.42 
" style="fill: none; stroke: #00ffff; stroke-width: 1.5; stroke-linecap: square"/>
</g>
<g id="text_98">
<text style="font-size: 12.22px; font-family: 'Liberation Serif'; text-anchor: start" x="1029.44" y="162.27" transform="rotate(-0 1029.44 162.27)" textLength="109.99" lengthAdjust="spacingAndGlyphs">parDepol_klett_355</text>
</g>
<g id="line2d_237">
<path d="M 998.64 176.47 
L 1009.64 176.47 
L 1020.64 176.47 
" style="fill: none; stroke: #00ff00; stroke-width: 1.5; stroke-linecap: square"/>
</g>
<g id="text_99">
<text style="font-size: 12.22px; font-family: 'Liberation Serif'; text-anchor: start" x="1029.44" y="180.32" transform="rotate(-0 1029.44 180.32)" textLength="109.99" lengthAdjust="spacingAndGlyphs">parDepol_klett_532</text>
</g>
<g id="line2d_238">
<path d="M 998.64 194.51 
L 1009.64 194.51 
L 1020.64 194.51 
" style="fill: none; stroke: #fa8072; stroke-width: 1.5; stroke-linecap: square"/>
</g>
<g id="text_100">
<text style="font-size: 12.22px; font-family: 'Liberation Serif'; text-anchor: start" x="1029.44" y="198.36" transform="rotate(-0 1029.44 198.36)" textLength="117.06" lengthAdjust="spacingAndGlyphs">parDepol_klett_1064</text>
</g>
</g>
</g>
<g id="axes_6">
<g id="patch_34">
<path d="M 1225.65 862.92 
L 1391.18 862.92 
L 1391.18 88.77 
L 1225.65 88.77 
z
" style="fill: #ffffff"/>
</g>
<g id="matplotlib.axis_11">
<g id="xtick_20">
<g id="line2d_239">
<path d="M 1225.65 862.92 
L 1225.65 88.77 
" clip-path="url(#pdf2866a538)" style="fill: none; stroke: #b0b0b0; stroke-width: 0.8; stroke-linecap: square"/>
</g>
<g id="line2d_240">
<g>
<use href="#mabf18fba1c" x="1225.65" y="862.92" style="stroke: #000000; stroke-width: 1.5"/>
</g>
</g>
<g id="text_101">
<text style="font-size: 13.20px; font-family: 'Liberation Serif'; text-anchor: middle" x="1225.65" y="878.67"  textLength="7.63" lengthAdjust="spacingAndGlyphs">0</text>
</g>
</g>
<g id="xtick_21">
<g id="line2d_241">
<path d="M 1291.86 862.92 
L 1291.86 88.77 
" clip-path="url(#pdf2866a538)" style="fill: none; stroke: #b0b0b0; stroke-width: 0.8; stroke-linecap: square"/>
</g>
<g id="line2d_242">
<g>
<use href="#mabf18fba1c" x="1291.86" y="862.92" style="stroke: #000000; stroke-width: 1.5"/>
</g>
</g>
<g id="text_102">
<text style="font-size: 13.20px; font-family: 'Liberation Serif'; text-anchor: middle" x="1291.86" y="878.67"  textLength="15.27" lengthAdjust="spacingAndGlyphs">20</text>
</g>
</g>
<g id="xtick_22">
<g id="line2d_243">
<path d="M 1358.07 862.92 
L 1358.07 88.77 
" clip-path="url(#pdf2866a538)" style="fill: none; stroke: #b0b0b0; stroke-width: 0.8; stroke-linecap: square"/>
</g>
<g id="line2d_244">
<g>
<use href="#mabf18fba1c" x="1358.07" y="862.92" style="stroke: #000000; stroke-width: 1.5"/>
</g>
</g>
<g id="text_103">
<text style="font-size: 13.20px; font-family: 'Liberation Serif'; text-anchor: middle" x="1358.07" y="878.67"  textLength="15.27" lengthAdjust="spacingAndGlyphs">40</text>
</g>
</g>
<g id="text_104">
<g transform="translate(1309.68 900.07) scale(1.040) translate(-60.55 0)">
<text>
<tspan x="0" y="-0.49" style="font-size: 15.99px; font-family: 'Liberation Serif'" textLength="13.77" lengthAdjust="spacingAndGlyphs">W</tspan>
<tspan x="14.38" y="-0.49" style="font-size: 15.99px; font-family: 'Liberation Serif'" textLength="9.67" lengthAdjust="spacingAndGlyphs">V</tspan>
<tspan x="24.5" y="-0.49" style="font-size: 15.99px; font-family: 'Liberation Serif'" textLength="13.72" lengthAdjust="spacingAndGlyphs">M</tspan>
<tspan x="38.83" y="-0.49" style="font-size: 15.99px; font-family: 'Liberation Serif'" textLength="10.09" lengthAdjust="spacingAndGlyphs">R</tspan>
<tspan x="49.37" y="-0.49" style="font-size: 15.99px; font-family: 'Liberation Serif'"> </tspan>
<tspan x="53.82" y="-0.49" style="font-size: 15.99px; font-family: 'Liberation Serif'" textLength="5.23" lengthAdjust="spacingAndGlyphs">[</tspan>
<tspan x="113.10" y="-0.49" style="font-size: 15.99px; font-family: 'Liberation Serif'" textLength="5.23" lengthAdjust="spacingAndGlyphs">]</tspan>
<tspan x="59.28" y="-0.49" style="font-style: oblique; font-size: 15.27px; font-family: 'Liberation Sans'" textLength="8.50" lengthAdjust="spacingAndGlyphs">g</tspan>
<tspan x="80.62" y="-0.49" style="font-style: oblique; font-size: 15.27px; font-family: 'Liberation Sans'" textLength="7.76" lengthAdjust="spacingAndGlyphs">k</tspan>
<tspan x="88.73" y="-0.49" style="font-style: oblique; font-size: 15.27px; font-family: 'Liberation Sans'" textLength="8.50" lengthAdjust="spacingAndGlyphs">g</tspan>
<tspan x="70.90" y="-0.49" style="font-size: 15.27px; font-family: 'Liberation Sans'" textLength="6.70" lengthAdjust="spacingAndGlyphs">*</tspan>
<tspan x="98.27" y="-5.85" style="font-size: 10.68px; font-family: 'Liberation Sans'">−</tspan>
<tspan x="106.48" y="-5.85" style="font-size: 10.68px; font-family: 'Liberation Sans'" textLength="5.97" lengthAdjust="spacingAndGlyphs">1</tspan>
</text>
</g>
</g>
</g>
<g id="matplotlib.axis_12">
<g id="ytick_41">
<g id="line2d_245">
<path d="M 1225.65 862.92 
L 1391.18 862.92 
" clip-path="url(#pdf2866a538)" style="fill: none; stroke: #b0b0b0; stroke-width: 0.8; stroke-linecap: square"/>
</g>
<g id="line2d_246">
<g>
<use href="#m7d13c92054" x="1225.65" y="862.92" style="stroke: #000000; stroke-width: 1.5"/>
</g>
</g>
<g id="line2d_247">
<g>
<use href="#m4b7ecec418" x="1391.18" y="862.92" style="stroke: #000000; stroke-width: 1.5"/>
</g>
</g>
<g id="text_105">
<text style="font-size: 13.20px; font-family: 'Liberation Serif'; text-anchor: end" x="1218.15" y="867.47" transform="rotate(-0 1218.15 867.47)" textLength="7.63" lengthAdjust="spacingAndGlyphs">0</text>
</g>
</g>
<g id="ytick_42">
<g id="line2d_248">
<path d="M 1225.65 752.32 
L 1391.18 752.32 
" clip-path="url(#pdf2866a538)" style="fill: none; stroke: #b0b0b0; stroke-width: 0.8; stroke-linecap: square"/>
</g>
<g id="line2d_249">
<g>
<use href="#m7d13c92054" x="1225.65" y="752.32" style="stroke: #000000; stroke-width: 1.5"/>
</g>
</g>
<g id="line2d_250">
<g>
<use href="#m4b7ecec418" x="1391.18" y="752.32" style="stroke: #000000; stroke-width: 1.5"/>
</g>
</g>
<g id="text_106">
<text style="font-size: 13.20px; font-family: 'Liberation Serif'; text-anchor: end" x="1218.15" y="756.88" transform="rotate(-0 1218.15 756.88)" textLength="7.63" lengthAdjust="spacingAndGlyphs">2</text>
</g>
</g>
<g id="ytick_43">
<g id="line2d_251">
<path d="M 1225.65 641.73 
L 1391.18 641.73 
" clip-path="url(#pdf2866a538)" style="fill: none; stroke: #b0b0b0; stroke-width: 0.8; stroke-linecap: square"/>
</g>
<g id="line2d_252">
<g>
<use href="#m7d13c92054" x="1225.65" y="641.73" style="stroke: #000000; stroke-width: 1.5"/>
</g>
</g>
<g id="line2d_253">
<g>
<use href="#m4b7ecec418" x="1391.18" y="641.73" style="stroke: #000000; stroke-width: 1.5"/>
</g>
</g>
<g id="text_107">
<text style="font-size: 13.20px; font-family: 'Liberation Serif'; text-anchor: end" x="1218.15" y="646.29" transform="rotate(-0 1218.15 646.29)" textLength="7.63" lengthAdjust="spacingAndGlyphs">4</text>
</g>
</g>
<g id="ytick_44">
<g id="line2d_254">
<path d="M 1225.65 531.14 
L 1391.18 531.14 
" clip-path="url(#pdf2866a538)" style="fill: none; stroke: #b0b0b0; stroke-width: 0.8; stroke-linecap: square"/>
</g>
<g id="line2d_255">
<g>
<use href="#m7d13c92054" x="1225.65" y="531.14" style="stroke: #000000; stroke-width: 1.5"/>
</g>
</g>
<g id="line2d_256">
<g>
<use href="#m4b7ecec418" x="1391.18" y="531.14" style="stroke: #000000; stroke-width: 1.5"/>
</g>
</g>
<g id="text_108">
<text style="font-size: 13.20px; font-family: 'Liberation Serif'; text-anchor: end" x="1218.15" y="535.70" transform="rotate(-0 1218.15 535.70)" textLength="7.63" lengthAdjust="spacingAndGlyphs">6</text>
</g>
</g>
<g id="ytick_45">
<g id="line2d_257">
<path d="M 1225.65 420.55 
L 1391.18 420.55 
" clip-path="url(#pdf2866a538)" style="fill: none; stroke: #b0b0b0; stroke-width: 0.8; stroke-linecap: square"/>
</g>
<g id="line2d_258">
<g>
<use href="#m7d13c92054" x="1225.65" y="420.55" style="stroke: #000000; stroke-width: 1.5"/>
</g>
</g>
<g id="line2d_259">
<g>
<use href="#m4b7ecec418" x="1391.18" y="420.55" style="stroke: #000000; stroke-width: 1.5"/>
</g>
</g>
<g id="text_109">
<text style="font-size: 13.20px; font-family: 'Liberation Serif'; text-anchor: end" x="1218.15" y="425.11" transform="rotate(-0 1218.15 425.11)" textLength="7.63" lengthAdjust="spacingAndGlyphs">8</text>
</g>
</g>
<g id="ytick_46">
<g id="line2d_260">
<path d="M 1225.65 309.96 
L 1391.18 309.96 
" clip-path="url(#pdf2866a538)" style="fill: none; stroke: #b0b0b0; stroke-width: 0.8; stroke-linecap: square"/>
</g>
<g id="line2d_261">
<g>
<use href="#m7d13c92054" x="1225.65" y="309.96" style="stroke: #000000; stroke-width: 1.5"/>
</g>
</g>
<g id="line2d_262">
<g>
<use href="#m4b7ecec418" x="1391.18" y="309.96" style="stroke: #000000; stroke-width: 1.5"/>
</g>
</g>
<g id="text_110">
<text style="font-size: 13.20px; font-family: 'Liberation Serif'; text-anchor: end" x="1218.15" y="314.51" transform="rotate(-0 1218.15 314.51)" textLength="15.27" lengthAdjust="spacingAndGlyphs">10</text>
</g>
</g>
<g id="ytick_47">
<g id="line2d_263">
<path d="M 1225.65 199.36 
L 1391.18 199.36 
" clip-path="url(#pdf2866a538)" style="fill: none; stroke: #b0b0b0; stroke-width: 0.8; stroke-linecap: square"/>
</g>
<g id="line2d_264">
<g>
<use href="#m7d13c92054" x="1225.65" y="199.36" style="stroke: #000000; stroke-width: 1.5"/>
</g>
</g>
<g id="line2d_265">
<g>
<use href="#m4b7ecec418" x="1391.18" y="199.36" style="stroke: #000000; stroke-width: 1.5"/>
</g>
</g>
<g id="text_111">
<text style="font-size: 13.20px; font-family: 'Liberation Serif'; text-anchor: end" x="1218.15" y="203.92" transform="rotate(-0 1218.15 203.92)" textLength="15.27" lengthAdjust="spacingAndGlyphs">12</text>
</g>
</g>
<g id="ytick_48">
<g id="line2d_266">
<path d="M 1225.65 88.77 
L 1391.18 88.77 
" clip-path="url(#pdf2866a538)" style="fill: none; stroke: #b0b0b0; stroke-width: 0.8; stroke-linecap: square"/>
</g>
<g id="line2d_267">
<g>
<use href="#m7d13c92054" x="1225.65" y="88.77" style="stroke: #000000; stroke-width: 1.5"/>
</g>
</g>
<g id="line2d_268">
<g>
<use href="#m4b7ecec418" x="1391.18" y="88.77" style="stroke: #000000; stroke-width: 1.5"/>
</g>
</g>
<g id="text_112">
<text style="font-size: 13.20px; font-family: 'Liberation Serif'; text-anchor: end" x="1218.15" y="93.33" transform="rotate(-0 1218.15 93.33)" textLength="15.27" lengthAdjust="spacingAndGlyphs">14</text>
</g>
</g>
</g>
<g id="line2d_269">
<path d="M 1225.82 862.92 
L 1225.82 847.12 
L 1225.82 831.32 
L 1225.82 815.52 
L 1225.82 799.72 
L 1225.82 783.92 
L 1225.82 768.12 
L 1225.82 752.32 
L 1225.82 736.52 
L 1225.82 720.73 
L 1225.82 704.93 
L 1225.82 689.13 
L 1225.82 673.33 
L 1225.82 657.53 
L 1225.82 641.73 
L 1225.82 625.93 
L 1225.82 610.13 
L 1225.82 594.33 
L 1225.82 578.54 
L 1225.82 562.74 
L 1225.82 546.94 
L 1225.82 531.14 
L 1225.82 515.34 
L 1225.82 499.54 
L 1225.82 483.74 
L 1225.82 467.94 
L 1225.82 452.14 
L 1225.82 436.35 
L 1225.82 420.55 
L 1225.82 404.75 
L 1225.82 388.95 
L 1225.82 373.15 
L 1225.82 357.35 
L 1225.82 341.55 
L 1225.82 325.75 
L 1225.82 309.96 
L 1225.82 294.16 
L 1225.82 278.36 
L 1225.82 262.56 
L 1225.82 246.76 
L 1225.82 230.96 
L 1225.82 215.16 
L 1225.82 199.36 
L 1225.82 183.56 
L 1225.82 167.77 
L 1225.82 151.97 
L 1225.82 136.17 
L 1225.82 120.37 
L 1225.82 104.57 
L 1225.82 88.77 
" clip-path="url(#pdf2866a538)" style="fill: none; stroke: #0000ff; stroke-opacity: 0.5; stroke-width: 0.6; stroke-linecap: square"/>
</g>
<g id="patch_35">
<path d="M 1225.65 862.92 
L 1225.65 88.77 
" style="fill: none; stroke: #000000; stroke-width: 0.8; stroke-linejoin: miter; stroke-linecap: square"/>
</g>
<g id="patch_36">
<path d="M 1391.18 862.92 
L 1391.18 88.77 
" style="fill: none; stroke: #000000; stroke-width: 0.8; stroke-linejoin: miter; stroke-linecap: square"/>
</g>
<g id="patch_37">
<path d="M 1225.65 862.92 
L 1391.18 862.92 
" style="fill: none; stroke: #000000; stroke-width: 0.8; stroke-linejoin: miter; stroke-linecap: square"/>
</g>
<g id="patch_38">
<path d="M 1225.65 88.77 
L 1391.18 88.77 
" style="fill: none; stroke: #000000; stroke-width: 0.8; stroke-linejoin: miter; stroke-linecap: square"/>
</g>
<g id="legend_6">
<g id="patch_39">
<path d="M 1307.28 115.92 
L 1383.48 115.92 
Q 1385.68 115.92 1385.68 113.72 
L 1385.68 96.47 
Q 1385.68 94.27 1383.48 94.27 
L 1307.28 94.27 
Q 1305.08 94.27 1305.08 96.47 
L 1305.08 113.72 
Q 1305.08 115.92 1307.28 115.92 
z
" style="fill: #ffffff; opacity: 0.8; stroke: #cccccc; stroke-linejoin: miter"/>
</g>
<g id="line2d_270">
<path d="M 1310.58 104.28 
L 1321.58 104.28 
L 1332.58 104.28 
" style="fill: none; stroke: #0000ff; stroke-width: 1.5; stroke-linecap: square"/>
</g>
<g id="text_113">
<text style="font-size: 12.22px; font-family: 'Liberation Serif'; text-anchor: start" x="1341.38" y="108.13" transform="rotate(-0 1341.38 108.13)" textLength="39.18" lengthAdjust="spacingAndGlyphs">WVMR</text>
</g>
</g>
</g>
<g id="axes_7">
<g id="matplotlib.axis_13">
<g id="xtick_23">
<g id="line2d_271">
<g>
<use href="#m81def42b3b" x="1225.65" y="88.77" style="stroke: #000000; stroke-width: 1.5"/>
</g>
</g>
<g id="text_114">
<text style="font-size: 13.20px; font-family: 'Liberation Serif'; text-anchor: middle" x="1225.65" y="79.50"  textLength="7.63" lengthAdjust="spacingAndGlyphs">0</text>
</g>
</g>
<g id="xtick_24">
<g id="line2d_272">
<g>
<use href="#m81def42b3b" x="1267.03" y="88.77" style="stroke: #000000; stroke-width: 1.5"/>
</g>
</g>
<g id="text_115">
<text style="font-size: 13.20px; font-family: 'Liberation Serif'; text-anchor: middle" x="1267.03" y="79.50"  textLength="15.27" lengthAdjust="spacingAndGlyphs">25</text>
</g>
</g>
<g id="xtick_25">
<g id="line2d_273">
<g>
<use href="#m81def42b3b" x="1308.42" y="88.77" style="stroke: #000000; stroke-width: 1.5"/>
</g>
</g>
<g id="text_116">
<text style="font-size: 13.20px; font-family: 'Liberation Serif'; text-anchor: middle" x="1308.42" y="79.50"  textLength="15.27" lengthAdjust="spacingAndGlyphs">50</text>
</g>
</g>
<g id="xtick_26">
<g id="line2d_274">
<g>
<use href="#m81def42b3b" x="1349.80" y="88.77" style="stroke: #000000; stroke-width: 1.5"/>
</g>
</g>
<g id="text_117">
<text style="font-size: 13.20px; font-family: 'Liberation Serif'; text-anchor: middle" x="1349.80" y="79.50"  textLength="15.27" lengthAdjust="spacingAndGlyphs">75</text>
</g>
</g>
<g id="xtick_27">
<g id="line2d_275">
<g>
<use href="#m81def42b3b" x="1391.18" y="88.77" style="stroke: #000000; stroke-width: 1.5"/>
</g>
</g>
<g id="text_118">
<text style="font-size: 13.20px; font-family: 'Liberation Serif'; text-anchor: middle" x="1391.18" y="79.50"  textLength="22.90" lengthAdjust="spacingAndGlyphs">100</text>
</g>
</g>
<g id="text_119">
<text style="font-size: 16.63px; font-family: 'Liberation Serif'; text-anchor: middle" x="1308.42" y="66.74"  textLength="127.28" lengthAdjust="spacingAndGlyphs">Rel.Humidity [%]</text>
</g>
</g>
<g id="line2d_276">
<path d="M 1318.35 90.15 
L 1391.18 90.71 
" clip-path="url(#pdf2866a538)" style="fill: none; stroke: #008000; stroke-width: 1.5; stroke-linecap: square"/>
</g>
<g id="line2d_277">
<path d="M 1327.62 94.85 
L 1391.18 95.41 
" clip-path="url(#pdf2866a538)" style="fill: none; stroke: #008000; stroke-width: 1.5; stroke-linecap: square"/>
</g>
<g id="line2d_278">
<path d="M 1303.45 111.72 
L 1328.28 112.27 
" clip-path="url(#pdf2866a538)" style="fill: none; stroke: #008000; stroke-width: 1.5; stroke-linecap: square"/>
</g>
<g id="line2d_279">
<path d="M 1326.62 110.06 
L 1336.55 110.61 
" clip-path="url(#pdf2866a538)" style="fill: none; stroke: #008000; stroke-width: 1.5; stroke-linecap: square"/>
</g>
<g id="line2d_280">
<path d="M 1304.44 149.32 
L 1341.52 149.87 
" clip-path="url(#pdf2866a538)" style="fill: none; stroke: #008000; stroke-width: 1.5; stroke-linecap: square"/>
</g>
<g id="line2d_281">
<path d="M 1349.80 162.59 
L 1357.25 163.14 
" clip-path="url(#pdf2866a538)" style="fill: none; stroke: #008000; stroke-width: 1.5; stroke-linecap: square"/>
</g>
<g id="line2d_282">
<path d="M 1351.45 225.08 
L 1391.18 225.63 
" clip-path="url(#pdf2866a538)" style="fill: none; stroke: #008000; stroke-width: 1.5; stroke-linecap: square"/>
</g>
<g id="line2d_283">
<path d="M 1368.01 223.42 
L 1391.18 223.97 
" clip-path="url(#pdf2866a538)" style="fill: none; stroke: #008000; stroke-width: 1.5; stroke-linecap: square"/>
</g>
<g id="line2d_284">
<path d="M 1312.88 246.09 
L 1391.18 246.64 
" clip-path="url(#pdf2866a538)" style="fill: none; stroke: #008000; stroke-width: 1.5; stroke-linecap: square"/>
</g>
<g id="line2d_285">
<path d="M 1332.25 248.85 
L 1391.18 249.41 
" clip-path="url(#pdf2866a538)" style="fill: none; stroke: #008000; stroke-width: 1.5; stroke-linecap: square"/>
</g>
<g id="line2d_286">
<path d="M 1295.17 252.17 
L 1338.21 252.72 
" clip-path="url(#pdf2866a538)" style="fill: none; stroke: #008000; stroke-width: 1.5; stroke-linecap: square"/>
</g>
<g id="line2d_287">
<path d="M 1367.51 259.91 
L 1391.18 260.47 
" clip-path="url(#pdf2866a538)" style="fill: none; stroke: #008000; stroke-width: 1.5; stroke-linecap: square"/>
</g>
<g id="line2d_288">
<path d="M 1272 269.31 
L 1276.14 269.87 
" clip-path="url(#pdf2866a538)" style="fill: none; stroke: #008000; stroke-width: 1.5; stroke-linecap: square"/>
</g>
<g id="line2d_289">
<path d="M 1339.37 272.63 
L 1346.16 273.18 
" clip-path="url(#pdf2866a538)" style="fill: none; stroke: #008000; stroke-width: 1.5; stroke-linecap: square"/>
</g>
<g id="line2d_290">
<path d="M 1262.07 278.71 
L 1267.03 279.27 
" clip-path="url(#pdf2866a538)" style="fill: none; stroke: #008000; stroke-width: 1.5; stroke-linecap: square"/>
</g>
<g id="line2d_291">
<path d="M 1256.27 286.45 
L 1263.72 287.01 
" clip-path="url(#pdf2866a538)" style="fill: none; stroke: #008000; stroke-width: 1.5; stroke-linecap: square"/>
</g>
<g id="line2d_292">
<path d="M 1258.76 287.56 
L 1262.07 288.11 
" clip-path="url(#pdf2866a538)" style="fill: none; stroke: #008000; stroke-width: 1.5; stroke-linecap: square"/>
</g>
<g id="line2d_293">
<path d="M 1253.13 298.62 
L 1268.03 299.17 
" clip-path="url(#pdf2866a538)" style="fill: none; stroke: #008000; stroke-width: 1.5; stroke-linecap: square"/>
</g>
<g id="line2d_294">
<path d="M 1245.18 305.81 
L 1251.14 306.36 
" clip-path="url(#pdf2866a538)" style="fill: none; stroke: #008000; stroke-width: 1.5; stroke-linecap: square"/>
</g>
<g id="line2d_295">
<path d="M 1243.53 313 
L 1272 313.55 
" clip-path="url(#pdf2866a538)" style="fill: none; stroke: #008000; stroke-width: 1.5; stroke-linecap: square"/>
</g>
<g id="line2d_296">
<path d="M 1243.03 326.82 
L 1263.06 327.37 
" clip-path="url(#pdf2866a538)" style="fill: none; stroke: #008000; stroke-width: 1.5; stroke-linecap: square"/>
</g>
<g id="line2d_297">
<path d="M 1236.24 345.07 
L 1249.16 345.62 
" clip-path="url(#pdf2866a538)" style="fill: none; stroke: #008000; stroke-width: 1.5; stroke-linecap: square"/>
</g>
<g id="line2d_298">
<path d="M 1232.27 351.15 
L 1235.91 351.70 
" clip-path="url(#pdf2866a538)" style="fill: none; stroke: #008000; stroke-width: 1.5; stroke-linecap: square"/>
</g>
<g id="line2d_299">
<path d="M 1233.10 356.68 
L 1234.76 357.23 
" clip-path="url(#pdf2866a538)" style="fill: none; stroke: #008000; stroke-width: 1.5; stroke-linecap: square"/>
</g>
<g id="line2d_300">
<path d="M 1231.44 363.32 
L 1233.93 363.87 
" clip-path="url(#pdf2866a538)" style="fill: none; stroke: #008000; stroke-width: 1.5; stroke-linecap: square"/>
</g>
<g id="line2d_301">
<path d="M 1229.29 384.88 
L 1236.24 385.43 
" clip-path="url(#pdf2866a538)" style="fill: none; stroke: #008000; stroke-width: 1.5; stroke-linecap: square"/>
</g>
<g id="line2d_302">
<path d="M 1227.64 397.60 
L 1228.63 398.15 
" clip-path="url(#pdf2866a538)" style="fill: none; stroke: #008000; stroke-width: 1.5; stroke-linecap: square"/>
</g>
<g id="line2d_303">
<path d="M 1226.31 411.98 
L 1227.14 412.53 
" clip-path="url(#pdf2866a538)" style="fill: none; stroke: #008000; stroke-width: 1.5; stroke-linecap: square"/>
</g>
<g id="line2d_304">
<path d="M 1225.77 862.92 
L 1226.56 860.15 
L 1225.69 857.39 
L 1225.92 854.62 
L 1225.97 851.86 
L 1225.69 849.09 
L 1226.64 846.33 
L 1225.93 843.56 
L 1226.01 838.03 
L 1226.41 835.27 
L 1225.94 832.50 
L 1225.75 829.74 
L 1225.99 826.97 
L 1226.03 824.21 
L 1225.91 821.44 
L 1226.58 818.68 
L 1225.99 815.91 
L 1225.94 813.15 
L 1225.77 810.38 
L 1226.07 807.62 
L 1226.14 804.85 
L 1226.36 802.09 
L 1225.94 799.32 
L 1226.37 796.56 
L 1226.14 793.8 
L 1226.01 782.74 
L 1225.72 779.97 
L 1226.22 777.21 
L 1226.24 774.44 
L 1225.93 768.91 
L 1226.59 766.15 
L 1225.68 763.38 
L 1225.92 760.62 
L 1225.98 757.85 
L 1226.40 755.09 
L 1225.85 752.32 
L 1226.15 749.56 
L 1225.80 746.79 
L 1226.22 744.03 
L 1225.86 741.26 
L 1226.07 735.73 
L 1225.71 732.97 
L 1226.11 730.20 
L 1225.81 727.44 
L 1225.96 724.68 
L 1225.77 721.91 
L 1225.70 719.15 
L 1226.13 716.38 
L 1225.94 713.62 
L 1226.30 710.85 
L 1225.82 708.09 
L 1226.02 705.32 
L 1225.84 702.56 
L 1226.08 699.79 
L 1225.88 697.03 
L 1226.04 694.26 
L 1226.09 688.73 
L 1226.54 685.97 
L 1226.08 683.20 
L 1225.78 677.67 
L 1226.23 674.91 
L 1226.13 669.38 
L 1225.80 666.61 
L 1225.80 663.85 
L 1226.60 661.08 
L 1225.96 658.32 
L 1226.14 655.56 
L 1226.09 652.79 
L 1225.68 647.26 
L 1226.29 644.50 
L 1226.41 641.73 
L 1226.01 638.97 
L 1225.75 636.20 
L 1225.73 633.44 
L 1226.24 630.67 
L 1225.84 627.91 
L 1226.07 625.14 
L 1225.96 622.38 
L 1226.12 619.61 
L 1225.80 614.08 
L 1226.44 611.32 
L 1225.78 608.55 
L 1225.70 605.79 
L 1226.58 603.02 
L 1225.80 600.26 
L 1225.99 597.49 
L 1225.96 594.73 
L 1226.14 591.96 
L 1226.15 586.44 
L 1225.89 583.67 
L 1225.91 580.91 
L 1225.72 578.14 
L 1225.66 575.38 
L 1226.06 572.61 
L 1225.89 569.85 
L 1226.50 567.08 
L 1225.83 564.32 
L 1225.78 556.02 
L 1226.16 553.26 
L 1225.73 547.73 
L 1226.22 542.20 
L 1226.14 539.43 
L 1225.80 536.67 
L 1226.05 533.90 
L 1225.68 531.14 
L 1226.09 528.37 
L 1226.08 525.61 
L 1226.30 522.84 
L 1225.77 520.08 
L 1226.10 517.32 
L 1226.07 514.55 
L 1225.78 511.79 
L 1226.12 509.02 
L 1225.66 506.26 
L 1226.15 503.49 
L 1225.95 497.96 
L 1225.75 489.67 
L 1225.74 486.90 
L 1226.06 484.14 
L 1225.86 481.37 
L 1226.37 478.61 
L 1225.69 475.84 
L 1226.06 473.08 
L 1225.69 470.31 
L 1225.75 467.55 
L 1226.49 464.78 
L 1225.78 462.02 
L 1226.18 459.25 
L 1225.78 453.72 
L 1226.54 450.96 
L 1225.74 448.2 
L 1226.04 445.43 
L 1226.07 442.67 
L 1225.80 439.90 
L 1225.93 437.14 
L 1226.40 434.37 
L 1225.94 431.61 
L 1225.78 426.08 
L 1226.07 423.31 
L 1226.07 423.31 
" clip-path="url(#pdf2866a538)" style="fill: none; stroke: #008000; stroke-width: 1.5; stroke-linecap: square"/>
</g>
<g id="line2d_305">
<path d="M 1225.65 861.81 
L 1232.27 862.36 
" clip-path="url(#pdf2866a538)" style="fill: none; stroke: #008000; stroke-width: 1.5; stroke-linecap: square"/>
</g>
<g id="patch_40">
<path d="M 1225.65 862.92 
L 1225.65 88.77 
" style="fill: none; stroke: #000000; stroke-width: 0.8; stroke-linejoin: miter; stroke-linecap: square"/>
</g>
<g id="patch_41">
<path d="M 1391.18 862.92 
L 1391.18 88.77 
" style="fill: none; stroke: #000000; stroke-width: 0.8; stroke-linejoin: miter; stroke-linecap: square"/>
</g>
<g id="patch_42">
<path d="M 1225.65 862.92 
L 1391.18 862.92 
" style="fill: none; stroke: #000000; stroke-width: 0.8; stroke-linejoin: miter; stroke-linecap: square"/>
</g>
<g id="patch_43">
<path d="M 1225.65 88.77 
L 1391.18 88.77 
" style="fill: none; stroke: #000000; stroke-width: 0.8; stroke-linejoin: miter; stroke-linecap: square"/>
</g>
<g id="legend_7">
<g id="patch_44">
<path d="M 1311.49 156.17 
L 1366.76 156.17 
Q 1368.96 156.17 1368.96 153.97 
L 1368.96 136.73 
Q 1368.96 134.53 1366.76 134.53 
L 1311.49 134.53 
Q 1309.29 134.53 1309.29 136.73 
L 1309.29 153.97 
Q 1309.29 156.17 1311.49 156.17 
z
" style="fill: #ffffff; opacity: 0.8; stroke: #cccccc; stroke-linejoin: miter"/>
</g>
<g id="line2d_306">
<path d="M 1314.79 144.53 
L 1325.79 144.53 
L 1336.79 144.53 
" style="fill: none; stroke: #008000; stroke-width: 1.5; stroke-linecap: square"/>
</g>
<g id="text_120">
<text style="font-size: 12.22px; font-family: 'Liberation Serif'; text-anchor: start" x="1345.59" y="148.38" transform="rotate(-0 1345.59 148.38)" textLength="18.05" lengthAdjust="spacingAndGlyphs">RH</text>
</g>
</g>
</g>
<g id="text_121">
<text style="font-size: 17.60px; font-family: 'Liberation Serif'; text-anchor: middle" x="720" y="30.83" transform="rotate(-0 720 30.83)" textLength="638.50" lengthAdjust="spacingAndGlyphs">Summary of QC profile plots for pollyxt_fmi at Leipzig2 20251030 18:53-19:52</text>
</g>
</g>
<defs>
<clipPath id="p21842c6471">
<rect x="103.24" y="88.77" width="165.52" height="774.14"/>
</clipPath>
<clipPath id="p5aa6ab8a2a">
<rect x="327.72" y="88.77" width="165.52" height="774.14"/>
</clipPath>
<clipPath id="p3195266961">
<rect x="552.21" y="88.77" width="165.52" height="774.14"/>
</clipPath>
<clipPath id="p853f674152">
<rect x="776.69" y="88.77" width="165.52" height="774.14"/>
</clipPath>
<clipPath id="p81dce7802c">
<rect x="1001.17" y="88.77" width="165.52" height="774.14"/>
</clipPath>
<clipPath id="pdf2866a538">
<rect x="1225.65" y="88.77" width="165.52" height="774.14"/>
</clipPath>
</defs>
<g transform="scale(0.72)">
<rect x="195" y="1276" width="211" height="66" fill="#f0f2f6"/>
<text x="200.4" y="1294.8" font-family="'Liberation Serif', serif" font-size="16.81" fill="#000" text-anchor="start" textLength="191.1" lengthAdjust="spacingAndGlyphs">ref.H_355: 8.55-9.96 km</text>
<text x="200.4" y="1314.2" font-family="'Liberation Serif', serif" font-size="16.81" fill="#000" text-anchor="start" textLength="191.1" lengthAdjust="spacingAndGlyphs">ref.H_532: 7.81-9.31 km</text>
<text x="200.4" y="1334.0" font-family="'Liberation Serif', serif" font-size="16.81" fill="#000" text-anchor="start" textLength="200.9" lengthAdjust="spacingAndGlyphs">ref.H_1064: 5.11-6.60 km</text>
<rect x="1695" y="1274" width="165" height="27.6" fill="#f0f2f6"/>
<text x="1700.7" y="1292.1" font-family="'Liberation Serif', serif" font-size="16.81" fill="#000" text-anchor="start" textLength="155.6" lengthAdjust="spacingAndGlyphs">WV-calib.const.: 1.0</text>
<text x="1001.4" y="1327.8" font-family="'Liberation Serif', serif" font-size="14.51" font-weight="bold" fill="#ff1a1a" text-anchor="start" textLength="87.9" lengthAdjust="spacingAndGlyphs">Preliminary</text>
<text x="1001.4" y="1342.8" font-family="'Liberation Serif', serif" font-size="14.51" font-weight="bold" fill="#ff1a1a" text-anchor="start" textLength="60.1" lengthAdjust="spacingAndGlyphs">Results.</text>
<text x="1500.6" y="1331.6" font-family="'Liberation Serif', serif" font-size="12.22" font-weight="bold" fill="#000" text-anchor="start" textLength="150.0" lengthAdjust="spacingAndGlyphs">© TROPOS &amp; FMI 2025.</text>
<text x="1500.4" y="1343.8" font-family="'Liberation Serif', serif" font-size="12.22" font-weight="bold" fill="#000" text-anchor="start" textLength="137.4" lengthAdjust="spacingAndGlyphs">CC BY SA 4.0 License.</text>
<g>
<rect x="662.5" y="1297.5" width="155" height="54" rx="2" fill="#b9bdb8" stroke="#333" stroke-width="1.2"/>
<path d="M662.5 1336 H818 V1351.5 H662.5 Z" fill="#333"/>
<circle cx="689" cy="1322.5" r="24.5" fill="#b9bdb8"/>
<circle cx="689" cy="1322.5" r="18.2" fill="#fff" stroke="#333" stroke-width="3.6"/>
<text x="689" y="1329.5" font-family="'Liberation Sans', sans-serif" font-weight="bold" font-size="23" fill="#333" text-anchor="middle" textLength="23" lengthAdjust="spacingAndGlyphs">cc</text>
<circle cx="744.3" cy="1316.5" r="13.2" fill="#fff" stroke="#333" stroke-width="2.6"/>
<circle cx="744.3" cy="1309.2" r="1.8" fill="#333"/>
<path d="M740.3 1312.5 H748.3 V1319.5 H746.3 V1326 H742.3 V1319.5 H740.3 Z" fill="#333"/>
<circle cx="781.2" cy="1316.5" r="13.2" fill="#fff" stroke="#333" stroke-width="2.6"/>
<path d="M775.5 1314.5 A6.2 6.2 0 1 1 776.5 1320.5" fill="none" stroke="#333" stroke-width="2.6"/>
<path d="M772.5 1313.5 L775.8 1318.8 L779 1313.5 Z" fill="#333"/>
<text x="743.3" y="1349" font-family="'Liberation Sans', sans-serif" font-weight="bold" font-size="11" fill="#fff" text-anchor="middle">BY</text>
<text x="780" y="1349" font-family="'Liberation Sans', sans-serif" font-weight="bold" font-size="11" fill="#fff" text-anchor="middle">SA</text>
</g>
</g>
</svg>
</body></html>
